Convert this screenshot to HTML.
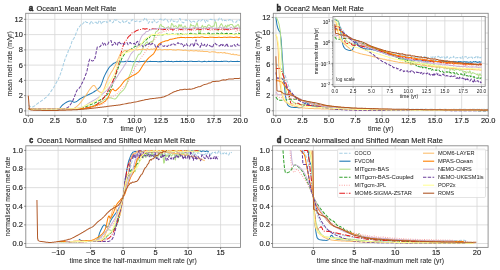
<!DOCTYPE html><html><head><meta charset="utf-8"><style>html,body{margin:0;padding:0;background:#fff;}svg{display:block;will-change:transform;}</style></head><body><svg width="500" height="270" viewBox="0 0 500 270" font-family="Liberation Sans, sans-serif">
<rect width="500" height="270" fill="#fff"/>
<rect x="25.7" y="13.3" width="214.9" height="102.0" fill="#fff"/>
<line x1="28.30" y1="13.3" x2="28.30" y2="115.3" stroke="#d6d6d6" stroke-width="0.8"/>
<line x1="54.84" y1="13.3" x2="54.84" y2="115.3" stroke="#d6d6d6" stroke-width="0.8"/>
<line x1="81.38" y1="13.3" x2="81.38" y2="115.3" stroke="#d6d6d6" stroke-width="0.8"/>
<line x1="107.91" y1="13.3" x2="107.91" y2="115.3" stroke="#d6d6d6" stroke-width="0.8"/>
<line x1="134.45" y1="13.3" x2="134.45" y2="115.3" stroke="#d6d6d6" stroke-width="0.8"/>
<line x1="160.99" y1="13.3" x2="160.99" y2="115.3" stroke="#d6d6d6" stroke-width="0.8"/>
<line x1="187.53" y1="13.3" x2="187.53" y2="115.3" stroke="#d6d6d6" stroke-width="0.8"/>
<line x1="214.06" y1="13.3" x2="214.06" y2="115.3" stroke="#d6d6d6" stroke-width="0.8"/>
<line x1="25.7" y1="110.90" x2="240.6" y2="110.90" stroke="#d6d6d6" stroke-width="0.8"/>
<line x1="25.7" y1="95.64" x2="240.6" y2="95.64" stroke="#d6d6d6" stroke-width="0.8"/>
<line x1="25.7" y1="80.38" x2="240.6" y2="80.38" stroke="#d6d6d6" stroke-width="0.8"/>
<line x1="25.7" y1="65.12" x2="240.6" y2="65.12" stroke="#d6d6d6" stroke-width="0.8"/>
<line x1="25.7" y1="49.86" x2="240.6" y2="49.86" stroke="#d6d6d6" stroke-width="0.8"/>
<line x1="25.7" y1="34.60" x2="240.6" y2="34.60" stroke="#d6d6d6" stroke-width="0.8"/>
<line x1="25.7" y1="19.34" x2="240.6" y2="19.34" stroke="#d6d6d6" stroke-width="0.8"/>
<clipPath id="ca"><rect x="25.7" y="13.3" width="214.9" height="102.0"/></clipPath>
<g clip-path="url(#ca)" fill="none" stroke-linejoin="round">
<path d="M28.30,104.79 L29.36,105.92 L30.42,106.76 L31.48,107.08 L32.55,106.92 L33.61,106.47 L34.67,105.82 L35.73,105.03 L36.79,104.16 L37.85,103.28 L38.91,102.48 L39.98,101.79 L41.04,101.08 L42.10,100.36 L43.16,99.62 L44.22,98.83 L45.28,97.96 L46.35,97.02 L47.41,96.01 L48.47,94.83 L49.53,93.53 L50.59,92.01 L51.65,90.38 L52.71,88.82 L53.78,87.22 L54.84,85.44 L55.90,83.48 L56.96,81.50 L58.02,79.66 L59.08,77.29 L60.14,74.61 L61.21,71.86 L62.27,68.30 L63.33,64.58 L64.39,61.27 L65.45,58.03 L66.51,55.54 L67.58,53.43 L68.64,49.53 L69.70,48.13 L70.76,45.51 L71.82,41.84 L72.88,39.60 L73.94,38.35 L75.01,36.21 L76.07,33.27 L77.13,30.64 L78.19,27.81 L79.25,26.98 L80.31,25.49 L81.38,23.74 L82.44,24.03 L83.50,23.00 L84.56,21.11 L85.62,21.52 L86.68,22.61 L87.74,22.61 L88.81,23.05 L89.87,24.04 L90.93,20.92 L91.99,22.26 L93.05,23.46 L94.11,22.28 L95.17,22.36 L96.24,22.12 L97.30,24.32 L98.36,22.28 L99.42,20.38 L100.48,21.71 L101.54,24.15 L102.61,22.00 L103.67,21.65 L104.73,21.39 L105.79,20.66 L106.85,22.62 L107.91,21.80 L108.97,21.87 L110.04,20.14 L111.10,21.76 L112.16,22.84 L113.22,22.33 L114.28,19.37 L115.34,20.30 L116.40,20.07 L117.47,20.10 L118.53,21.43 L119.59,22.51 L120.65,22.66 L121.71,21.46 L122.77,20.78 L123.83,23.18 L124.90,22.14 L125.96,21.55 L127.02,20.78 L128.08,21.42 L129.14,23.53 L130.20,23.06 L131.27,20.62 L132.33,19.61 L133.39,20.37 L134.45,21.20 L135.51,21.40 L136.57,21.06 L137.63,21.02 L138.70,20.81 L139.76,21.94 L140.82,21.11 L141.88,20.99 L142.94,20.49 L144.00,19.52 L145.06,17.71 L146.13,18.78 L147.19,20.72 L148.25,23.40 L149.31,21.80 L150.37,21.44 L151.43,21.81 L152.50,22.78 L153.56,19.29 L154.62,20.70 L155.68,22.95 L156.74,22.51 L157.80,21.86 L158.86,20.65 L159.93,19.25 L160.99,19.04 L162.05,20.81 L163.11,20.15 L164.17,19.89 L165.23,18.79 L166.30,19.49 L167.36,20.19 L168.42,22.21 L169.48,21.64 L170.54,20.99 L171.60,19.07 L172.66,20.47 L173.73,21.54 L174.79,21.16 L175.85,20.85 L176.91,22.20 L177.97,21.65 L179.03,19.09 L180.09,18.55 L181.16,21.50 L182.22,22.16 L183.28,22.88 L184.34,22.02 L185.40,19.92 L186.46,20.04 L187.53,20.73 L188.59,20.51 L189.65,20.72 L190.71,21.62 L191.77,22.74 L192.83,21.32 L193.89,21.23 L194.96,21.98 L196.02,21.85 L197.08,21.93 L198.14,20.77 L199.20,20.24 L200.26,21.40 L201.32,20.60 L202.39,19.69 L203.45,19.28 L204.51,20.30 L205.57,22.56 L206.63,20.27 L207.69,21.30 L208.76,20.28 L209.82,19.41 L210.88,19.18 L211.94,19.72 L213.00,19.82 L214.06,19.37 L215.12,21.24 L216.19,20.57 L217.25,20.35 L218.31,20.24 L219.37,18.08 L220.43,18.61 L221.49,18.64 L222.55,21.11 L223.62,21.17 L224.68,20.29 L225.74,20.44 L226.80,21.26 L227.86,20.49 L228.92,19.99 L229.99,19.57 L231.05,20.97 L232.11,20.15 L233.17,22.06 L234.23,22.25 L235.29,22.26 L236.35,22.01 L237.42,20.14 L238.48,19.71 L239.54,20.35 L240.60,19.32" stroke="#a6cee3" stroke-width="1.01" stroke-dasharray="3.33 1.44"/>
<path d="M28.30,108.61 L29.36,108.77 L30.42,108.94 L31.48,109.10 L32.55,109.25 L33.61,109.39 L34.67,109.51 L35.73,109.61 L36.79,109.69 L37.85,109.74 L38.91,109.76 L39.98,109.75 L41.04,109.75 L42.10,109.75 L43.16,109.74 L44.22,109.74 L45.28,109.73 L46.35,109.71 L47.41,109.70 L48.47,109.68 L49.53,109.66 L50.59,109.64 L51.65,109.61 L52.71,109.58 L53.78,109.55 L54.84,109.51 L55.90,109.47 L56.96,109.42 L58.02,109.37 L59.08,108.89 L60.14,107.79 L61.21,106.45 L62.27,105.24 L63.33,104.43 L64.39,103.68 L65.45,102.95 L66.51,102.26 L67.58,101.68 L68.64,101.24 L69.70,100.97 L70.76,100.93 L71.82,101.27 L72.88,101.78 L73.94,102.16 L75.01,102.14 L76.07,101.74 L77.13,101.08 L78.19,100.29 L79.25,99.47 L80.31,98.69 L81.38,98.08 L82.44,97.52 L83.50,96.99 L84.56,96.52 L85.62,96.02 L86.68,95.54 L87.74,95.07 L88.81,94.58 L89.87,94.04 L90.93,93.53 L91.99,92.97 L93.05,92.37 L94.11,91.70 L95.17,91.01 L96.24,90.31 L97.30,89.56 L98.36,88.67 L99.42,87.63 L100.48,86.31 L101.54,83.93 L102.61,80.83 L103.67,77.79 L104.73,75.37 L105.79,73.22 L106.85,71.29 L107.91,69.45 L108.97,67.71 L110.04,66.46 L111.10,65.64 L112.16,64.65 L113.22,63.69 L114.28,62.98 L115.34,62.66 L116.40,61.99 L117.47,61.89 L118.53,61.87 L119.59,61.55 L120.65,61.66 L121.71,61.67 L122.77,61.64 L123.83,61.75 L124.90,61.42 L125.96,61.29 L127.02,61.44 L128.08,61.23 L129.14,61.40 L130.20,61.33 L131.27,61.61 L132.33,61.79 L133.39,61.52 L134.45,61.51 L135.51,61.70 L136.57,61.61 L137.63,61.46 L138.70,61.66 L139.76,61.72 L140.82,61.49 L141.88,61.38 L142.94,61.45 L144.00,61.23 L145.06,61.26 L146.13,61.53 L147.19,61.69 L148.25,61.63 L149.31,61.40 L150.37,61.33 L151.43,61.38 L152.50,61.42 L153.56,61.49 L154.62,61.45 L155.68,61.54 L156.74,61.59 L157.80,61.73 L158.86,61.69 L159.93,61.60 L160.99,61.67 L162.05,61.53 L163.11,61.38 L164.17,61.27 L165.23,61.02 L166.30,61.38 L167.36,61.49 L168.42,61.33 L169.48,61.46 L170.54,61.47 L171.60,61.37 L172.66,61.77 L173.73,61.80 L174.79,61.40 L175.85,61.43 L176.91,61.31 L177.97,61.62 L179.03,61.50 L180.09,61.33 L181.16,61.58 L182.22,61.33 L183.28,61.26 L184.34,61.45 L185.40,61.46 L186.46,61.39 L187.53,61.41 L188.59,61.52 L189.65,61.34 L190.71,61.22 L191.77,61.18 L192.83,61.56 L193.89,61.52 L194.96,61.39 L196.02,61.49 L197.08,61.41 L198.14,61.36 L199.20,61.35 L200.26,61.55 L201.32,61.65 L202.39,61.85 L203.45,61.47 L204.51,61.31 L205.57,61.59 L206.63,61.63 L207.69,61.57 L208.76,61.37 L209.82,61.52 L210.88,61.56 L211.94,61.35 L213.00,61.37 L214.06,61.40 L215.12,61.42 L216.19,61.21 L217.25,61.41 L218.31,61.51 L219.37,61.54 L220.43,61.43 L221.49,61.37 L222.55,61.42 L223.62,61.28 L224.68,61.29 L225.74,61.23 L226.80,61.36 L227.86,61.60 L228.92,61.68 L229.99,61.36 L231.05,61.34 L232.11,61.40 L233.17,61.42 L234.23,61.54 L235.29,61.57 L236.35,61.48 L237.42,61.27 L238.48,61.47 L239.54,61.61 L240.60,61.64" stroke="#1f78b4" stroke-width="1.01"/>
<path d="M28.30,109.37 L29.36,109.37 L30.42,109.37 L31.48,109.37 L32.55,109.37 L33.61,109.37 L34.67,109.37 L35.73,109.37 L36.79,109.37 L37.85,109.36 L38.91,109.36 L39.98,109.36 L41.04,109.36 L42.10,109.35 L43.16,109.35 L44.22,109.35 L45.28,109.34 L46.35,109.34 L47.41,109.34 L48.47,109.33 L49.53,109.33 L50.59,109.32 L51.65,109.32 L52.71,109.31 L53.78,109.30 L54.84,109.29 L55.90,109.29 L56.96,109.28 L58.02,109.27 L59.08,109.26 L60.14,109.26 L61.21,109.25 L62.27,109.24 L63.33,109.23 L64.39,109.22 L65.45,109.21 L66.51,109.20 L67.58,109.19 L68.64,109.17 L69.70,109.16 L70.76,109.15 L71.82,109.14 L72.88,109.12 L73.94,109.11 L75.01,109.09 L76.07,109.08 L77.13,109.06 L78.19,109.04 L79.25,109.03 L80.31,109.01 L81.38,108.99 L82.44,108.94 L83.50,108.82 L84.56,108.64 L85.62,108.41 L86.68,108.13 L87.74,107.81 L88.81,107.45 L89.87,107.06 L90.93,106.65 L91.99,106.23 L93.05,105.78 L94.11,105.34 L95.17,104.90 L96.24,104.46 L97.30,104.02 L98.36,103.51 L99.42,102.91 L100.48,102.28 L101.54,101.59 L102.61,100.88 L103.67,100.09 L104.73,99.44 L105.79,98.84 L106.85,98.33 L107.91,98.04 L108.97,97.80 L110.04,97.84 L111.10,98.06 L112.16,98.28 L113.22,98.63 L114.28,98.95 L115.34,98.91 L116.40,98.02 L117.47,96.63 L118.53,95.07 L119.59,93.69 L120.65,92.67 L121.71,91.72 L122.77,90.71 L123.83,89.56 L124.90,87.99 L125.96,85.90 L127.02,82.99 L128.08,79.54 L129.14,76.35 L130.20,73.95 L131.27,71.35 L132.33,67.77 L133.39,65.01 L134.45,62.11 L135.51,60.57 L136.57,58.28 L137.63,56.11 L138.70,54.22 L139.76,54.24 L140.82,52.88 L141.88,50.78 L142.94,48.08 L144.00,45.02 L145.06,44.31 L146.13,42.57 L147.19,41.82 L148.25,43.91 L149.31,43.08 L150.37,42.11 L151.43,41.37 L152.50,42.25 L153.56,39.77 L154.62,35.73 L155.68,32.13 L156.74,31.37 L157.80,30.82 L158.86,28.92 L159.93,25.07 L160.99,24.46 L162.05,26.54 L163.11,26.51 L164.17,27.36 L165.23,29.19 L166.30,28.00 L167.36,27.36 L168.42,26.65 L169.48,28.35 L170.54,28.19 L171.60,23.45 L172.66,24.29 L173.73,27.12 L174.79,26.05 L175.85,25.77 L176.91,27.00 L177.97,28.06 L179.03,24.51 L180.09,26.55 L181.16,24.57 L182.22,27.13 L183.28,27.71 L184.34,26.25 L185.40,26.08 L186.46,28.75 L187.53,27.96 L188.59,29.34 L189.65,28.62 L190.71,23.89 L191.77,25.76 L192.83,25.68 L193.89,25.59 L194.96,28.54 L196.02,25.20 L197.08,22.67 L198.14,27.11 L199.20,33.94 L200.26,33.71 L201.32,27.53 L202.39,25.23 L203.45,27.74 L204.51,26.47 L205.57,26.43 L206.63,28.05 L207.69,25.50 L208.76,24.77 L209.82,25.42 L210.88,26.51 L211.94,27.22 L213.00,26.12 L214.06,26.13 L215.12,21.77 L216.19,22.70 L217.25,30.06 L218.31,30.95 L219.37,27.01 L220.43,24.91 L221.49,23.66 L222.55,25.42 L223.62,28.79 L224.68,26.80 L225.74,25.37 L226.80,27.51 L227.86,24.85 L228.92,26.26 L229.99,24.52 L231.05,24.56 L232.11,24.39 L233.17,26.07 L234.23,28.09 L235.29,26.04 L236.35,26.26 L237.42,24.83 L238.48,24.63 L239.54,27.77 L240.60,28.58" stroke="#b2df8a" stroke-width="1.01"/>
<path d="M28.30,109.37 L29.36,109.37 L30.42,109.37 L31.48,109.37 L32.55,109.37 L33.61,109.37 L34.67,109.37 L35.73,109.37 L36.79,109.36 L37.85,109.36 L38.91,109.36 L39.98,109.36 L41.04,109.35 L42.10,109.35 L43.16,109.34 L44.22,109.34 L45.28,109.33 L46.35,109.33 L47.41,109.32 L48.47,109.32 L49.53,109.31 L50.59,109.30 L51.65,109.30 L52.71,109.29 L53.78,109.28 L54.84,109.27 L55.90,109.26 L56.96,109.25 L58.02,109.24 L59.08,109.23 L60.14,109.22 L61.21,109.21 L62.27,109.20 L63.33,109.18 L64.39,109.17 L65.45,109.16 L66.51,109.14 L67.58,109.13 L68.64,109.11 L69.70,109.10 L70.76,109.08 L71.82,109.07 L72.88,109.05 L73.94,109.03 L75.01,109.01 L76.07,108.99 L77.13,108.94 L78.19,108.83 L79.25,108.66 L80.31,108.45 L81.38,108.18 L82.44,107.88 L83.50,107.54 L84.56,107.17 L85.62,106.77 L86.68,106.35 L87.74,105.91 L88.81,105.47 L89.87,105.02 L90.93,104.56 L91.99,104.11 L93.05,103.67 L94.11,103.22 L95.17,102.73 L96.24,102.19 L97.30,101.63 L98.36,101.05 L99.42,100.43 L100.48,99.78 L101.54,99.11 L102.61,98.41 L103.67,97.70 L104.73,96.90 L105.79,96.01 L106.85,94.96 L107.91,93.61 L108.97,92.00 L110.04,90.09 L111.10,87.95 L112.16,85.48 L113.22,82.62 L114.28,79.54 L115.34,76.62 L116.40,73.39 L117.47,70.11 L118.53,67.02 L119.59,64.10 L120.65,61.36 L121.71,58.78 L122.77,56.69 L123.83,54.92 L124.90,53.61 L125.96,52.43 L127.02,51.10 L128.08,50.66 L129.14,49.88 L130.20,49.37 L131.27,49.15 L132.33,48.19 L133.39,47.63 L134.45,46.89 L135.51,46.24 L136.57,46.14 L137.63,45.91 L138.70,44.91 L139.76,44.19 L140.82,43.80 L141.88,43.61 L142.94,42.78 L144.00,41.49 L145.06,40.66 L146.13,39.96 L147.19,38.85 L148.25,37.56 L149.31,37.67 L150.37,35.87 L151.43,35.13 L152.50,35.49 L153.56,35.37 L154.62,35.19 L155.68,34.68 L156.74,35.11 L157.80,34.55 L158.86,34.73 L159.93,34.74 L160.99,34.49 L162.05,35.06 L163.11,34.68 L164.17,34.51 L165.23,34.45 L166.30,34.06 L167.36,34.10 L168.42,34.49 L169.48,34.54 L170.54,34.48 L171.60,34.20 L172.66,33.98 L173.73,34.17 L174.79,34.03 L175.85,34.29 L176.91,34.21 L177.97,33.97 L179.03,34.37 L180.09,33.76 L181.16,33.71 L182.22,34.33 L183.28,34.24 L184.34,34.52 L185.40,34.33 L186.46,34.43 L187.53,34.08 L188.59,34.00 L189.65,33.52 L190.71,33.26 L191.77,33.60 L192.83,33.58 L193.89,33.83 L194.96,33.97 L196.02,34.31 L197.08,34.29 L198.14,33.40 L199.20,33.09 L200.26,33.62 L201.32,33.55 L202.39,33.20 L203.45,33.89 L204.51,34.04 L205.57,34.17 L206.63,33.96 L207.69,33.33 L208.76,32.98 L209.82,33.82 L210.88,34.01 L211.94,33.79 L213.00,33.92 L214.06,34.07 L215.12,33.37 L216.19,33.25 L217.25,33.32 L218.31,33.55 L219.37,34.22 L220.43,33.83 L221.49,32.90 L222.55,33.41 L223.62,33.95 L224.68,33.41 L225.74,33.38 L226.80,33.27 L227.86,33.49 L228.92,33.60 L229.99,33.38 L231.05,33.42 L232.11,33.80 L233.17,34.58 L234.23,34.56 L235.29,34.00 L236.35,33.94 L237.42,33.25 L238.48,33.18 L239.54,33.43 L240.60,33.56" stroke="#33a02c" stroke-width="1.01" stroke-dasharray="3.33 1.44"/>
<path d="M28.30,109.37 L29.36,109.37 L30.42,109.37 L31.48,109.37 L32.55,109.37 L33.61,109.37 L34.67,109.36 L35.73,109.36 L36.79,109.36 L37.85,109.35 L38.91,109.35 L39.98,109.34 L41.04,109.33 L42.10,109.33 L43.16,109.32 L44.22,109.31 L45.28,109.30 L46.35,109.29 L47.41,109.28 L48.47,109.27 L49.53,109.26 L50.59,109.25 L51.65,109.24 L52.71,109.22 L53.78,109.21 L54.84,109.20 L55.90,109.18 L56.96,109.17 L58.02,109.15 L59.08,109.13 L60.14,109.11 L61.21,109.10 L62.27,109.08 L63.33,109.06 L64.39,109.04 L65.45,109.02 L66.51,108.99 L67.58,108.97 L68.64,108.95 L69.70,108.92 L70.76,108.90 L71.82,108.87 L72.88,108.85 L73.94,108.82 L75.01,108.79 L76.07,108.76 L77.13,108.74 L78.19,108.71 L79.25,108.67 L80.31,108.64 L81.38,108.61 L82.44,108.57 L83.50,108.51 L84.56,108.43 L85.62,108.33 L86.68,108.21 L87.74,108.08 L88.81,107.93 L89.87,107.75 L90.93,107.56 L91.99,107.35 L93.05,107.12 L94.11,106.88 L95.17,106.62 L96.24,106.34 L97.30,106.03 L98.36,105.71 L99.42,105.37 L100.48,105.02 L101.54,104.65 L102.61,104.22 L103.67,103.46 L104.73,102.43 L105.79,101.23 L106.85,100.02 L107.91,98.88 L108.97,97.99 L110.04,97.37 L111.10,96.92 L112.16,96.52 L113.22,96.11 L114.28,95.65 L115.34,95.11 L116.40,94.38 L117.47,93.46 L118.53,92.36 L119.59,91.20 L120.65,90.13 L121.71,88.94 L122.77,87.81 L123.83,86.79 L124.90,85.78 L125.96,84.60 L127.02,83.34 L128.08,81.92 L129.14,80.12 L130.20,77.71 L131.27,75.18 L132.33,72.63 L133.39,70.58 L134.45,68.44 L135.51,66.86 L136.57,64.90 L137.63,62.91 L138.70,61.36 L139.76,59.70 L140.82,58.23 L141.88,56.37 L142.94,55.45 L144.00,54.13 L145.06,52.19 L146.13,50.72 L147.19,49.48 L148.25,47.29 L149.31,45.42 L150.37,44.36 L151.43,43.15 L152.50,41.54 L153.56,40.00 L154.62,39.64 L155.68,38.16 L156.74,35.70 L157.80,33.93 L158.86,32.16 L159.93,32.70 L160.99,32.82 L162.05,32.06 L163.11,31.24 L164.17,31.57 L165.23,31.14 L166.30,30.76 L167.36,30.64 L168.42,30.60 L169.48,30.24 L170.54,29.50 L171.60,30.19 L172.66,30.71 L173.73,29.20 L174.79,30.12 L175.85,30.07 L176.91,30.77 L177.97,30.23 L179.03,30.29 L180.09,30.12 L181.16,29.79 L182.22,30.33 L183.28,30.90 L184.34,30.20 L185.40,29.76 L186.46,30.04 L187.53,30.53 L188.59,30.46 L189.65,30.64 L190.71,31.16 L191.77,30.45 L192.83,29.52 L193.89,30.37 L194.96,30.34 L196.02,30.20 L197.08,29.01 L198.14,29.31 L199.20,30.11 L200.26,30.07 L201.32,30.02 L202.39,28.94 L203.45,29.85 L204.51,30.17 L205.57,29.34 L206.63,29.77 L207.69,29.75 L208.76,30.06 L209.82,30.54 L210.88,30.15 L211.94,29.73 L213.00,30.32 L214.06,29.95 L215.12,29.03 L216.19,30.28 L217.25,30.49 L218.31,30.17 L219.37,29.38 L220.43,29.43 L221.49,29.63 L222.55,29.96 L223.62,30.86 L224.68,30.31 L225.74,30.23 L226.80,29.84 L227.86,30.29 L228.92,30.16 L229.99,28.61 L231.05,30.33 L232.11,29.57 L233.17,29.31 L234.23,29.47 L235.29,30.66 L236.35,31.78 L237.42,30.33 L238.48,29.84 L239.54,30.75 L240.60,31.18" stroke="#fb9a99" stroke-width="1.01" stroke-dasharray="0.90 1.48"/>
<path d="M28.30,109.37 L29.36,109.37 L30.42,109.37 L31.48,109.37 L32.55,109.37 L33.61,109.37 L34.67,109.37 L35.73,109.37 L36.79,109.36 L37.85,109.36 L38.91,109.36 L39.98,109.35 L41.04,109.35 L42.10,109.35 L43.16,109.34 L44.22,109.34 L45.28,109.33 L46.35,109.33 L47.41,109.32 L48.47,109.31 L49.53,109.31 L50.59,109.30 L51.65,109.29 L52.71,109.28 L53.78,109.28 L54.84,109.27 L55.90,109.26 L56.96,109.25 L58.02,109.24 L59.08,109.23 L60.14,109.22 L61.21,109.21 L62.27,109.19 L63.33,109.18 L64.39,109.17 L65.45,109.15 L66.51,109.14 L67.58,109.13 L68.64,109.11 L69.70,109.10 L70.76,109.08 L71.82,109.06 L72.88,109.05 L73.94,109.03 L75.01,109.01 L76.07,108.99 L77.13,108.96 L78.19,108.92 L79.25,108.85 L80.31,108.76 L81.38,108.65 L82.44,108.53 L83.50,108.39 L84.56,108.23 L85.62,108.05 L86.68,107.86 L87.74,107.65 L88.81,107.43 L89.87,107.19 L90.93,106.93 L91.99,106.66 L93.05,106.38 L94.11,106.03 L95.17,105.53 L96.24,104.88 L97.30,104.11 L98.36,103.24 L99.42,102.29 L100.48,101.29 L101.54,100.26 L102.61,99.17 L103.67,97.93 L104.73,96.51 L105.79,94.94 L106.85,93.17 L107.91,91.04 L108.97,88.71 L110.04,86.49 L111.10,84.46 L112.16,82.48 L113.22,80.32 L114.28,77.94 L115.34,75.16 L116.40,71.56 L117.47,67.39 L118.53,63.04 L119.59,59.11 L120.65,54.82 L121.71,50.69 L122.77,46.90 L123.83,43.85 L124.90,41.94 L125.96,40.62 L127.02,39.02 L128.08,37.26 L129.14,36.11 L130.20,35.44 L131.27,33.94 L132.33,32.35 L133.39,32.17 L134.45,32.11 L135.51,31.19 L136.57,30.59 L137.63,30.34 L138.70,29.67 L139.76,29.49 L140.82,29.46 L141.88,29.56 L142.94,28.71 L144.00,28.75 L145.06,29.27 L146.13,28.64 L147.19,28.80 L148.25,29.03 L149.31,29.44 L150.37,29.74 L151.43,29.36 L152.50,28.80 L153.56,28.68 L154.62,28.64 L155.68,28.73 L156.74,28.98 L157.80,29.54 L158.86,29.54 L159.93,29.03 L160.99,29.01 L162.05,29.41 L163.11,29.75 L164.17,29.60 L165.23,29.62 L166.30,29.30 L167.36,29.53 L168.42,29.16 L169.48,29.03 L170.54,28.87 L171.60,28.90 L172.66,29.88 L173.73,29.69 L174.79,28.60 L175.85,28.44 L176.91,28.63 L177.97,28.95 L179.03,28.94 L180.09,29.32 L181.16,29.65 L182.22,29.23 L183.28,29.07 L184.34,28.98 L185.40,28.78 L186.46,29.69 L187.53,29.07 L188.59,28.87 L189.65,29.51 L190.71,29.72 L191.77,29.68 L192.83,29.09 L193.89,28.55 L194.96,28.89 L196.02,29.03 L197.08,29.13 L198.14,28.82 L199.20,29.23 L200.26,29.48 L201.32,29.21 L202.39,28.83 L203.45,28.73 L204.51,29.03 L205.57,28.59 L206.63,28.59 L207.69,29.57 L208.76,29.33 L209.82,28.70 L210.88,28.97 L211.94,29.08 L213.00,29.07 L214.06,29.11 L215.12,28.99 L216.19,29.06 L217.25,29.04 L218.31,29.61 L219.37,29.33 L220.43,29.14 L221.49,29.12 L222.55,28.87 L223.62,29.20 L224.68,29.23 L225.74,29.11 L226.80,29.53 L227.86,29.79 L228.92,29.59 L229.99,29.43 L231.05,29.22 L232.11,28.90 L233.17,28.70 L234.23,28.60 L235.29,28.29 L236.35,28.71 L237.42,28.86 L238.48,28.35 L239.54,28.78 L240.60,29.18" stroke="#e31a1c" stroke-width="1.01" stroke-dasharray="5.76 1.44 0.90 1.44"/>
<path d="M28.30,109.37 L29.36,109.37 L30.42,109.37 L31.48,109.37 L32.55,109.37 L33.61,109.37 L34.67,109.37 L35.73,109.36 L36.79,109.36 L37.85,109.36 L38.91,109.35 L39.98,109.34 L41.04,109.34 L42.10,109.33 L43.16,109.32 L44.22,109.31 L45.28,109.30 L46.35,109.29 L47.41,109.28 L48.47,109.27 L49.53,109.25 L50.59,109.24 L51.65,109.22 L52.71,109.21 L53.78,109.19 L54.84,109.17 L55.90,109.15 L56.96,109.13 L58.02,109.10 L59.08,109.08 L60.14,109.05 L61.21,109.02 L62.27,108.99 L63.33,108.96 L64.39,108.93 L65.45,108.90 L66.51,108.86 L67.58,108.82 L68.64,108.78 L69.70,108.74 L70.76,108.70 L71.82,108.66 L72.88,108.61 L73.94,108.37 L75.01,107.80 L76.07,107.01 L77.13,106.10 L78.19,105.18 L79.25,104.16 L80.31,102.93 L81.38,101.58 L82.44,100.22 L83.50,98.79 L84.56,97.27 L85.62,95.75 L86.68,94.13 L87.74,92.41 L88.81,90.71 L89.87,89.22 L90.93,87.85 L91.99,86.55 L93.05,85.59 L94.11,85.43 L95.17,86.47 L96.24,88.29 L97.30,90.13 L98.36,91.02 L99.42,91.73 L100.48,92.34 L101.54,92.61 L102.61,91.88 L103.67,89.98 L104.73,87.33 L105.79,84.25 L106.85,81.31 L107.91,78.80 L108.97,76.68 L110.04,74.64 L111.10,72.59 L112.16,70.96 L113.22,69.32 L114.28,67.15 L115.34,65.50 L116.40,63.00 L117.47,60.15 L118.53,57.89 L119.59,55.35 L120.65,53.47 L121.71,53.01 L122.77,52.24 L123.83,51.15 L124.90,50.51 L125.96,50.70 L127.02,50.94 L128.08,50.45 L129.14,49.86 L130.20,49.30 L131.27,49.57 L132.33,49.46 L133.39,49.55 L134.45,49.84 L135.51,49.53 L136.57,49.73 L137.63,50.00 L138.70,49.55 L139.76,49.61 L140.82,49.78 L141.88,49.16 L142.94,49.10 L144.00,49.31 L145.06,49.72 L146.13,49.19 L147.19,48.86 L148.25,49.34 L149.31,49.68 L150.37,49.14 L151.43,49.02 L152.50,49.42 L153.56,48.90 L154.62,48.65 L155.68,49.51 L156.74,49.69 L157.80,49.93 L158.86,49.46 L159.93,49.06 L160.99,49.78 L162.05,50.08 L163.11,49.86 L164.17,49.44 L165.23,49.47 L166.30,49.73 L167.36,49.49 L168.42,49.75 L169.48,49.48 L170.54,49.43 L171.60,49.61 L172.66,49.93 L173.73,49.76 L174.79,49.88 L175.85,50.24 L176.91,49.74 L177.97,49.58 L179.03,49.64 L180.09,50.04 L181.16,50.08 L182.22,50.16 L183.28,50.39 L184.34,50.17 L185.40,50.04 L186.46,50.36 L187.53,50.70 L188.59,50.83 L189.65,50.95 L190.71,50.32 L191.77,50.66 L192.83,50.70 L193.89,51.01 L194.96,50.67 L196.02,50.48 L197.08,50.77 L198.14,51.19 L199.20,50.75 L200.26,51.23 L201.32,51.28 L202.39,51.10 L203.45,51.41 L204.51,51.56 L205.57,51.61 L206.63,51.44 L207.69,51.62 L208.76,51.89 L209.82,52.14 L210.88,51.95 L211.94,51.63 L213.00,51.67 L214.06,51.93 L215.12,51.83 L216.19,52.51 L217.25,52.66 L218.31,52.51 L219.37,52.87 L220.43,52.47 L221.49,52.61 L222.55,53.08 L223.62,52.74 L224.68,52.47 L225.74,53.22 L226.80,53.25 L227.86,53.36 L228.92,53.73 L229.99,53.79 L231.05,54.20 L232.11,54.53 L233.17,53.98 L234.23,54.80 L235.29,54.70 L236.35,54.48 L237.42,54.94 L238.48,55.22 L239.54,55.17 L240.60,55.61" stroke="#fdbf6f" stroke-width="1.01"/>
<path d="M28.30,109.37 L29.36,109.37 L30.42,109.37 L31.48,109.37 L32.55,109.37 L33.61,109.37 L34.67,109.37 L35.73,109.36 L36.79,109.36 L37.85,109.35 L38.91,109.35 L39.98,109.34 L41.04,109.34 L42.10,109.33 L43.16,109.32 L44.22,109.32 L45.28,109.31 L46.35,109.30 L47.41,109.29 L48.47,109.28 L49.53,109.27 L50.59,109.26 L51.65,109.24 L52.71,109.23 L53.78,109.22 L54.84,109.20 L55.90,109.19 L56.96,109.17 L58.02,109.16 L59.08,109.14 L60.14,109.12 L61.21,109.11 L62.27,109.09 L63.33,109.07 L64.39,109.05 L65.45,109.03 L66.51,109.00 L67.58,108.98 L68.64,108.96 L69.70,108.93 L70.76,108.91 L71.82,108.88 L72.88,108.85 L73.94,108.83 L75.01,108.80 L76.07,108.77 L77.13,108.74 L78.19,108.71 L79.25,108.68 L80.31,108.64 L81.38,108.61 L82.44,108.56 L83.50,108.47 L84.56,108.35 L85.62,108.20 L86.68,108.02 L87.74,107.81 L88.81,107.58 L89.87,107.32 L90.93,107.05 L91.99,106.76 L93.05,106.45 L94.11,106.13 L95.17,105.80 L96.24,105.47 L97.30,105.12 L98.36,104.77 L99.42,104.38 L100.48,103.94 L101.54,103.43 L102.61,102.85 L103.67,102.19 L104.73,101.45 L105.79,100.52 L106.85,99.25 L107.91,97.71 L108.97,95.77 L110.04,92.94 L111.10,90.67 L112.16,89.31 L113.22,89.07 L114.28,90.54 L115.34,90.82 L116.40,90.22 L117.47,89.24 L118.53,88.10 L119.59,87.01 L120.65,85.83 L121.71,84.45 L122.77,83.02 L123.83,81.64 L124.90,80.47 L125.96,79.57 L127.02,78.84 L128.08,78.24 L129.14,77.64 L130.20,77.04 L131.27,76.50 L132.33,75.86 L133.39,75.23 L134.45,74.74 L135.51,74.23 L136.57,73.50 L137.63,72.70 L138.70,71.78 L139.76,70.41 L140.82,68.70 L141.88,67.00 L142.94,65.27 L144.00,63.79 L145.06,62.37 L146.13,60.94 L147.19,59.65 L148.25,58.43 L149.31,57.27 L150.37,56.41 L151.43,55.53 L152.50,54.69 L153.56,53.76 L154.62,52.09 L155.68,50.06 L156.74,47.75 L157.80,45.64 L158.86,44.12 L159.93,43.38 L160.99,42.71 L162.05,42.11 L163.11,41.69 L164.17,41.42 L165.23,41.01 L166.30,40.79 L167.36,40.73 L168.42,40.26 L169.48,39.57 L170.54,39.35 L171.60,39.17 L172.66,38.91 L173.73,38.82 L174.79,38.50 L175.85,38.19 L176.91,38.06 L177.97,37.72 L179.03,37.76 L180.09,37.48 L181.16,37.25 L182.22,37.39 L183.28,37.56 L184.34,37.52 L185.40,37.74 L186.46,37.60 L187.53,37.40 L188.59,37.39 L189.65,37.55 L190.71,37.43 L191.77,37.57 L192.83,37.65 L193.89,37.38 L194.96,37.27 L196.02,37.43 L197.08,37.32 L198.14,37.37 L199.20,37.43 L200.26,37.15 L201.32,37.10 L202.39,37.10 L203.45,37.25 L204.51,37.48 L205.57,37.50 L206.63,37.53 L207.69,37.53 L208.76,37.38 L209.82,37.12 L210.88,37.19 L211.94,37.36 L213.00,37.31 L214.06,37.51 L215.12,37.43 L216.19,37.55 L217.25,37.51 L218.31,37.29 L219.37,37.32 L220.43,37.39 L221.49,37.43 L222.55,37.43 L223.62,37.35 L224.68,37.35 L225.74,37.34 L226.80,37.42 L227.86,37.21 L228.92,37.13 L229.99,37.04 L231.05,37.13 L232.11,37.30 L233.17,37.49 L234.23,37.51 L235.29,37.17 L236.35,36.97 L237.42,37.23 L238.48,37.65 L239.54,37.39 L240.60,37.39" stroke="#ff7f00" stroke-width="1.01"/>
<path d="M28.30,109.37 L29.36,109.37 L30.42,109.37 L31.48,109.37 L32.55,109.37 L33.61,109.37 L34.67,109.37 L35.73,109.37 L36.79,109.36 L37.85,109.36 L38.91,109.36 L39.98,109.35 L41.04,109.35 L42.10,109.34 L43.16,109.34 L44.22,109.33 L45.28,109.32 L46.35,109.32 L47.41,109.31 L48.47,109.30 L49.53,109.29 L50.59,109.28 L51.65,109.27 L52.71,109.26 L53.78,109.25 L54.84,109.24 L55.90,109.23 L56.96,109.22 L58.02,109.20 L59.08,109.19 L60.14,109.17 L61.21,109.16 L62.27,109.14 L63.33,109.13 L64.39,109.11 L65.45,109.09 L66.51,109.07 L67.58,109.05 L68.64,109.03 L69.70,109.01 L70.76,108.99 L71.82,108.95 L72.88,108.88 L73.94,108.78 L75.01,108.65 L76.07,108.50 L77.13,108.32 L78.19,108.11 L79.25,107.88 L80.31,107.64 L81.38,107.37 L82.44,107.09 L83.50,106.68 L84.56,106.08 L85.62,105.37 L86.68,104.59 L87.74,103.81 L88.81,103.11 L89.87,102.48 L90.93,101.88 L91.99,101.29 L93.05,100.69 L94.11,100.09 L95.17,99.48 L96.24,98.83 L97.30,98.14 L98.36,97.40 L99.42,96.59 L100.48,95.67 L101.54,94.71 L102.61,93.79 L103.67,92.91 L104.73,92.04 L105.79,91.19 L106.85,90.32 L107.91,89.35 L108.97,88.38 L110.04,87.23 L111.10,85.90 L112.16,84.33 L113.22,82.78 L114.28,81.15 L115.34,79.58 L116.40,77.87 L117.47,76.25 L118.53,74.60 L119.59,72.86 L120.65,71.25 L121.71,69.76 L122.77,68.20 L123.83,66.39 L124.90,64.69 L125.96,63.04 L127.02,61.28 L128.08,59.46 L129.14,57.57 L130.20,55.36 L131.27,53.59 L132.33,52.45 L133.39,51.07 L134.45,50.14 L135.51,49.38 L136.57,48.06 L137.63,46.45 L138.70,43.70 L139.76,40.90 L140.82,38.03 L141.88,35.97 L142.94,34.72 L144.00,34.02 L145.06,33.17 L146.13,31.56 L147.19,31.59 L148.25,31.21 L149.31,30.42 L150.37,29.86 L151.43,29.74 L152.50,29.25 L153.56,28.94 L154.62,28.81 L155.68,28.98 L156.74,28.58 L157.80,28.67 L158.86,28.56 L159.93,28.30 L160.99,28.86 L162.05,28.96 L163.11,28.50 L164.17,28.56 L165.23,28.54 L166.30,28.06 L167.36,27.73 L168.42,28.34 L169.48,28.36 L170.54,28.30 L171.60,28.02 L172.66,28.56 L173.73,28.85 L174.79,28.66 L175.85,28.04 L176.91,28.36 L177.97,28.93 L179.03,28.41 L180.09,27.89 L181.16,28.15 L182.22,28.73 L183.28,28.20 L184.34,28.03 L185.40,28.44 L186.46,28.41 L187.53,28.56 L188.59,28.56 L189.65,28.06 L190.71,28.26 L191.77,28.54 L192.83,27.87 L193.89,27.69 L194.96,27.84 L196.02,27.85 L197.08,27.99 L198.14,27.74 L199.20,27.96 L200.26,27.49 L201.32,28.28 L202.39,28.39 L203.45,28.36 L204.51,28.21 L205.57,28.26 L206.63,28.25 L207.69,27.96 L208.76,27.60 L209.82,27.73 L210.88,27.85 L211.94,27.72 L213.00,28.44 L214.06,28.46 L215.12,28.19 L216.19,28.00 L217.25,28.66 L218.31,28.15 L219.37,27.21 L220.43,27.13 L221.49,27.74 L222.55,28.39 L223.62,27.76 L224.68,27.62 L225.74,28.15 L226.80,28.48 L227.86,28.30 L228.92,28.66 L229.99,27.92 L231.05,27.08 L232.11,27.93 L233.17,28.63 L234.23,28.30 L235.29,27.85 L236.35,27.99 L237.42,27.82 L238.48,28.13 L239.54,27.91 L240.60,27.99" stroke="#cab2d6" stroke-width="1.01"/>
<path d="M28.30,109.37 L29.36,109.38 L30.42,109.38 L31.48,109.37 L32.55,109.37 L33.61,109.37 L34.67,109.37 L35.73,109.37 L36.79,109.37 L37.85,109.37 L38.91,109.37 L39.98,109.37 L41.04,109.37 L42.10,109.37 L43.16,109.37 L44.22,109.37 L45.28,109.37 L46.35,109.37 L47.41,109.37 L48.47,109.37 L49.53,109.37 L50.59,109.37 L51.65,109.37 L52.71,109.37 L53.78,109.37 L54.84,109.37 L55.90,109.37 L56.96,109.38 L58.02,109.37 L59.08,109.37 L60.14,109.37 L61.21,109.33 L62.27,109.21 L63.33,109.02 L64.39,108.76 L65.45,108.44 L66.51,108.08 L67.58,107.64 L68.64,106.79 L69.70,105.54 L70.76,104.02 L71.82,102.32 L72.88,100.49 L73.94,98.10 L75.01,95.13 L76.07,92.33 L77.13,90.14 L78.19,88.90 L79.25,88.19 L80.31,86.56 L81.38,84.59 L82.44,82.54 L83.50,80.39 L84.56,77.70 L85.62,74.75 L86.68,72.39 L87.74,67.30 L88.81,61.59 L89.87,59.10 L90.93,59.90 L91.99,60.93 L93.05,60.72 L94.11,60.34 L95.17,57.53 L96.24,51.85 L97.30,46.92 L98.36,47.01 L99.42,46.95 L100.48,46.22 L101.54,44.29 L102.61,42.87 L103.67,45.11 L104.73,43.31 L105.79,45.30 L106.85,45.19 L107.91,44.15 L108.97,41.87 L110.04,41.39 L111.10,40.51 L112.16,45.43 L113.22,44.41 L114.28,42.34 L115.34,42.98 L116.40,45.26 L117.47,45.13 L118.53,41.41 L119.59,42.66 L120.65,43.57 L121.71,44.02 L122.77,43.31 L123.83,44.44 L124.90,43.88 L125.96,43.23 L127.02,42.62 L128.08,44.72 L129.14,43.62 L130.20,42.44 L131.27,43.72 L132.33,44.21 L133.39,43.72 L134.45,43.34 L135.51,44.60 L136.57,42.20 L137.63,41.39 L138.70,44.22 L139.76,45.99 L140.82,45.63 L141.88,44.91 L142.94,46.87 L144.00,46.79 L145.06,46.01 L146.13,45.15 L147.19,44.29 L148.25,45.17 L149.31,43.01 L150.37,45.32 L151.43,43.92 L152.50,43.56 L153.56,43.80 L154.62,44.34 L155.68,47.30 L156.74,47.53 L157.80,45.99 L158.86,47.10 L159.93,44.78 L160.99,43.69 L162.05,45.36 L163.11,46.21 L164.17,46.34 L165.23,45.26 L166.30,46.06 L167.36,46.56 L168.42,45.20 L169.48,46.03 L170.54,44.92 L171.60,44.81 L172.66,43.17 L173.73,43.90 L174.79,45.01 L175.85,44.82 L176.91,43.55 L177.97,42.63 L179.03,43.61 L180.09,44.61 L181.16,43.61 L182.22,44.18 L183.28,46.65 L184.34,44.97 L185.40,45.26 L186.46,43.75 L187.53,45.73 L188.59,45.91 L189.65,46.37 L190.71,44.55 L191.77,43.06 L192.83,43.91 L193.89,46.90 L194.96,43.11 L196.02,39.81 L197.08,43.99 L198.14,44.79 L199.20,46.22 L200.26,47.28 L201.32,43.10 L202.39,45.88 L203.45,46.12 L204.51,44.16 L205.57,46.58 L206.63,46.06 L207.69,44.29 L208.76,45.00 L209.82,45.78 L210.88,46.14 L211.94,47.73 L213.00,46.35 L214.06,43.29 L215.12,43.36 L216.19,44.46 L217.25,45.03 L218.31,45.79 L219.37,45.99 L220.43,45.23 L221.49,43.51 L222.55,45.66 L223.62,44.76 L224.68,46.15 L225.74,45.68 L226.80,43.19 L227.86,46.21 L228.92,46.11 L229.99,45.71 L231.05,46.32 L232.11,45.86 L233.17,46.06 L234.23,44.57 L235.29,46.09 L236.35,46.24 L237.42,43.92 L238.48,45.76 L239.54,46.36 L240.60,44.57" stroke="#6a3d9a" stroke-width="1.01" stroke-dasharray="3.33 1.44"/>
<path d="M28.30,109.37 L29.36,109.37 L30.42,109.37 L31.48,109.37 L32.55,109.37 L33.61,109.37 L34.67,109.36 L35.73,109.36 L36.79,109.36 L37.85,109.35 L38.91,109.35 L39.98,109.34 L41.04,109.33 L42.10,109.33 L43.16,109.32 L44.22,109.31 L45.28,109.30 L46.35,109.29 L47.41,109.28 L48.47,109.26 L49.53,109.25 L50.59,109.24 L51.65,109.22 L52.71,109.21 L53.78,109.19 L54.84,109.17 L55.90,109.15 L56.96,109.14 L58.02,109.11 L59.08,109.09 L60.14,109.07 L61.21,109.05 L62.27,109.02 L63.33,109.00 L64.39,108.97 L65.45,108.95 L66.51,108.92 L67.58,108.89 L68.64,108.86 L69.70,108.83 L70.76,108.79 L71.82,108.76 L72.88,108.72 L73.94,108.69 L75.01,108.65 L76.07,108.61 L77.13,108.52 L78.19,108.34 L79.25,108.08 L80.31,107.75 L81.38,107.36 L82.44,106.93 L83.50,106.46 L84.56,105.97 L85.62,105.47 L86.68,104.98 L87.74,104.49 L88.81,104.03 L89.87,103.61 L90.93,103.20 L91.99,102.80 L93.05,102.37 L94.11,101.90 L95.17,101.37 L96.24,100.74 L97.30,100.02 L98.36,99.07 L99.42,97.44 L100.48,95.42 L101.54,93.44 L102.61,91.86 L103.67,90.59 L104.73,89.44 L105.79,88.06 L106.85,86.55 L107.91,85.04 L108.97,83.41 L110.04,81.75 L111.10,79.93 L112.16,78.02 L113.22,75.95 L114.28,73.76 L115.34,71.32 L116.40,68.08 L117.47,64.41 L118.53,61.34 L119.59,59.18 L120.65,57.18 L121.71,55.35 L122.77,54.24 L123.83,53.83 L124.90,53.05 L125.96,52.69 L127.02,52.18 L128.08,52.00 L129.14,51.69 L130.20,51.32 L131.27,51.05 L132.33,50.20 L133.39,49.95 L134.45,49.64 L135.51,48.78 L136.57,48.37 L137.63,47.85 L138.70,47.20 L139.76,45.78 L140.82,44.54 L141.88,43.34 L142.94,41.90 L144.00,40.10 L145.06,38.92 L146.13,38.18 L147.19,37.57 L148.25,37.21 L149.31,36.39 L150.37,35.80 L151.43,35.00 L152.50,34.25 L153.56,34.71 L154.62,34.62 L155.68,34.51 L156.74,34.80 L157.80,34.37 L158.86,34.44 L159.93,34.74 L160.99,34.78 L162.05,34.79 L163.11,34.63 L164.17,34.50 L165.23,34.03 L166.30,34.43 L167.36,34.82 L168.42,34.64 L169.48,33.85 L170.54,34.16 L171.60,34.41 L172.66,34.48 L173.73,34.58 L174.79,34.42 L175.85,34.04 L176.91,34.71 L177.97,35.02 L179.03,35.09 L180.09,35.13 L181.16,34.28 L182.22,34.12 L183.28,33.81 L184.34,34.13 L185.40,34.70 L186.46,34.30 L187.53,34.19 L188.59,34.43 L189.65,34.58 L190.71,34.28 L191.77,34.24 L192.83,34.21 L193.89,34.60 L194.96,34.69 L196.02,34.75 L197.08,34.77 L198.14,34.81 L199.20,34.58 L200.26,34.37 L201.32,34.26 L202.39,34.07 L203.45,34.20 L204.51,34.56 L205.57,34.78 L206.63,34.26 L207.69,34.45 L208.76,35.06 L209.82,34.99 L210.88,34.96 L211.94,34.88 L213.00,34.78 L214.06,34.76 L215.12,34.64 L216.19,34.91 L217.25,34.68 L218.31,34.84 L219.37,34.68 L220.43,34.31 L221.49,34.49 L222.55,34.48 L223.62,34.57 L224.68,34.31 L225.74,34.44 L226.80,34.86 L227.86,34.92 L228.92,34.27 L229.99,34.37 L231.05,34.50 L232.11,34.50 L233.17,34.52 L234.23,34.67 L235.29,34.84 L236.35,34.55 L237.42,34.58 L238.48,34.87 L239.54,34.57 L240.60,34.01" stroke="#ffff99" stroke-width="1.01"/>
<path d="M28.30,95.65 L29.36,109.05 L30.42,109.87 L31.48,109.99 L32.55,110.07 L33.61,110.13 L34.67,110.18 L35.73,110.21 L36.79,110.24 L37.85,110.26 L38.91,110.29 L39.98,110.32 L41.04,110.36 L42.10,110.39 L43.16,110.42 L44.22,110.45 L45.28,110.47 L46.35,110.49 L47.41,110.51 L48.47,110.52 L49.53,110.52 L50.59,110.52 L51.65,110.51 L52.71,110.50 L53.78,110.48 L54.84,110.46 L55.90,110.43 L56.96,110.41 L58.02,110.38 L59.08,110.34 L60.14,110.31 L61.21,110.28 L62.27,110.24 L63.33,110.21 L64.39,110.17 L65.45,110.14 L66.51,110.10 L67.58,110.07 L68.64,110.03 L69.70,109.98 L70.76,109.94 L71.82,109.90 L72.88,109.85 L73.94,109.80 L75.01,109.75 L76.07,109.69 L77.13,109.63 L78.19,109.57 L79.25,109.51 L80.31,109.44 L81.38,109.37 L82.44,109.30 L83.50,109.22 L84.56,109.12 L85.62,109.02 L86.68,108.91 L87.74,108.80 L88.81,108.68 L89.87,108.56 L90.93,108.44 L91.99,108.32 L93.05,108.19 L94.11,108.07 L95.17,107.95 L96.24,107.83 L97.30,107.70 L98.36,107.58 L99.42,107.44 L100.48,107.31 L101.54,107.18 L102.61,107.04 L103.67,106.91 L104.73,106.77 L105.79,106.63 L106.85,106.49 L107.91,106.36 L108.97,106.22 L110.04,106.08 L111.10,105.96 L112.16,105.81 L113.22,105.68 L114.28,105.55 L115.34,105.43 L116.40,105.33 L117.47,105.22 L118.53,105.10 L119.59,104.96 L120.65,104.77 L121.71,104.57 L122.77,104.35 L123.83,104.12 L124.90,103.87 L125.96,103.64 L127.02,103.43 L128.08,103.23 L129.14,103.04 L130.20,102.89 L131.27,102.71 L132.33,102.50 L133.39,102.33 L134.45,102.12 L135.51,101.88 L136.57,101.71 L137.63,101.50 L138.70,101.25 L139.76,101.00 L140.82,100.75 L141.88,100.48 L142.94,100.27 L144.00,100.06 L145.06,99.81 L146.13,99.58 L147.19,99.40 L148.25,99.18 L149.31,98.97 L150.37,98.84 L151.43,98.73 L152.50,98.58 L153.56,98.44 L154.62,98.33 L155.68,98.19 L156.74,98.05 L157.80,97.99 L158.86,97.83 L159.93,97.67 L160.99,97.55 L162.05,97.27 L163.11,96.98 L164.17,96.72 L165.23,96.27 L166.30,95.78 L167.36,95.35 L168.42,94.87 L169.48,94.29 L170.54,93.66 L171.60,93.09 L172.66,92.53 L173.73,91.93 L174.79,91.60 L175.85,91.19 L176.91,90.75 L177.97,90.43 L179.03,90.22 L180.09,89.84 L181.16,89.63 L182.22,89.74 L183.28,89.54 L184.34,89.33 L185.40,89.36 L186.46,89.42 L187.53,89.26 L188.59,89.27 L189.65,89.08 L190.71,89.13 L191.77,89.00 L192.83,88.69 L193.89,88.47 L194.96,88.09 L196.02,87.56 L197.08,87.31 L198.14,86.84 L199.20,86.70 L200.26,86.45 L201.32,85.96 L202.39,85.42 L203.45,84.87 L204.51,84.45 L205.57,84.29 L206.63,84.01 L207.69,83.67 L208.76,83.12 L209.82,82.91 L210.88,82.68 L211.94,81.88 L213.00,81.55 L214.06,81.40 L215.12,81.60 L216.19,81.25 L217.25,81.17 L218.31,81.16 L219.37,80.92 L220.43,80.64 L221.49,80.24 L222.55,80.01 L223.62,79.86 L224.68,80.11 L225.74,79.97 L226.80,79.51 L227.86,79.35 L228.92,79.11 L229.99,79.05 L231.05,79.11 L232.11,78.91 L233.17,79.00 L234.23,78.62 L235.29,78.48 L236.35,78.49 L237.42,78.49 L238.48,78.62 L239.54,78.30 L240.60,78.19" stroke="#b15928" stroke-width="1.01"/>
</g>
<rect x="25.7" y="13.3" width="214.9" height="102.0" fill="none" stroke="#8a8a8a" stroke-width="0.9"/>
<line x1="28.30" y1="115.3" x2="28.30" y2="116.89999999999999" stroke="#555555" stroke-width="0.7"/>
<line x1="54.84" y1="115.3" x2="54.84" y2="116.89999999999999" stroke="#555555" stroke-width="0.7"/>
<line x1="81.38" y1="115.3" x2="81.38" y2="116.89999999999999" stroke="#555555" stroke-width="0.7"/>
<line x1="107.91" y1="115.3" x2="107.91" y2="116.89999999999999" stroke="#555555" stroke-width="0.7"/>
<line x1="134.45" y1="115.3" x2="134.45" y2="116.89999999999999" stroke="#555555" stroke-width="0.7"/>
<line x1="160.99" y1="115.3" x2="160.99" y2="116.89999999999999" stroke="#555555" stroke-width="0.7"/>
<line x1="187.53" y1="115.3" x2="187.53" y2="116.89999999999999" stroke="#555555" stroke-width="0.7"/>
<line x1="214.06" y1="115.3" x2="214.06" y2="116.89999999999999" stroke="#555555" stroke-width="0.7"/>
<line x1="240.60" y1="115.3" x2="240.60" y2="116.89999999999999" stroke="#555555" stroke-width="0.7"/>
<line x1="24.099999999999998" y1="110.90" x2="25.7" y2="110.90" stroke="#555555" stroke-width="0.7"/>
<line x1="24.099999999999998" y1="95.64" x2="25.7" y2="95.64" stroke="#555555" stroke-width="0.7"/>
<line x1="24.099999999999998" y1="80.38" x2="25.7" y2="80.38" stroke="#555555" stroke-width="0.7"/>
<line x1="24.099999999999998" y1="65.12" x2="25.7" y2="65.12" stroke="#555555" stroke-width="0.7"/>
<line x1="24.099999999999998" y1="49.86" x2="25.7" y2="49.86" stroke="#555555" stroke-width="0.7"/>
<line x1="24.099999999999998" y1="34.60" x2="25.7" y2="34.60" stroke="#555555" stroke-width="0.7"/>
<line x1="24.099999999999998" y1="19.34" x2="25.7" y2="19.34" stroke="#555555" stroke-width="0.7"/>
<text x="28.30" y="123.30" font-size="6.89" text-anchor="middle" fill="#262626" stroke="#262626" stroke-width="0.15" textLength="10.34" lengthAdjust="spacingAndGlyphs">0.0</text>
<text x="54.84" y="123.30" font-size="6.89" text-anchor="middle" fill="#262626" stroke="#262626" stroke-width="0.15" textLength="10.34" lengthAdjust="spacingAndGlyphs">2.5</text>
<text x="81.38" y="123.30" font-size="6.89" text-anchor="middle" fill="#262626" stroke="#262626" stroke-width="0.15" textLength="10.34" lengthAdjust="spacingAndGlyphs">5.0</text>
<text x="107.91" y="123.30" font-size="6.89" text-anchor="middle" fill="#262626" stroke="#262626" stroke-width="0.15" textLength="10.34" lengthAdjust="spacingAndGlyphs">7.5</text>
<text x="134.45" y="123.30" font-size="6.89" text-anchor="middle" fill="#262626" stroke="#262626" stroke-width="0.15" textLength="14.47" lengthAdjust="spacingAndGlyphs">10.0</text>
<text x="160.99" y="123.30" font-size="6.89" text-anchor="middle" fill="#262626" stroke="#262626" stroke-width="0.15" textLength="14.47" lengthAdjust="spacingAndGlyphs">12.5</text>
<text x="187.53" y="123.30" font-size="6.89" text-anchor="middle" fill="#262626" stroke="#262626" stroke-width="0.15" textLength="14.47" lengthAdjust="spacingAndGlyphs">15.0</text>
<text x="214.06" y="123.30" font-size="6.89" text-anchor="middle" fill="#262626" stroke="#262626" stroke-width="0.15" textLength="14.47" lengthAdjust="spacingAndGlyphs">17.5</text>
<text x="240.60" y="123.30" font-size="6.89" text-anchor="middle" fill="#262626" stroke="#262626" stroke-width="0.15" textLength="14.47" lengthAdjust="spacingAndGlyphs">20.0</text>
<text x="22.90" y="113.30" font-size="6.89" text-anchor="end" fill="#262626" stroke="#262626" stroke-width="0.15" textLength="4.14" lengthAdjust="spacingAndGlyphs">0</text>
<text x="22.90" y="98.04" font-size="6.89" text-anchor="end" fill="#262626" stroke="#262626" stroke-width="0.15" textLength="4.14" lengthAdjust="spacingAndGlyphs">2</text>
<text x="22.90" y="82.78" font-size="6.89" text-anchor="end" fill="#262626" stroke="#262626" stroke-width="0.15" textLength="4.14" lengthAdjust="spacingAndGlyphs">4</text>
<text x="22.90" y="67.52" font-size="6.89" text-anchor="end" fill="#262626" stroke="#262626" stroke-width="0.15" textLength="4.14" lengthAdjust="spacingAndGlyphs">6</text>
<text x="22.90" y="52.26" font-size="6.89" text-anchor="end" fill="#262626" stroke="#262626" stroke-width="0.15" textLength="4.14" lengthAdjust="spacingAndGlyphs">8</text>
<text x="22.90" y="37.00" font-size="6.89" text-anchor="end" fill="#262626" stroke="#262626" stroke-width="0.15" textLength="8.27" lengthAdjust="spacingAndGlyphs">10</text>
<text x="22.90" y="21.74" font-size="6.89" text-anchor="end" fill="#262626" stroke="#262626" stroke-width="0.15" textLength="8.27" lengthAdjust="spacingAndGlyphs">12</text>
<text x="133.20" y="130.60" font-size="6.90" text-anchor="middle" fill="#262626" stroke="#262626" stroke-width="0.05" textLength="25.51" lengthAdjust="spacingAndGlyphs">time (yr)</text>
<text x="12.30" y="63.80" font-size="6.90" text-anchor="middle" fill="#262626" stroke="#262626" stroke-width="0.05" textLength="65.37" lengthAdjust="spacingAndGlyphs" transform="rotate(-90 12.30 63.80)">mean melt rate (m/yr)</text>
<text x="28.80" y="10.60" font-size="8.65" text-anchor="start" font-weight="bold" fill="#262626" stroke="#262626" stroke-width="0.55" textLength="4.42" lengthAdjust="spacingAndGlyphs">a</text>
<text x="36.60" y="10.60" font-size="7.73" text-anchor="start" fill="#262626" stroke="#262626" stroke-width="0.14" textLength="79.74" lengthAdjust="spacingAndGlyphs">Ocean1 Mean Melt Rate</text>
<rect x="273.3" y="13.3" width="214.89999999999998" height="102.0" fill="#fff"/>
<line x1="275.90" y1="13.3" x2="275.90" y2="115.3" stroke="#d6d6d6" stroke-width="0.8"/>
<line x1="302.44" y1="13.3" x2="302.44" y2="115.3" stroke="#d6d6d6" stroke-width="0.8"/>
<line x1="328.97" y1="13.3" x2="328.97" y2="115.3" stroke="#d6d6d6" stroke-width="0.8"/>
<line x1="355.51" y1="13.3" x2="355.51" y2="115.3" stroke="#d6d6d6" stroke-width="0.8"/>
<line x1="382.05" y1="13.3" x2="382.05" y2="115.3" stroke="#d6d6d6" stroke-width="0.8"/>
<line x1="408.59" y1="13.3" x2="408.59" y2="115.3" stroke="#d6d6d6" stroke-width="0.8"/>
<line x1="435.12" y1="13.3" x2="435.12" y2="115.3" stroke="#d6d6d6" stroke-width="0.8"/>
<line x1="461.66" y1="13.3" x2="461.66" y2="115.3" stroke="#d6d6d6" stroke-width="0.8"/>
<line x1="273.3" y1="110.80" x2="488.2" y2="110.80" stroke="#d6d6d6" stroke-width="0.8"/>
<line x1="273.3" y1="95.24" x2="488.2" y2="95.24" stroke="#d6d6d6" stroke-width="0.8"/>
<line x1="273.3" y1="79.68" x2="488.2" y2="79.68" stroke="#d6d6d6" stroke-width="0.8"/>
<line x1="273.3" y1="64.12" x2="488.2" y2="64.12" stroke="#d6d6d6" stroke-width="0.8"/>
<line x1="273.3" y1="48.56" x2="488.2" y2="48.56" stroke="#d6d6d6" stroke-width="0.8"/>
<line x1="273.3" y1="33.00" x2="488.2" y2="33.00" stroke="#d6d6d6" stroke-width="0.8"/>
<line x1="273.3" y1="17.44" x2="488.2" y2="17.44" stroke="#d6d6d6" stroke-width="0.8"/>
<clipPath id="cb"><rect x="273.3" y="13.3" width="214.89999999999998" height="102.0"/></clipPath>
<g clip-path="url(#cb)" fill="none" stroke-linejoin="round">
<path d="M275.90,64.12 L276.96,64.69 L278.02,65.50 L279.08,66.45 L280.15,67.56 L281.21,68.86 L282.27,70.37 L283.33,72.08 L284.39,73.99 L285.45,76.24 L286.51,79.44 L287.58,82.94 L288.64,86.12 L289.70,88.69 L290.76,90.97 L291.82,92.91 L292.88,94.53 L293.95,95.97 L295.01,97.22 L296.07,98.27 L297.13,99.13 L298.19,99.85 L299.25,100.50 L300.31,101.08 L301.38,101.60 L302.44,102.06 L303.50,102.48 L304.56,102.86 L305.62,103.20 L306.68,103.52 L307.75,103.80 L308.81,104.06 L309.87,104.30 L310.93,104.53 L311.99,104.75 L313.05,104.95 L314.11,105.14 L315.18,105.32 L316.24,105.48 L317.30,105.64 L318.36,105.79 L319.42,105.93 L320.48,106.07 L321.54,106.19 L322.61,106.31 L323.67,106.42 L324.73,106.53 L325.79,106.63 L326.85,106.73 L327.91,106.82 L328.97,106.91 L330.04,106.99 L331.10,107.06 L332.16,107.14 L333.22,107.25 L334.28,107.28 L335.34,107.28 L336.41,107.46 L337.47,107.46 L338.53,107.57 L339.59,107.64 L340.65,107.63 L341.71,107.63 L342.77,107.69 L343.84,107.76 L344.90,107.77 L345.96,108.01 L347.02,107.86 L348.08,107.94 L349.14,108.04 L350.20,108.07 L351.27,108.20 L352.33,108.04 L353.39,108.28 L354.45,108.40 L355.51,108.29 L356.57,108.40 L357.64,108.39 L358.70,108.25 L359.76,108.49 L360.82,108.50 L361.88,108.27 L362.94,108.77 L364.00,108.60 L365.07,108.53 L366.13,108.52 L367.19,108.45 L368.25,108.87 L369.31,108.74 L370.37,108.86 L371.43,108.93 L372.50,108.99 L373.56,109.10 L374.62,108.90 L375.68,108.87 L376.74,109.12 L377.80,108.92 L378.87,109.10 L379.93,109.18 L380.99,109.37 L382.05,108.97 L383.11,109.04 L384.17,109.18 L385.23,109.20 L386.30,109.32 L387.36,109.14 L388.42,109.22 L389.48,109.17 L390.54,109.22 L391.60,109.40 L392.66,109.43 L393.73,109.24 L394.79,109.46 L395.85,109.27 L396.91,109.21 L397.97,109.44 L399.03,109.25 L400.10,109.32 L401.16,109.27 L402.22,109.39 L403.28,109.33 L404.34,109.29 L405.40,109.13 L406.46,109.25 L407.53,109.28 L408.59,109.46 L409.65,109.29 L410.71,109.40 L411.77,109.34 L412.83,109.30 L413.89,109.23 L414.96,109.27 L416.02,109.31 L417.08,109.33 L418.14,109.18 L419.20,109.41 L420.26,109.32 L421.33,109.18 L422.39,109.35 L423.45,109.24 L424.51,109.23 L425.57,109.11 L426.63,109.21 L427.69,109.49 L428.76,109.33 L429.82,109.30 L430.88,109.24 L431.94,109.29 L433.00,109.12 L434.06,109.21 L435.12,109.44 L436.19,109.39 L437.25,109.53 L438.31,109.14 L439.37,109.34 L440.43,109.34 L441.49,109.48 L442.56,109.38 L443.62,109.29 L444.68,109.37 L445.74,109.37 L446.80,109.40 L447.86,109.12 L448.92,109.39 L449.99,109.48 L451.05,109.39 L452.11,109.37 L453.17,109.35 L454.23,109.36 L455.29,109.45 L456.36,109.36 L457.42,109.30 L458.48,109.48 L459.54,109.12 L460.60,109.16 L461.66,109.52 L462.72,109.38 L463.79,109.23 L464.85,109.20 L465.91,109.15 L466.97,109.52 L468.03,109.45 L469.09,109.39 L470.15,109.28 L471.22,109.45 L472.28,109.30 L473.34,109.29 L474.40,109.26 L475.46,109.47 L476.52,109.32 L477.58,109.33 L478.65,109.38 L479.71,109.20 L480.77,109.37 L481.83,109.18 L482.89,109.40 L483.95,109.15 L485.02,109.16 L486.08,109.42 L487.14,109.30 L488.20,109.30" stroke="#a6cee3" stroke-width="1.01" stroke-dasharray="3.33 1.44"/>
<path d="M275.90,17.44 L276.96,24.86 L278.02,28.83 L279.08,30.95 L280.15,32.03 L281.21,40.55 L282.27,56.67 L283.33,71.65 L284.39,86.08 L285.45,95.57 L286.51,101.46 L287.58,104.89 L288.64,106.03 L289.70,106.57 L290.76,106.93 L291.82,107.16 L292.88,107.30 L293.95,107.40 L295.01,107.49 L296.07,107.57 L297.13,107.62 L298.19,107.66 L299.25,107.69 L300.31,107.65 L301.38,107.36 L302.44,106.83 L303.50,106.13 L304.56,104.72 L305.62,102.80 L306.68,102.55 L307.75,103.46 L308.81,104.58 L309.87,105.43 L310.93,105.81 L311.99,106.07 L313.05,106.29 L314.11,106.47 L315.18,106.62 L316.24,106.74 L317.30,106.83 L318.36,106.91 L319.42,106.97 L320.48,107.02 L321.54,107.06 L322.61,107.09 L323.67,107.12 L324.73,107.15 L325.79,107.18 L326.85,107.22 L327.91,107.25 L328.97,107.30 L330.04,107.35 L331.10,107.41 L332.16,107.47 L333.22,107.52 L334.28,107.60 L335.34,107.68 L336.41,107.74 L337.47,107.81 L338.53,107.88 L339.59,107.94 L340.65,108.00 L341.71,108.13 L342.77,108.18 L343.84,108.28 L344.90,108.31 L345.96,108.37 L347.02,108.46 L348.08,108.53 L349.14,108.59 L350.20,108.66 L351.27,108.66 L352.33,108.67 L353.39,108.80 L354.45,108.77 L355.51,108.86 L356.57,108.94 L357.64,108.92 L358.70,108.95 L359.76,109.00 L360.82,109.06 L361.88,109.04 L362.94,109.14 L364.00,109.14 L365.07,109.18 L366.13,109.26 L367.19,109.33 L368.25,109.36 L369.31,109.35 L370.37,109.36 L371.43,109.45 L372.50,109.45 L373.56,109.41 L374.62,109.54 L375.68,109.49 L376.74,109.52 L377.80,109.53 L378.87,109.62 L379.93,109.59 L380.99,109.65 L382.05,109.60 L383.11,109.68 L384.17,109.66 L385.23,109.70 L386.30,109.69 L387.36,109.75 L388.42,109.71 L389.48,109.71 L390.54,109.73 L391.60,109.70 L392.66,109.74 L393.73,109.73 L394.79,109.74 L395.85,109.71 L396.91,109.78 L397.97,109.77 L399.03,109.77 L400.10,109.75 L401.16,109.77 L402.22,109.76 L403.28,109.77 L404.34,109.80 L405.40,109.79 L406.46,109.78 L407.53,109.84 L408.59,109.76 L409.65,109.81 L410.71,109.81 L411.77,109.80 L412.83,109.81 L413.89,109.84 L414.96,109.82 L416.02,109.78 L417.08,109.79 L418.14,109.79 L419.20,109.83 L420.26,109.83 L421.33,109.80 L422.39,109.80 L423.45,109.83 L424.51,109.86 L425.57,109.88 L426.63,109.81 L427.69,109.87 L428.76,109.83 L429.82,109.82 L430.88,109.77 L431.94,109.84 L433.00,109.85 L434.06,109.84 L435.12,109.84 L436.19,109.83 L437.25,109.84 L438.31,109.88 L439.37,109.91 L440.43,109.86 L441.49,109.88 L442.56,109.83 L443.62,109.90 L444.68,109.86 L445.74,109.89 L446.80,109.89 L447.86,109.84 L448.92,109.87 L449.99,109.88 L451.05,109.86 L452.11,109.89 L453.17,109.89 L454.23,109.89 L455.29,109.84 L456.36,109.87 L457.42,109.87 L458.48,109.86 L459.54,109.89 L460.60,109.89 L461.66,109.92 L462.72,109.88 L463.79,109.88 L464.85,109.90 L465.91,109.86 L466.97,109.93 L468.03,109.88 L469.09,109.92 L470.15,109.92 L471.22,109.90 L472.28,109.86 L473.34,109.92 L474.40,109.92 L475.46,109.92 L476.52,109.85 L477.58,109.88 L478.65,109.89 L479.71,109.85 L480.77,109.89 L481.83,109.94 L482.89,109.91 L483.95,109.92 L485.02,109.85 L486.08,109.93 L487.14,109.89 L488.20,109.91" stroke="#1f78b4" stroke-width="1.01"/>
<path d="M275.90,17.44 L276.96,18.49 L278.02,21.07 L279.08,24.39 L280.15,30.22 L281.21,47.18 L282.27,63.60 L283.33,75.68 L284.39,83.57 L285.45,88.53 L286.51,92.17 L287.58,94.84 L288.64,96.80 L289.70,98.34 L290.76,99.67 L291.82,100.79 L292.88,101.72 L293.95,102.48 L295.01,103.07 L296.07,103.51 L297.13,103.80 L298.19,104.00 L299.25,104.16 L300.31,104.30 L301.38,104.43 L302.44,104.53 L303.50,104.62 L304.56,104.71 L305.62,104.79 L306.68,104.88 L307.75,104.97 L308.81,105.05 L309.87,105.13 L310.93,105.21 L311.99,105.28 L313.05,105.34 L314.11,105.41 L315.18,105.47 L316.24,105.53 L317.30,105.58 L318.36,105.64 L319.42,105.70 L320.48,105.75 L321.54,105.81 L322.61,105.87 L323.67,105.94 L324.73,106.00 L325.79,106.07 L326.85,106.14 L327.91,106.21 L328.97,106.29 L330.04,106.37 L331.10,106.46 L332.16,106.58 L333.22,106.62 L334.28,106.76 L335.34,106.90 L336.41,106.99 L337.47,107.13 L338.53,107.05 L339.59,107.28 L340.65,107.36 L341.71,107.57 L342.77,107.66 L343.84,107.58 L344.90,107.80 L345.96,107.85 L347.02,107.77 L348.08,107.83 L349.14,108.07 L350.20,108.18 L351.27,108.29 L352.33,108.43 L353.39,108.23 L354.45,108.68 L355.51,108.63 L356.57,108.90 L357.64,108.91 L358.70,108.79 L359.76,108.86 L360.82,108.95 L361.88,109.09 L362.94,109.20 L364.00,109.24 L365.07,109.29 L366.13,109.18 L367.19,109.19 L368.25,109.35 L369.31,109.50 L370.37,109.58 L371.43,109.49 L372.50,109.58 L373.56,109.76 L374.62,109.47 L375.68,109.64 L376.74,109.69 L377.80,109.76 L378.87,109.79 L379.93,109.65 L380.99,109.83 L382.05,109.76 L383.11,109.74 L384.17,109.65 L385.23,109.78 L386.30,109.85 L387.36,109.90 L388.42,109.81 L389.48,109.81 L390.54,109.94 L391.60,109.88 L392.66,109.95 L393.73,110.06 L394.79,110.03 L395.85,109.92 L396.91,109.88 L397.97,109.95 L399.03,110.02 L400.10,110.07 L401.16,110.00 L402.22,110.02 L403.28,110.15 L404.34,110.02 L405.40,110.12 L406.46,110.04 L407.53,110.06 L408.59,110.06 L409.65,110.05 L410.71,110.08 L411.77,110.19 L412.83,110.20 L413.89,110.09 L414.96,110.13 L416.02,110.25 L417.08,110.27 L418.14,110.14 L419.20,110.07 L420.26,110.16 L421.33,110.22 L422.39,110.21 L423.45,110.35 L424.51,110.28 L425.57,110.20 L426.63,110.21 L427.69,110.35 L428.76,110.22 L429.82,110.26 L430.88,110.25 L431.94,110.30 L433.00,110.30 L434.06,110.35 L435.12,110.31 L436.19,110.29 L437.25,110.37 L438.31,110.33 L439.37,110.37 L440.43,110.31 L441.49,110.32 L442.56,110.45 L443.62,110.36 L444.68,110.34 L445.74,110.41 L446.80,110.40 L447.86,110.41 L448.92,110.44 L449.99,110.42 L451.05,110.37 L452.11,110.41 L453.17,110.38 L454.23,110.40 L455.29,110.40 L456.36,110.44 L457.42,110.43 L458.48,110.39 L459.54,110.42 L460.60,110.46 L461.66,110.49 L462.72,110.50 L463.79,110.48 L464.85,110.48 L465.91,110.54 L466.97,110.49 L468.03,110.49 L469.09,110.50 L470.15,110.52 L471.22,110.45 L472.28,110.50 L473.34,110.55 L474.40,110.54 L475.46,110.51 L476.52,110.52 L477.58,110.54 L478.65,110.54 L479.71,110.55 L480.77,110.56 L481.83,110.57 L482.89,110.55 L483.95,110.61 L485.02,110.58 L486.08,110.54 L487.14,110.59 L488.20,110.60" stroke="#b2df8a" stroke-width="1.01"/>
<path d="M275.90,96.95 L276.96,98.55 L278.02,99.73 L279.08,100.28 L280.15,100.29 L281.21,100.27 L282.27,100.23 L283.33,100.18 L284.39,100.13 L285.45,100.02 L286.51,99.85 L287.58,99.65 L288.64,99.45 L289.70,99.27 L290.76,99.16 L291.82,99.13 L292.88,99.16 L293.95,99.22 L295.01,99.31 L296.07,99.42 L297.13,99.54 L298.19,99.66 L299.25,99.79 L300.31,99.95 L301.38,100.14 L302.44,100.36 L303.50,100.60 L304.56,100.85 L305.62,101.12 L306.68,101.39 L307.75,101.66 L308.81,101.93 L309.87,102.22 L310.93,102.55 L311.99,102.88 L313.05,103.22 L314.11,103.54 L315.18,103.82 L316.24,104.08 L317.30,104.32 L318.36,104.54 L319.42,104.75 L320.48,104.95 L321.54,105.13 L322.61,105.31 L323.67,105.48 L324.73,105.64 L325.79,105.80 L326.85,105.95 L327.91,106.10 L328.97,106.25 L330.04,106.38 L331.10,106.52 L332.16,106.63 L333.22,106.76 L334.28,106.88 L335.34,107.02 L336.41,107.16 L337.47,107.19 L338.53,107.40 L339.59,107.38 L340.65,107.40 L341.71,107.54 L342.77,107.57 L343.84,107.91 L344.90,107.91 L345.96,108.08 L347.02,108.16 L348.08,108.33 L349.14,108.37 L350.20,108.27 L351.27,108.36 L352.33,108.39 L353.39,108.47 L354.45,108.57 L355.51,108.78 L356.57,108.78 L357.64,108.77 L358.70,108.77 L359.76,108.99 L360.82,109.06 L361.88,109.11 L362.94,108.96 L364.00,109.12 L365.07,109.25 L366.13,109.35 L367.19,109.28 L368.25,109.52 L369.31,109.44 L370.37,109.51 L371.43,109.56 L372.50,109.53 L373.56,109.55 L374.62,109.35 L375.68,109.67 L376.74,109.66 L377.80,109.81 L378.87,109.90 L379.93,109.74 L380.99,109.72 L382.05,109.96 L383.11,109.93 L384.17,109.89 L385.23,109.98 L386.30,110.14 L387.36,109.98 L388.42,110.07 L389.48,110.05 L390.54,110.15 L391.60,110.08 L392.66,110.10 L393.73,110.20 L394.79,110.16 L395.85,110.22 L396.91,110.23 L397.97,110.26 L399.03,110.26 L400.10,110.28 L401.16,110.22 L402.22,110.28 L403.28,110.32 L404.34,110.24 L405.40,110.29 L406.46,110.28 L407.53,110.33 L408.59,110.31 L409.65,110.34 L410.71,110.38 L411.77,110.35 L412.83,110.36 L413.89,110.37 L414.96,110.35 L416.02,110.43 L417.08,110.39 L418.14,110.42 L419.20,110.41 L420.26,110.40 L421.33,110.42 L422.39,110.44 L423.45,110.41 L424.51,110.44 L425.57,110.42 L426.63,110.42 L427.69,110.46 L428.76,110.49 L429.82,110.46 L430.88,110.45 L431.94,110.47 L433.00,110.51 L434.06,110.52 L435.12,110.51 L436.19,110.51 L437.25,110.48 L438.31,110.50 L439.37,110.49 L440.43,110.51 L441.49,110.48 L442.56,110.52 L443.62,110.51 L444.68,110.53 L445.74,110.52 L446.80,110.51 L447.86,110.52 L448.92,110.52 L449.99,110.56 L451.05,110.54 L452.11,110.52 L453.17,110.55 L454.23,110.56 L455.29,110.56 L456.36,110.57 L457.42,110.56 L458.48,110.55 L459.54,110.57 L460.60,110.58 L461.66,110.59 L462.72,110.60 L463.79,110.55 L464.85,110.59 L465.91,110.59 L466.97,110.60 L468.03,110.59 L469.09,110.61 L470.15,110.60 L471.22,110.58 L472.28,110.62 L473.34,110.60 L474.40,110.61 L475.46,110.61 L476.52,110.63 L477.58,110.62 L478.65,110.63 L479.71,110.65 L480.77,110.64 L481.83,110.64 L482.89,110.65 L483.95,110.64 L485.02,110.62 L486.08,110.65 L487.14,110.64 L488.20,110.64" stroke="#33a02c" stroke-width="1.01" stroke-dasharray="3.33 1.44"/>
<path d="M275.90,93.68 L276.96,95.56 L278.02,96.80 L279.08,97.33 L280.15,97.62 L281.21,97.73 L282.27,97.55 L283.33,97.26 L284.39,97.19 L285.45,97.25 L286.51,97.38 L287.58,97.54 L288.64,97.73 L289.70,97.94 L290.76,98.15 L291.82,98.35 L292.88,98.55 L293.95,98.76 L295.01,98.99 L296.07,99.23 L297.13,99.48 L298.19,99.74 L299.25,100.01 L300.31,100.30 L301.38,100.60 L302.44,100.94 L303.50,101.29 L304.56,101.66 L305.62,102.02 L306.68,102.39 L307.75,102.78 L308.81,103.19 L309.87,103.59 L310.93,103.97 L311.99,104.30 L313.05,104.58 L314.11,104.81 L315.18,105.03 L316.24,105.24 L317.30,105.42 L318.36,105.60 L319.42,105.77 L320.48,105.92 L321.54,106.07 L322.61,106.20 L323.67,106.33 L324.73,106.46 L325.79,106.58 L326.85,106.69 L327.91,106.80 L328.97,106.91 L330.04,107.01 L331.10,107.11 L332.16,107.23 L333.22,107.31 L334.28,107.38 L335.34,107.46 L336.41,107.56 L337.47,107.68 L338.53,107.75 L339.59,107.85 L340.65,107.88 L341.71,108.01 L342.77,108.09 L343.84,108.18 L344.90,108.19 L345.96,108.25 L347.02,108.35 L348.08,108.42 L349.14,108.45 L350.20,108.45 L351.27,108.61 L352.33,108.61 L353.39,108.65 L354.45,108.69 L355.51,108.70 L356.57,108.76 L357.64,108.83 L358.70,108.81 L359.76,108.87 L360.82,108.95 L361.88,108.98 L362.94,109.09 L364.00,109.05 L365.07,109.13 L366.13,109.18 L367.19,109.16 L368.25,109.26 L369.31,109.24 L370.37,109.25 L371.43,109.22 L372.50,109.28 L373.56,109.26 L374.62,109.22 L375.68,109.28 L376.74,109.40 L377.80,109.45 L378.87,109.42 L379.93,109.44 L380.99,109.51 L382.05,109.51 L383.11,109.53 L384.17,109.50 L385.23,109.42 L386.30,109.42 L387.36,109.56 L388.42,109.56 L389.48,109.61 L390.54,109.63 L391.60,109.59 L392.66,109.60 L393.73,109.64 L394.79,109.60 L395.85,109.66 L396.91,109.61 L397.97,109.69 L399.03,109.65 L400.10,109.70 L401.16,109.71 L402.22,109.70 L403.28,109.78 L404.34,109.77 L405.40,109.76 L406.46,109.78 L407.53,109.77 L408.59,109.82 L409.65,109.85 L410.71,109.82 L411.77,109.82 L412.83,109.86 L413.89,109.81 L414.96,109.84 L416.02,109.84 L417.08,109.85 L418.14,109.91 L419.20,109.83 L420.26,109.93 L421.33,109.90 L422.39,109.90 L423.45,109.92 L424.51,109.93 L425.57,109.97 L426.63,109.97 L427.69,109.96 L428.76,109.93 L429.82,110.00 L430.88,109.97 L431.94,109.98 L433.00,110.00 L434.06,110.02 L435.12,110.02 L436.19,110.07 L437.25,110.02 L438.31,110.02 L439.37,110.05 L440.43,110.03 L441.49,110.04 L442.56,110.07 L443.62,110.04 L444.68,110.08 L445.74,110.01 L446.80,110.10 L447.86,110.10 L448.92,110.10 L449.99,110.09 L451.05,110.07 L452.11,110.10 L453.17,110.11 L454.23,110.06 L455.29,110.09 L456.36,110.12 L457.42,110.12 L458.48,110.16 L459.54,110.13 L460.60,110.09 L461.66,110.16 L462.72,110.17 L463.79,110.14 L464.85,110.20 L465.91,110.12 L466.97,110.18 L468.03,110.17 L469.09,110.16 L470.15,110.13 L471.22,110.15 L472.28,110.20 L473.34,110.20 L474.40,110.16 L475.46,110.21 L476.52,110.18 L477.58,110.19 L478.65,110.15 L479.71,110.15 L480.77,110.23 L481.83,110.17 L482.89,110.16 L483.95,110.19 L485.02,110.19 L486.08,110.20 L487.14,110.19 L488.20,110.17" stroke="#fb9a99" stroke-width="1.01" stroke-dasharray="0.90 1.48"/>
<path d="M275.90,68.55 L276.96,68.55 L278.02,68.55 L279.08,68.55 L280.15,68.55 L281.21,69.86 L282.27,72.75 L283.33,75.79 L284.39,78.76 L285.45,81.98 L286.51,85.13 L287.58,88.04 L288.64,92.07 L289.70,97.57 L290.76,103.64 L291.82,103.97 L292.88,104.14 L293.95,104.19 L295.01,104.04 L296.07,103.70 L297.13,103.34 L298.19,103.18 L299.25,103.78 L300.31,104.74 L301.38,105.14 L302.44,105.20 L303.50,105.24 L304.56,105.26 L305.62,105.29 L306.68,105.31 L307.75,105.35 L308.81,105.41 L309.87,105.46 L310.93,105.53 L311.99,105.60 L313.05,105.67 L314.11,105.75 L315.18,105.83 L316.24,105.91 L317.30,105.99 L318.36,106.08 L319.42,106.17 L320.48,106.25 L321.54,106.34 L322.61,106.43 L323.67,106.51 L324.73,106.59 L325.79,106.68 L326.85,106.76 L327.91,106.83 L328.97,106.91 L330.04,106.99 L331.10,107.06 L332.16,107.14 L333.22,107.20 L334.28,107.30 L335.34,107.42 L336.41,107.44 L337.47,107.58 L338.53,107.61 L339.59,107.64 L340.65,107.75 L341.71,107.89 L342.77,107.96 L343.84,108.01 L344.90,108.03 L345.96,108.18 L347.02,108.18 L348.08,108.28 L349.14,108.36 L350.20,108.43 L351.27,108.41 L352.33,108.61 L353.39,108.65 L354.45,108.62 L355.51,108.67 L356.57,108.82 L357.64,108.85 L358.70,108.91 L359.76,108.88 L360.82,108.98 L361.88,108.91 L362.94,108.98 L364.00,109.04 L365.07,109.08 L366.13,109.09 L367.19,109.11 L368.25,109.18 L369.31,109.19 L370.37,109.18 L371.43,109.25 L372.50,109.21 L373.56,109.29 L374.62,109.34 L375.68,109.31 L376.74,109.25 L377.80,109.27 L378.87,109.44 L379.93,109.37 L380.99,109.42 L382.05,109.43 L383.11,109.45 L384.17,109.46 L385.23,109.49 L386.30,109.49 L387.36,109.48 L388.42,109.56 L389.48,109.58 L390.54,109.58 L391.60,109.60 L392.66,109.54 L393.73,109.62 L394.79,109.59 L395.85,109.60 L396.91,109.59 L397.97,109.63 L399.03,109.60 L400.10,109.66 L401.16,109.66 L402.22,109.65 L403.28,109.74 L404.34,109.68 L405.40,109.65 L406.46,109.72 L407.53,109.74 L408.59,109.67 L409.65,109.75 L410.71,109.72 L411.77,109.85 L412.83,109.78 L413.89,109.81 L414.96,109.79 L416.02,109.77 L417.08,109.82 L418.14,109.84 L419.20,109.93 L420.26,109.82 L421.33,109.81 L422.39,109.86 L423.45,109.89 L424.51,109.87 L425.57,109.85 L426.63,109.87 L427.69,109.83 L428.76,109.92 L429.82,109.96 L430.88,109.91 L431.94,109.89 L433.00,109.95 L434.06,109.94 L435.12,109.97 L436.19,109.99 L437.25,109.98 L438.31,110.02 L439.37,109.96 L440.43,109.96 L441.49,109.96 L442.56,110.01 L443.62,110.01 L444.68,110.04 L445.74,110.04 L446.80,109.98 L447.86,109.93 L448.92,110.05 L449.99,110.03 L451.05,110.00 L452.11,110.05 L453.17,110.02 L454.23,110.05 L455.29,110.05 L456.36,110.02 L457.42,110.06 L458.48,110.08 L459.54,110.03 L460.60,110.06 L461.66,110.08 L462.72,110.09 L463.79,110.05 L464.85,110.09 L465.91,110.07 L466.97,110.05 L468.03,110.08 L469.09,110.05 L470.15,110.12 L471.22,110.07 L472.28,110.07 L473.34,110.04 L474.40,110.09 L475.46,110.07 L476.52,110.10 L477.58,110.12 L478.65,110.12 L479.71,110.11 L480.77,110.08 L481.83,110.12 L482.89,110.10 L483.95,110.08 L485.02,110.07 L486.08,110.08 L487.14,110.06 L488.20,110.13" stroke="#e31a1c" stroke-width="1.01" stroke-dasharray="5.76 1.44 0.90 1.44"/>
<path d="M275.90,34.56 L276.96,38.12 L278.02,47.00 L279.08,72.68 L280.15,84.56 L281.21,91.35 L282.27,95.80 L283.33,98.83 L284.39,100.69 L285.45,101.80 L286.51,102.59 L287.58,103.22 L288.64,103.80 L289.70,104.34 L290.76,104.82 L291.82,105.25 L292.88,105.63 L293.95,105.97 L295.01,106.29 L296.07,106.58 L297.13,106.86 L298.19,107.12 L299.25,107.36 L300.31,107.57 L301.38,107.74 L302.44,107.89 L303.50,108.00 L304.56,108.09 L305.62,108.17 L306.68,108.25 L307.75,108.31 L308.81,108.38 L309.87,108.44 L310.93,108.49 L311.99,108.54 L313.05,108.58 L314.11,108.63 L315.18,108.67 L316.24,108.71 L317.30,108.74 L318.36,108.78 L319.42,108.81 L320.48,108.84 L321.54,108.88 L322.61,108.91 L323.67,108.94 L324.73,108.97 L325.79,109.01 L326.85,109.04 L327.91,109.07 L328.97,109.11 L330.04,109.14 L331.10,109.17 L332.16,109.21 L333.22,109.23 L334.28,109.26 L335.34,109.30 L336.41,109.33 L337.47,109.34 L338.53,109.39 L339.59,109.41 L340.65,109.43 L341.71,109.48 L342.77,109.50 L343.84,109.51 L344.90,109.54 L345.96,109.58 L347.02,109.59 L348.08,109.59 L349.14,109.64 L350.20,109.64 L351.27,109.67 L352.33,109.70 L353.39,109.69 L354.45,109.71 L355.51,109.73 L356.57,109.76 L357.64,109.77 L358.70,109.79 L359.76,109.80 L360.82,109.83 L361.88,109.84 L362.94,109.83 L364.00,109.88 L365.07,109.88 L366.13,109.89 L367.19,109.91 L368.25,109.93 L369.31,109.94 L370.37,109.92 L371.43,109.95 L372.50,109.97 L373.56,109.93 L374.62,109.99 L375.68,109.96 L376.74,109.98 L377.80,110.02 L378.87,110.01 L379.93,110.02 L380.99,109.99 L382.05,110.01 L383.11,110.04 L384.17,110.06 L385.23,110.08 L386.30,110.06 L387.36,110.09 L388.42,110.07 L389.48,110.08 L390.54,110.08 L391.60,110.08 L392.66,110.10 L393.73,110.10 L394.79,110.12 L395.85,110.10 L396.91,110.11 L397.97,110.11 L399.03,110.12 L400.10,110.16 L401.16,110.17 L402.22,110.15 L403.28,110.15 L404.34,110.18 L405.40,110.15 L406.46,110.18 L407.53,110.19 L408.59,110.19 L409.65,110.22 L410.71,110.23 L411.77,110.21 L412.83,110.23 L413.89,110.22 L414.96,110.22 L416.02,110.26 L417.08,110.25 L418.14,110.23 L419.20,110.27 L420.26,110.25 L421.33,110.27 L422.39,110.28 L423.45,110.25 L424.51,110.25 L425.57,110.28 L426.63,110.28 L427.69,110.26 L428.76,110.27 L429.82,110.29 L430.88,110.28 L431.94,110.30 L433.00,110.30 L434.06,110.30 L435.12,110.31 L436.19,110.31 L437.25,110.32 L438.31,110.32 L439.37,110.33 L440.43,110.32 L441.49,110.32 L442.56,110.33 L443.62,110.35 L444.68,110.33 L445.74,110.35 L446.80,110.36 L447.86,110.35 L448.92,110.34 L449.99,110.35 L451.05,110.35 L452.11,110.35 L453.17,110.35 L454.23,110.37 L455.29,110.36 L456.36,110.37 L457.42,110.37 L458.48,110.37 L459.54,110.38 L460.60,110.39 L461.66,110.38 L462.72,110.39 L463.79,110.39 L464.85,110.39 L465.91,110.40 L466.97,110.41 L468.03,110.39 L469.09,110.39 L470.15,110.39 L471.22,110.40 L472.28,110.38 L473.34,110.40 L474.40,110.40 L475.46,110.40 L476.52,110.41 L477.58,110.40 L478.65,110.41 L479.71,110.41 L480.77,110.41 L481.83,110.42 L482.89,110.41 L483.95,110.41 L485.02,110.42 L486.08,110.42 L487.14,110.43 L488.20,110.41" stroke="#fdbf6f" stroke-width="1.01"/>
<path d="M275.90,80.46 L276.96,80.63 L278.02,80.85 L279.08,81.09 L280.15,81.37 L281.21,81.76 L282.27,82.45 L283.33,83.90 L284.39,85.40 L285.45,86.83 L286.51,88.24 L287.58,89.60 L288.64,90.90 L289.70,92.13 L290.76,93.29 L291.82,94.38 L292.88,95.36 L293.95,96.23 L295.01,97.03 L296.07,97.74 L297.13,98.35 L298.19,98.88 L299.25,99.36 L300.31,99.80 L301.38,100.19 L302.44,100.57 L303.50,100.92 L304.56,101.26 L305.62,101.59 L306.68,101.91 L307.75,102.24 L308.81,102.58 L309.87,102.91 L310.93,103.24 L311.99,103.56 L313.05,103.86 L314.11,104.14 L315.18,104.39 L316.24,104.62 L317.30,104.81 L318.36,104.97 L319.42,105.12 L320.48,105.26 L321.54,105.38 L322.61,105.50 L323.67,105.61 L324.73,105.71 L325.79,105.82 L326.85,105.92 L327.91,106.02 L328.97,106.13 L330.04,106.25 L331.10,106.36 L332.16,106.47 L333.22,106.57 L334.28,106.68 L335.34,106.78 L336.41,106.91 L337.47,106.99 L338.53,107.13 L339.59,107.22 L340.65,107.29 L341.71,107.39 L342.77,107.49 L343.84,107.55 L344.90,107.67 L345.96,107.79 L347.02,107.88 L348.08,107.98 L349.14,108.03 L350.20,108.14 L351.27,108.21 L352.33,108.29 L353.39,108.38 L354.45,108.31 L355.51,108.43 L356.57,108.59 L357.64,108.56 L358.70,108.65 L359.76,108.76 L360.82,108.74 L361.88,108.77 L362.94,108.81 L364.00,108.83 L365.07,108.94 L366.13,108.95 L367.19,108.95 L368.25,108.99 L369.31,109.02 L370.37,109.06 L371.43,109.04 L372.50,109.16 L373.56,109.19 L374.62,109.09 L375.68,109.16 L376.74,109.16 L377.80,109.21 L378.87,109.25 L379.93,109.27 L380.99,109.27 L382.05,109.31 L383.11,109.32 L384.17,109.34 L385.23,109.33 L386.30,109.35 L387.36,109.34 L388.42,109.43 L389.48,109.43 L390.54,109.41 L391.60,109.45 L392.66,109.55 L393.73,109.48 L394.79,109.51 L395.85,109.54 L396.91,109.55 L397.97,109.57 L399.03,109.53 L400.10,109.56 L401.16,109.59 L402.22,109.58 L403.28,109.60 L404.34,109.66 L405.40,109.68 L406.46,109.69 L407.53,109.65 L408.59,109.69 L409.65,109.67 L410.71,109.70 L411.77,109.73 L412.83,109.76 L413.89,109.75 L414.96,109.70 L416.02,109.78 L417.08,109.79 L418.14,109.79 L419.20,109.76 L420.26,109.81 L421.33,109.84 L422.39,109.84 L423.45,109.84 L424.51,109.84 L425.57,109.83 L426.63,109.81 L427.69,109.84 L428.76,109.86 L429.82,109.89 L430.88,109.91 L431.94,109.89 L433.00,109.88 L434.06,109.90 L435.12,109.93 L436.19,109.92 L437.25,109.94 L438.31,109.95 L439.37,109.96 L440.43,109.96 L441.49,109.97 L442.56,109.95 L443.62,109.98 L444.68,109.98 L445.74,109.97 L446.80,109.98 L447.86,109.98 L448.92,110.02 L449.99,109.99 L451.05,110.01 L452.11,110.04 L453.17,110.03 L454.23,110.05 L455.29,110.05 L456.36,110.04 L457.42,110.02 L458.48,110.07 L459.54,110.04 L460.60,110.06 L461.66,110.03 L462.72,110.06 L463.79,110.05 L464.85,110.04 L465.91,110.09 L466.97,110.08 L468.03,110.10 L469.09,110.09 L470.15,110.07 L471.22,110.08 L472.28,110.08 L473.34,110.09 L474.40,110.10 L475.46,110.09 L476.52,110.10 L477.58,110.11 L478.65,110.12 L479.71,110.10 L480.77,110.09 L481.83,110.12 L482.89,110.11 L483.95,110.13 L485.02,110.12 L486.08,110.10 L487.14,110.12 L488.20,110.09" stroke="#ff7f00" stroke-width="1.01"/>
<path d="M275.90,91.74 L276.96,93.48 L278.02,94.61 L279.08,94.77 L280.15,94.77 L281.21,94.77 L282.27,94.77 L283.33,94.79 L284.39,94.85 L285.45,94.95 L286.51,95.08 L287.58,95.24 L288.64,95.41 L289.70,95.58 L290.76,95.76 L291.82,95.98 L292.88,96.24 L293.95,96.54 L295.01,96.86 L296.07,97.21 L297.13,97.57 L298.19,97.99 L299.25,98.48 L300.31,99.01 L301.38,99.56 L302.44,100.09 L303.50,100.60 L304.56,101.06 L305.62,101.47 L306.68,101.85 L307.75,102.22 L308.81,102.56 L309.87,102.89 L310.93,103.21 L311.99,103.51 L313.05,103.80 L314.11,104.08 L315.18,104.35 L316.24,104.61 L317.30,104.86 L318.36,105.10 L319.42,105.33 L320.48,105.56 L321.54,105.76 L322.61,105.96 L323.67,106.15 L324.73,106.32 L325.79,106.49 L326.85,106.64 L327.91,106.78 L328.97,106.91 L330.04,107.03 L331.10,107.15 L332.16,107.27 L333.22,107.38 L334.28,107.51 L335.34,107.58 L336.41,107.66 L337.47,107.76 L338.53,107.86 L339.59,107.95 L340.65,108.05 L341.71,108.11 L342.77,108.20 L343.84,108.27 L344.90,108.34 L345.96,108.42 L347.02,108.48 L348.08,108.53 L349.14,108.58 L350.20,108.66 L351.27,108.70 L352.33,108.77 L353.39,108.88 L354.45,108.92 L355.51,108.92 L356.57,108.99 L357.64,108.99 L358.70,109.08 L359.76,109.10 L360.82,109.14 L361.88,109.18 L362.94,109.21 L364.00,109.22 L365.07,109.25 L366.13,109.30 L367.19,109.30 L368.25,109.32 L369.31,109.36 L370.37,109.40 L371.43,109.42 L372.50,109.43 L373.56,109.46 L374.62,109.46 L375.68,109.40 L376.74,109.46 L377.80,109.51 L378.87,109.52 L379.93,109.53 L380.99,109.53 L382.05,109.55 L383.11,109.63 L384.17,109.56 L385.23,109.66 L386.30,109.65 L387.36,109.69 L388.42,109.73 L389.48,109.74 L390.54,109.66 L391.60,109.69 L392.66,109.77 L393.73,109.78 L394.79,109.74 L395.85,109.81 L396.91,109.79 L397.97,109.76 L399.03,109.81 L400.10,109.80 L401.16,109.84 L402.22,109.90 L403.28,109.89 L404.34,109.92 L405.40,109.89 L406.46,109.93 L407.53,109.92 L408.59,109.94 L409.65,109.95 L410.71,109.94 L411.77,109.97 L412.83,109.99 L413.89,109.96 L414.96,109.99 L416.02,110.03 L417.08,109.99 L418.14,110.04 L419.20,110.02 L420.26,110.03 L421.33,110.05 L422.39,110.07 L423.45,110.07 L424.51,110.07 L425.57,110.09 L426.63,110.07 L427.69,110.10 L428.76,110.11 L429.82,110.08 L430.88,110.12 L431.94,110.14 L433.00,110.13 L434.06,110.13 L435.12,110.14 L436.19,110.11 L437.25,110.16 L438.31,110.14 L439.37,110.15 L440.43,110.15 L441.49,110.17 L442.56,110.18 L443.62,110.19 L444.68,110.18 L445.74,110.18 L446.80,110.17 L447.86,110.23 L448.92,110.19 L449.99,110.21 L451.05,110.21 L452.11,110.23 L453.17,110.22 L454.23,110.25 L455.29,110.21 L456.36,110.25 L457.42,110.24 L458.48,110.24 L459.54,110.24 L460.60,110.26 L461.66,110.24 L462.72,110.25 L463.79,110.24 L464.85,110.25 L465.91,110.26 L466.97,110.29 L468.03,110.27 L469.09,110.25 L470.15,110.27 L471.22,110.28 L472.28,110.27 L473.34,110.26 L474.40,110.30 L475.46,110.26 L476.52,110.27 L477.58,110.27 L478.65,110.28 L479.71,110.26 L480.77,110.29 L481.83,110.27 L482.89,110.28 L483.95,110.30 L485.02,110.29 L486.08,110.28 L487.14,110.29 L488.20,110.29" stroke="#cab2d6" stroke-width="1.01"/>
<path d="M275.90,72.29 L276.96,78.12 L278.02,78.12 L279.08,78.12 L280.15,78.12 L281.21,78.12 L282.27,78.62 L283.33,80.85 L284.39,82.94 L285.45,85.14 L286.51,87.14 L287.58,88.75 L288.64,89.88 L289.70,90.76 L290.76,91.77 L291.82,92.95 L292.88,94.21 L293.95,95.48 L295.01,96.71 L296.07,97.85 L297.13,98.87 L298.19,99.76 L299.25,100.51 L300.31,101.18 L301.38,101.79 L302.44,102.35 L303.50,102.87 L304.56,103.34 L305.62,103.78 L306.68,104.19 L307.75,104.57 L308.81,104.92 L309.87,105.24 L310.93,105.54 L311.99,105.82 L313.05,106.08 L314.11,106.33 L315.18,106.55 L316.24,106.76 L317.30,106.95 L318.36,107.12 L319.42,107.29 L320.48,107.44 L321.54,107.58 L322.61,107.72 L323.67,107.86 L324.73,107.99 L325.79,108.11 L326.85,108.24 L327.91,108.37 L328.97,108.49 L330.04,108.63 L331.10,108.75 L332.16,108.86 L333.22,108.98 L334.28,109.13 L335.34,109.20 L336.41,109.34 L337.47,109.39 L338.53,109.50 L339.59,109.55 L340.65,109.62 L341.71,109.70 L342.77,109.73 L343.84,109.81 L344.90,109.85 L345.96,109.89 L347.02,109.95 L348.08,109.94 L349.14,109.97 L350.20,110.03 L351.27,110.08 L352.33,110.07 L353.39,110.11 L354.45,110.12 L355.51,110.16 L356.57,110.19 L357.64,110.17 L358.70,110.25 L359.76,110.26 L360.82,110.32 L361.88,110.30 L362.94,110.32 L364.00,110.33 L365.07,110.32 L366.13,110.37 L367.19,110.36 L368.25,110.39 L369.31,110.40 L370.37,110.45 L371.43,110.40 L372.50,110.41 L373.56,110.45 L374.62,110.45 L375.68,110.48 L376.74,110.46 L377.80,110.48 L378.87,110.45 L379.93,110.47 L380.99,110.45 L382.05,110.49 L383.11,110.51 L384.17,110.48 L385.23,110.50 L386.30,110.45 L387.36,110.49 L388.42,110.46 L389.48,110.49 L390.54,110.51 L391.60,110.53 L392.66,110.51 L393.73,110.49 L394.79,110.51 L395.85,110.51 L396.91,110.51 L397.97,110.54 L399.03,110.51 L400.10,110.54 L401.16,110.52 L402.22,110.50 L403.28,110.56 L404.34,110.53 L405.40,110.53 L406.46,110.51 L407.53,110.54 L408.59,110.55 L409.65,110.53 L410.71,110.53 L411.77,110.57 L412.83,110.55 L413.89,110.58 L414.96,110.59 L416.02,110.57 L417.08,110.57 L418.14,110.59 L419.20,110.53 L420.26,110.58 L421.33,110.56 L422.39,110.55 L423.45,110.53 L424.51,110.58 L425.57,110.55 L426.63,110.59 L427.69,110.58 L428.76,110.59 L429.82,110.60 L430.88,110.58 L431.94,110.56 L433.00,110.56 L434.06,110.58 L435.12,110.61 L436.19,110.61 L437.25,110.59 L438.31,110.59 L439.37,110.60 L440.43,110.61 L441.49,110.62 L442.56,110.61 L443.62,110.62 L444.68,110.60 L445.74,110.63 L446.80,110.61 L447.86,110.61 L448.92,110.60 L449.99,110.60 L451.05,110.64 L452.11,110.65 L453.17,110.63 L454.23,110.65 L455.29,110.66 L456.36,110.63 L457.42,110.64 L458.48,110.64 L459.54,110.65 L460.60,110.64 L461.66,110.65 L462.72,110.65 L463.79,110.64 L464.85,110.67 L465.91,110.66 L466.97,110.68 L468.03,110.65 L469.09,110.67 L470.15,110.68 L471.22,110.69 L472.28,110.68 L473.34,110.66 L474.40,110.67 L475.46,110.69 L476.52,110.70 L477.58,110.66 L478.65,110.69 L479.71,110.70 L480.77,110.69 L481.83,110.69 L482.89,110.68 L483.95,110.70 L485.02,110.70 L486.08,110.69 L487.14,110.70 L488.20,110.70" stroke="#6a3d9a" stroke-width="1.01" stroke-dasharray="3.33 1.44"/>
<path d="M275.90,34.56 L276.96,36.49 L278.02,41.58 L279.08,48.56 L280.15,63.80 L281.21,82.75 L282.27,92.98 L283.33,96.92 L284.39,99.13 L285.45,100.59 L286.51,101.65 L287.58,102.44 L288.64,103.02 L289.70,103.48 L290.76,103.88 L291.82,104.21 L292.88,104.50 L293.95,104.75 L295.01,104.98 L296.07,105.17 L297.13,105.35 L298.19,105.52 L299.25,105.66 L300.31,105.79 L301.38,105.91 L302.44,106.02 L303.50,106.13 L304.56,106.23 L305.62,106.32 L306.68,106.42 L307.75,106.52 L308.81,106.62 L309.87,106.72 L310.93,106.81 L311.99,106.90 L313.05,106.99 L314.11,107.07 L315.18,107.16 L316.24,107.24 L317.30,107.32 L318.36,107.39 L319.42,107.47 L320.48,107.54 L321.54,107.61 L322.61,107.68 L323.67,107.75 L324.73,107.82 L325.79,107.89 L326.85,107.95 L327.91,108.01 L328.97,108.08 L330.04,108.14 L331.10,108.20 L332.16,108.27 L333.22,108.31 L334.28,108.39 L335.34,108.44 L336.41,108.51 L337.47,108.57 L338.53,108.63 L339.59,108.67 L340.65,108.72 L341.71,108.76 L342.77,108.86 L343.84,108.88 L344.90,108.94 L345.96,108.99 L347.02,109.03 L348.08,109.07 L349.14,109.12 L350.20,109.16 L351.27,109.15 L352.33,109.24 L353.39,109.27 L354.45,109.34 L355.51,109.32 L356.57,109.39 L357.64,109.42 L358.70,109.46 L359.76,109.48 L360.82,109.52 L361.88,109.56 L362.94,109.59 L364.00,109.59 L365.07,109.60 L366.13,109.61 L367.19,109.60 L368.25,109.62 L369.31,109.69 L370.37,109.71 L371.43,109.69 L372.50,109.75 L373.56,109.71 L374.62,109.73 L375.68,109.79 L376.74,109.76 L377.80,109.76 L378.87,109.80 L379.93,109.83 L380.99,109.84 L382.05,109.83 L383.11,109.87 L384.17,109.86 L385.23,109.89 L386.30,109.91 L387.36,109.92 L388.42,109.90 L389.48,109.94 L390.54,109.93 L391.60,109.98 L392.66,109.96 L393.73,109.97 L394.79,109.97 L395.85,109.97 L396.91,109.99 L397.97,110.00 L399.03,110.02 L400.10,110.05 L401.16,110.06 L402.22,110.06 L403.28,110.05 L404.34,110.05 L405.40,110.07 L406.46,110.08 L407.53,110.08 L408.59,110.10 L409.65,110.10 L410.71,110.12 L411.77,110.12 L412.83,110.13 L413.89,110.16 L414.96,110.15 L416.02,110.16 L417.08,110.13 L418.14,110.14 L419.20,110.18 L420.26,110.19 L421.33,110.18 L422.39,110.21 L423.45,110.18 L424.51,110.20 L425.57,110.22 L426.63,110.20 L427.69,110.20 L428.76,110.22 L429.82,110.22 L430.88,110.26 L431.94,110.25 L433.00,110.26 L434.06,110.27 L435.12,110.25 L436.19,110.23 L437.25,110.28 L438.31,110.28 L439.37,110.26 L440.43,110.28 L441.49,110.28 L442.56,110.30 L443.62,110.29 L444.68,110.31 L445.74,110.29 L446.80,110.30 L447.86,110.30 L448.92,110.32 L449.99,110.32 L451.05,110.31 L452.11,110.33 L453.17,110.33 L454.23,110.35 L455.29,110.33 L456.36,110.33 L457.42,110.32 L458.48,110.35 L459.54,110.35 L460.60,110.33 L461.66,110.33 L462.72,110.36 L463.79,110.35 L464.85,110.37 L465.91,110.35 L466.97,110.34 L468.03,110.35 L469.09,110.37 L470.15,110.36 L471.22,110.37 L472.28,110.36 L473.34,110.37 L474.40,110.36 L475.46,110.35 L476.52,110.36 L477.58,110.36 L478.65,110.36 L479.71,110.36 L480.77,110.37 L481.83,110.37 L482.89,110.37 L483.95,110.36 L485.02,110.37 L486.08,110.37 L487.14,110.38 L488.20,110.39" stroke="#ffff99" stroke-width="1.01"/>
<path d="M275.90,56.34 L276.96,90.74 L278.02,91.06 L279.08,91.19 L280.15,91.34 L281.21,91.76 L282.27,92.65 L283.33,93.37 L284.39,93.72 L285.45,93.99 L286.51,94.20 L287.58,94.37 L288.64,94.53 L289.70,94.70 L290.76,94.90 L291.82,95.14 L292.88,95.46 L293.95,95.91 L295.01,96.46 L296.07,97.08 L297.13,97.72 L298.19,98.35 L299.25,98.95 L300.31,99.48 L301.38,99.94 L302.44,100.30 L303.50,100.58 L304.56,100.84 L305.62,101.06 L306.68,101.27 L307.75,101.46 L308.81,101.64 L309.87,101.82 L310.93,101.99 L311.99,102.18 L313.05,102.38 L314.11,102.59 L315.18,102.81 L316.24,103.06 L317.30,103.31 L318.36,103.57 L319.42,103.83 L320.48,104.09 L321.54,104.34 L322.61,104.59 L323.67,104.82 L324.73,105.05 L325.79,105.26 L326.85,105.45 L327.91,105.63 L328.97,105.79 L330.04,105.94 L331.10,106.08 L332.16,106.22 L333.22,106.32 L334.28,106.44 L335.34,106.55 L336.41,106.69 L337.47,106.80 L338.53,106.91 L339.59,106.96 L340.65,107.09 L341.71,107.16 L342.77,107.31 L343.84,107.31 L344.90,107.44 L345.96,107.58 L347.02,107.61 L348.08,107.62 L349.14,107.65 L350.20,107.86 L351.27,107.88 L352.33,107.88 L353.39,108.00 L354.45,108.02 L355.51,108.09 L356.57,108.10 L357.64,108.21 L358.70,108.21 L359.76,108.27 L360.82,108.27 L361.88,108.32 L362.94,108.31 L364.00,108.38 L365.07,108.35 L366.13,108.54 L367.19,108.51 L368.25,108.49 L369.31,108.56 L370.37,108.72 L371.43,108.61 L372.50,108.68 L373.56,108.56 L374.62,108.71 L375.68,108.70 L376.74,108.81 L377.80,108.76 L378.87,108.94 L379.93,108.89 L380.99,108.89 L382.05,108.96 L383.11,108.88 L384.17,108.94 L385.23,108.90 L386.30,109.05 L387.36,109.05 L388.42,109.01 L389.48,109.08 L390.54,109.05 L391.60,109.08 L392.66,109.16 L393.73,109.14 L394.79,109.15 L395.85,109.18 L396.91,109.22 L397.97,109.25 L399.03,109.26 L400.10,109.24 L401.16,109.22 L402.22,109.36 L403.28,109.36 L404.34,109.35 L405.40,109.31 L406.46,109.41 L407.53,109.32 L408.59,109.34 L409.65,109.51 L410.71,109.43 L411.77,109.45 L412.83,109.49 L413.89,109.55 L414.96,109.51 L416.02,109.54 L417.08,109.51 L418.14,109.54 L419.20,109.60 L420.26,109.53 L421.33,109.55 L422.39,109.57 L423.45,109.63 L424.51,109.62 L425.57,109.65 L426.63,109.68 L427.69,109.73 L428.76,109.69 L429.82,109.76 L430.88,109.70 L431.94,109.76 L433.00,109.74 L434.06,109.76 L435.12,109.79 L436.19,109.80 L437.25,109.80 L438.31,109.76 L439.37,109.80 L440.43,109.83 L441.49,109.81 L442.56,109.87 L443.62,109.88 L444.68,109.88 L445.74,109.85 L446.80,109.89 L447.86,109.89 L448.92,109.90 L449.99,109.92 L451.05,109.89 L452.11,109.91 L453.17,109.95 L454.23,109.96 L455.29,109.95 L456.36,109.98 L457.42,109.97 L458.48,109.96 L459.54,109.98 L460.60,109.98 L461.66,110.00 L462.72,110.02 L463.79,110.03 L464.85,109.99 L465.91,110.04 L466.97,110.03 L468.03,110.03 L469.09,110.04 L470.15,110.06 L471.22,110.08 L472.28,110.02 L473.34,110.09 L474.40,110.06 L475.46,110.10 L476.52,110.07 L477.58,110.11 L478.65,110.07 L479.71,110.09 L480.77,110.13 L481.83,110.08 L482.89,110.15 L483.95,110.13 L485.02,110.11 L486.08,110.14 L487.14,110.11 L488.20,110.14" stroke="#b15928" stroke-width="1.01"/>
</g>
<rect x="273.3" y="13.3" width="214.89999999999998" height="102.0" fill="none" stroke="#8a8a8a" stroke-width="0.9"/>
<line x1="275.90" y1="115.3" x2="275.90" y2="116.89999999999999" stroke="#555555" stroke-width="0.7"/>
<line x1="302.44" y1="115.3" x2="302.44" y2="116.89999999999999" stroke="#555555" stroke-width="0.7"/>
<line x1="328.97" y1="115.3" x2="328.97" y2="116.89999999999999" stroke="#555555" stroke-width="0.7"/>
<line x1="355.51" y1="115.3" x2="355.51" y2="116.89999999999999" stroke="#555555" stroke-width="0.7"/>
<line x1="382.05" y1="115.3" x2="382.05" y2="116.89999999999999" stroke="#555555" stroke-width="0.7"/>
<line x1="408.59" y1="115.3" x2="408.59" y2="116.89999999999999" stroke="#555555" stroke-width="0.7"/>
<line x1="435.12" y1="115.3" x2="435.12" y2="116.89999999999999" stroke="#555555" stroke-width="0.7"/>
<line x1="461.66" y1="115.3" x2="461.66" y2="116.89999999999999" stroke="#555555" stroke-width="0.7"/>
<line x1="488.20" y1="115.3" x2="488.20" y2="116.89999999999999" stroke="#555555" stroke-width="0.7"/>
<line x1="271.7" y1="110.80" x2="273.3" y2="110.80" stroke="#555555" stroke-width="0.7"/>
<line x1="271.7" y1="95.24" x2="273.3" y2="95.24" stroke="#555555" stroke-width="0.7"/>
<line x1="271.7" y1="79.68" x2="273.3" y2="79.68" stroke="#555555" stroke-width="0.7"/>
<line x1="271.7" y1="64.12" x2="273.3" y2="64.12" stroke="#555555" stroke-width="0.7"/>
<line x1="271.7" y1="48.56" x2="273.3" y2="48.56" stroke="#555555" stroke-width="0.7"/>
<line x1="271.7" y1="33.00" x2="273.3" y2="33.00" stroke="#555555" stroke-width="0.7"/>
<line x1="271.7" y1="17.44" x2="273.3" y2="17.44" stroke="#555555" stroke-width="0.7"/>
<text x="275.90" y="123.30" font-size="6.89" text-anchor="middle" fill="#262626" stroke="#262626" stroke-width="0.15" textLength="10.34" lengthAdjust="spacingAndGlyphs">0.0</text>
<text x="302.44" y="123.30" font-size="6.89" text-anchor="middle" fill="#262626" stroke="#262626" stroke-width="0.15" textLength="10.34" lengthAdjust="spacingAndGlyphs">2.5</text>
<text x="328.97" y="123.30" font-size="6.89" text-anchor="middle" fill="#262626" stroke="#262626" stroke-width="0.15" textLength="10.34" lengthAdjust="spacingAndGlyphs">5.0</text>
<text x="355.51" y="123.30" font-size="6.89" text-anchor="middle" fill="#262626" stroke="#262626" stroke-width="0.15" textLength="10.34" lengthAdjust="spacingAndGlyphs">7.5</text>
<text x="382.05" y="123.30" font-size="6.89" text-anchor="middle" fill="#262626" stroke="#262626" stroke-width="0.15" textLength="14.47" lengthAdjust="spacingAndGlyphs">10.0</text>
<text x="408.59" y="123.30" font-size="6.89" text-anchor="middle" fill="#262626" stroke="#262626" stroke-width="0.15" textLength="14.47" lengthAdjust="spacingAndGlyphs">12.5</text>
<text x="435.12" y="123.30" font-size="6.89" text-anchor="middle" fill="#262626" stroke="#262626" stroke-width="0.15" textLength="14.47" lengthAdjust="spacingAndGlyphs">15.0</text>
<text x="461.66" y="123.30" font-size="6.89" text-anchor="middle" fill="#262626" stroke="#262626" stroke-width="0.15" textLength="14.47" lengthAdjust="spacingAndGlyphs">17.5</text>
<text x="488.20" y="123.30" font-size="6.89" text-anchor="middle" fill="#262626" stroke="#262626" stroke-width="0.15" textLength="14.47" lengthAdjust="spacingAndGlyphs">20.0</text>
<text x="270.50" y="113.20" font-size="6.89" text-anchor="end" fill="#262626" stroke="#262626" stroke-width="0.15" textLength="4.14" lengthAdjust="spacingAndGlyphs">0</text>
<text x="270.50" y="97.64" font-size="6.89" text-anchor="end" fill="#262626" stroke="#262626" stroke-width="0.15" textLength="4.14" lengthAdjust="spacingAndGlyphs">2</text>
<text x="270.50" y="82.08" font-size="6.89" text-anchor="end" fill="#262626" stroke="#262626" stroke-width="0.15" textLength="4.14" lengthAdjust="spacingAndGlyphs">4</text>
<text x="270.50" y="66.52" font-size="6.89" text-anchor="end" fill="#262626" stroke="#262626" stroke-width="0.15" textLength="4.14" lengthAdjust="spacingAndGlyphs">6</text>
<text x="270.50" y="50.96" font-size="6.89" text-anchor="end" fill="#262626" stroke="#262626" stroke-width="0.15" textLength="4.14" lengthAdjust="spacingAndGlyphs">8</text>
<text x="270.50" y="35.40" font-size="6.89" text-anchor="end" fill="#262626" stroke="#262626" stroke-width="0.15" textLength="8.27" lengthAdjust="spacingAndGlyphs">10</text>
<text x="270.50" y="19.84" font-size="6.89" text-anchor="end" fill="#262626" stroke="#262626" stroke-width="0.15" textLength="8.27" lengthAdjust="spacingAndGlyphs">12</text>
<text x="380.80" y="130.60" font-size="6.90" text-anchor="middle" fill="#262626" stroke="#262626" stroke-width="0.05" textLength="25.51" lengthAdjust="spacingAndGlyphs">time (yr)</text>
<text x="259.90" y="63.80" font-size="6.90" text-anchor="middle" fill="#262626" stroke="#262626" stroke-width="0.05" textLength="65.37" lengthAdjust="spacingAndGlyphs" transform="rotate(-90 259.90 63.80)">mean melt rate (m/yr)</text>
<text x="276.40" y="10.60" font-size="8.65" text-anchor="start" font-weight="bold" fill="#262626" stroke="#262626" stroke-width="0.55" textLength="4.69" lengthAdjust="spacingAndGlyphs">b</text>
<text x="284.20" y="10.60" font-size="7.73" text-anchor="start" fill="#262626" stroke="#262626" stroke-width="0.14" textLength="79.74" lengthAdjust="spacingAndGlyphs">Ocean2 Mean Melt Rate</text>
<rect x="333.0" y="16.5" width="152.2" height="69.9" fill="#fff"/>
<line x1="334.80" y1="16.5" x2="334.80" y2="86.4" stroke="#d6d6d6" stroke-width="0.8"/>
<line x1="353.14" y1="16.5" x2="353.14" y2="86.4" stroke="#d6d6d6" stroke-width="0.8"/>
<line x1="371.48" y1="16.5" x2="371.48" y2="86.4" stroke="#d6d6d6" stroke-width="0.8"/>
<line x1="389.81" y1="16.5" x2="389.81" y2="86.4" stroke="#d6d6d6" stroke-width="0.8"/>
<line x1="408.15" y1="16.5" x2="408.15" y2="86.4" stroke="#d6d6d6" stroke-width="0.8"/>
<line x1="426.49" y1="16.5" x2="426.49" y2="86.4" stroke="#d6d6d6" stroke-width="0.8"/>
<line x1="444.83" y1="16.5" x2="444.83" y2="86.4" stroke="#d6d6d6" stroke-width="0.8"/>
<line x1="463.16" y1="16.5" x2="463.16" y2="86.4" stroke="#d6d6d6" stroke-width="0.8"/>
<line x1="481.50" y1="16.5" x2="481.50" y2="86.4" stroke="#d6d6d6" stroke-width="0.8"/>
<line x1="333.0" y1="20.83" x2="485.2" y2="20.83" stroke="#d6d6d6" stroke-width="0.8"/>
<line x1="333.0" y1="42.10" x2="485.2" y2="42.10" stroke="#d6d6d6" stroke-width="0.8"/>
<line x1="333.0" y1="63.37" x2="485.2" y2="63.37" stroke="#d6d6d6" stroke-width="0.8"/>
<line x1="333.0" y1="84.64" x2="485.2" y2="84.64" stroke="#d6d6d6" stroke-width="0.8"/>
<clipPath id="ci"><rect x="333.0" y="16.5" width="152.2" height="69.9"/></clipPath>
<g clip-path="url(#ci)" fill="none" stroke-linejoin="round">
<path d="M334.80,25.55 L335.53,25.66 L336.27,25.82 L337.00,26.02 L337.73,26.26 L338.47,26.54 L339.20,26.88 L339.93,27.28 L340.67,27.74 L341.40,28.33 L342.13,29.22 L342.87,30.32 L343.60,31.43 L344.34,32.45 L345.07,33.46 L345.80,34.41 L346.54,35.29 L347.27,36.14 L348.00,36.95 L348.74,37.70 L349.47,38.35 L350.20,38.95 L350.94,39.51 L351.67,40.04 L352.40,40.55 L353.14,41.03 L353.87,41.48 L354.60,41.91 L355.34,42.32 L356.07,42.71 L356.81,43.07 L357.54,43.42 L358.27,43.76 L359.01,44.10 L359.74,44.42 L360.47,44.73 L361.21,45.04 L361.94,45.33 L362.67,45.62 L363.41,45.90 L364.14,46.17 L364.87,46.43 L365.61,46.69 L366.34,46.94 L367.07,47.18 L367.81,47.42 L368.54,47.65 L369.27,47.87 L370.01,48.09 L370.74,48.30 L371.48,48.50 L372.21,48.70 L372.94,48.87 L373.68,49.05 L374.41,49.35 L375.14,49.44 L375.88,49.42 L376.61,49.91 L377.34,49.92 L378.08,50.23 L378.81,50.41 L379.54,50.39 L380.28,50.40 L381.01,50.57 L381.74,50.77 L382.48,50.80 L383.21,51.59 L383.94,51.10 L384.68,51.35 L385.41,51.68 L386.14,51.77 L386.88,52.21 L387.61,51.67 L388.35,52.51 L389.08,52.96 L389.81,52.56 L390.55,52.97 L391.28,52.93 L392.01,52.40 L392.75,53.32 L393.48,53.38 L394.21,52.49 L394.95,54.50 L395.68,53.77 L396.41,53.49 L397.15,53.44 L397.88,53.16 L398.61,54.99 L399.35,54.37 L400.08,54.93 L400.81,55.28 L401.55,55.57 L402.28,56.16 L403.02,55.13 L403.75,54.98 L404.48,56.25 L405.22,55.21 L405.95,56.16 L406.68,56.57 L407.42,57.72 L408.15,55.45 L408.88,55.81 L409.62,56.57 L410.35,56.73 L411.08,57.42 L411.82,56.35 L412.55,56.82 L413.28,56.52 L414.02,56.84 L414.75,57.94 L415.49,58.11 L416.22,56.92 L416.95,58.34 L417.69,57.13 L418.42,56.78 L419.15,58.23 L419.89,57.01 L420.62,57.44 L421.35,57.14 L422.09,57.90 L422.82,57.51 L423.55,57.22 L424.29,56.32 L425.02,57.02 L425.75,57.17 L426.49,58.32 L427.22,57.27 L427.95,57.92 L428.69,57.53 L429.42,57.31 L430.16,56.86 L430.89,57.10 L431.62,57.36 L432.36,57.51 L433.09,56.60 L433.82,58.04 L434.56,57.45 L435.29,56.59 L436.02,57.59 L436.76,56.94 L437.49,56.90 L438.22,56.20 L438.96,56.74 L439.69,58.53 L440.42,57.47 L441.16,57.28 L441.89,56.94 L442.62,57.22 L443.36,56.26 L444.09,56.77 L444.83,58.24 L445.56,57.89 L446.29,58.81 L447.03,56.37 L447.76,57.57 L448.49,57.59 L449.23,58.51 L449.96,57.79 L450.69,57.23 L451.43,57.77 L452.16,57.77 L452.89,57.92 L453.63,56.25 L454.36,57.88 L455.09,58.47 L455.83,57.87 L456.56,57.77 L457.29,57.61 L458.03,57.71 L458.76,58.27 L459.50,57.69 L460.23,57.31 L460.96,58.46 L461.70,56.28 L462.43,56.46 L463.16,58.74 L463.90,57.80 L464.63,56.91 L465.36,56.70 L466.10,56.41 L466.83,58.76 L467.56,58.28 L468.30,57.90 L469.03,57.21 L469.76,58.26 L470.50,57.28 L471.23,57.27 L471.96,57.09 L472.70,58.39 L473.43,57.43 L474.17,57.50 L474.90,57.82 L475.63,56.70 L476.37,57.73 L477.10,56.60 L477.83,57.92 L478.57,56.43 L479.30,56.46 L480.03,58.06 L480.77,57.31 L481.50,57.32" stroke="#a6cee3" stroke-width="1.01" stroke-dasharray="3.33 1.44"/>
<path d="M334.80,19.15 L335.53,19.91 L336.27,20.35 L337.00,20.59 L337.73,20.72 L338.47,21.77 L339.20,24.18 L339.93,27.17 L340.67,31.42 L341.40,35.89 L342.13,40.42 L342.87,44.63 L343.60,46.62 L344.34,47.73 L345.07,48.54 L345.80,49.11 L346.54,49.48 L347.27,49.75 L348.00,50.00 L348.74,50.21 L349.47,50.38 L350.20,50.49 L350.94,50.56 L351.67,50.45 L352.40,49.63 L353.14,48.31 L353.87,46.82 L354.60,44.38 L355.34,41.84 L356.07,41.55 L356.81,42.63 L357.54,44.17 L358.27,45.53 L359.01,46.21 L359.74,46.70 L360.47,47.13 L361.21,47.51 L361.94,47.83 L362.67,48.10 L363.41,48.33 L364.14,48.50 L364.87,48.64 L365.61,48.76 L366.34,48.86 L367.07,48.95 L367.81,49.02 L368.54,49.10 L369.27,49.18 L370.01,49.26 L370.74,49.36 L371.48,49.48 L372.21,49.61 L372.94,49.77 L373.68,49.94 L374.41,50.09 L375.14,50.31 L375.88,50.54 L376.61,50.73 L377.34,50.94 L378.08,51.15 L378.81,51.35 L379.54,51.54 L380.28,51.96 L381.01,52.15 L381.74,52.52 L382.48,52.61 L383.21,52.84 L383.94,53.19 L384.68,53.46 L385.41,53.72 L386.14,54.01 L386.88,54.01 L387.61,54.08 L388.35,54.66 L389.08,54.51 L389.81,54.93 L390.55,55.30 L391.28,55.21 L392.01,55.38 L392.75,55.63 L393.48,55.93 L394.21,55.82 L394.95,56.35 L395.68,56.39 L396.41,56.59 L397.15,57.08 L397.88,57.48 L398.61,57.67 L399.35,57.61 L400.08,57.65 L400.81,58.31 L401.55,58.27 L402.28,57.98 L403.02,58.88 L403.75,58.58 L404.48,58.78 L405.22,58.86 L405.95,59.51 L406.68,59.28 L407.42,59.80 L408.15,59.36 L408.88,59.96 L409.62,59.82 L410.35,60.20 L411.08,60.10 L411.82,60.56 L412.55,60.26 L413.28,60.26 L414.02,60.46 L414.75,60.16 L415.49,60.47 L416.22,60.41 L416.95,60.51 L417.69,60.25 L418.42,60.82 L419.15,60.77 L419.89,60.79 L420.62,60.64 L421.35,60.75 L422.09,60.66 L422.82,60.80 L423.55,61.01 L424.29,60.94 L425.02,60.86 L425.75,61.47 L426.49,60.71 L427.22,61.16 L427.95,61.14 L428.69,61.03 L429.42,61.17 L430.16,61.45 L430.89,61.21 L431.62,60.89 L432.36,60.99 L433.09,60.97 L433.82,61.38 L434.56,61.33 L435.29,61.08 L436.02,61.01 L436.76,61.34 L437.49,61.58 L438.22,61.81 L438.96,61.10 L439.69,61.76 L440.42,61.36 L441.16,61.28 L441.89,60.78 L442.62,61.47 L443.36,61.55 L444.09,61.44 L444.83,61.45 L445.56,61.29 L446.29,61.45 L447.03,61.78 L447.76,62.09 L448.49,61.58 L449.23,61.81 L449.96,61.37 L450.69,61.98 L451.43,61.66 L452.16,61.88 L452.89,61.93 L453.63,61.38 L454.36,61.72 L455.09,61.81 L455.83,61.62 L456.56,61.97 L457.29,61.89 L458.03,61.96 L458.76,61.40 L459.50,61.77 L460.23,61.72 L460.96,61.62 L461.70,61.91 L462.43,61.92 L463.16,62.25 L463.90,61.79 L464.63,61.85 L465.36,62.01 L466.10,61.66 L466.83,62.32 L467.56,61.85 L468.30,62.25 L469.03,62.20 L469.76,62.00 L470.50,61.67 L471.23,62.23 L471.96,62.19 L472.70,62.24 L473.43,61.54 L474.17,61.87 L474.90,61.90 L475.63,61.53 L476.37,61.94 L477.10,62.46 L477.83,62.11 L478.57,62.26 L479.30,61.55 L480.03,62.31 L480.77,61.93 L481.50,62.11" stroke="#1f78b4" stroke-width="1.01"/>
<path d="M334.80,19.15 L335.53,19.25 L336.27,19.51 L337.00,19.86 L337.73,20.51 L338.47,22.69 L339.20,25.45 L339.93,28.18 L340.67,30.53 L341.40,32.38 L342.13,34.03 L342.87,35.46 L343.60,36.67 L344.34,37.75 L345.07,38.79 L345.80,39.77 L346.54,40.68 L347.27,41.48 L348.00,42.16 L348.74,42.70 L349.47,43.07 L350.20,43.34 L350.94,43.57 L351.67,43.77 L352.40,43.94 L353.14,44.09 L353.87,44.23 L354.60,44.36 L355.34,44.49 L356.07,44.62 L356.81,44.76 L357.54,44.90 L358.27,45.02 L359.01,45.15 L359.74,45.26 L360.47,45.38 L361.21,45.48 L361.94,45.59 L362.67,45.69 L363.41,45.79 L364.14,45.89 L364.87,46.00 L365.61,46.10 L366.34,46.21 L367.07,46.32 L367.81,46.44 L368.54,46.56 L369.27,46.69 L370.01,46.83 L370.74,46.97 L371.48,47.13 L372.21,47.30 L372.94,47.50 L373.68,47.75 L374.41,47.85 L375.14,48.15 L375.88,48.49 L376.61,48.70 L377.34,49.03 L378.08,48.83 L378.81,49.43 L379.54,49.63 L380.28,50.22 L381.01,50.49 L381.74,50.24 L382.48,50.89 L383.21,51.05 L383.94,50.82 L384.68,51.00 L385.41,51.78 L386.14,52.15 L386.88,52.54 L387.61,53.06 L388.35,52.34 L389.08,54.10 L389.81,53.88 L390.55,55.12 L391.28,55.15 L392.01,54.62 L392.75,54.93 L393.48,55.35 L394.21,56.10 L394.95,56.70 L395.68,56.96 L396.41,57.22 L397.15,56.57 L397.88,56.63 L398.61,57.64 L399.35,58.66 L400.08,59.25 L400.81,58.56 L401.55,59.21 L402.28,60.65 L403.02,58.40 L403.75,59.67 L404.48,60.11 L405.22,60.73 L405.95,60.92 L406.68,59.74 L407.42,61.35 L408.15,60.72 L408.88,60.48 L409.62,59.72 L410.35,60.85 L411.08,61.51 L411.82,61.98 L412.55,61.14 L413.28,61.18 L414.02,62.44 L414.75,61.80 L415.49,62.51 L416.22,63.80 L416.95,63.47 L417.69,62.21 L418.42,61.86 L419.15,62.58 L419.89,63.40 L420.62,63.93 L421.35,63.10 L422.09,63.39 L422.82,65.02 L423.55,63.40 L424.29,64.58 L425.02,63.64 L425.75,63.87 L426.49,63.85 L427.22,63.71 L427.95,64.12 L428.69,65.60 L429.42,65.71 L430.16,64.24 L430.89,64.81 L431.62,66.52 L432.36,66.99 L433.09,64.87 L433.82,63.98 L434.56,65.19 L435.29,66.15 L436.02,65.89 L436.76,68.34 L437.49,67.15 L438.22,65.74 L438.96,66.00 L439.69,68.45 L440.42,66.04 L441.16,66.68 L441.89,66.52 L442.62,67.54 L443.36,67.53 L444.09,68.51 L444.83,67.57 L445.56,67.27 L446.29,68.83 L447.03,67.96 L447.76,68.80 L448.49,67.73 L449.23,67.92 L449.96,70.64 L450.69,68.61 L451.43,68.32 L452.16,69.68 L452.89,69.56 L453.63,69.65 L454.36,70.56 L455.09,69.91 L455.83,68.75 L456.56,69.73 L457.29,69.06 L458.03,69.61 L458.76,69.59 L459.50,70.57 L460.23,70.20 L460.96,69.38 L461.70,69.94 L462.43,70.97 L463.16,71.90 L463.90,72.21 L464.63,71.46 L465.36,71.44 L466.10,73.34 L466.83,71.89 L467.56,71.93 L468.30,72.10 L469.03,72.90 L469.76,70.83 L470.50,72.08 L471.23,73.95 L471.96,73.58 L472.70,72.55 L473.43,72.91 L474.17,73.34 L474.90,73.60 L475.63,73.88 L476.37,74.20 L477.10,74.79 L477.83,73.69 L478.57,76.42 L479.30,74.97 L480.03,73.59 L480.77,75.29 L481.50,75.74" stroke="#b2df8a" stroke-width="1.01"/>
<path d="M334.80,36.77 L335.53,37.90 L336.27,38.84 L337.00,39.31 L337.73,39.32 L338.47,39.30 L339.20,39.27 L339.93,39.23 L340.67,39.18 L341.40,39.09 L342.13,38.94 L342.87,38.78 L343.60,38.61 L344.34,38.47 L345.07,38.38 L345.80,38.36 L346.54,38.38 L347.27,38.43 L348.00,38.50 L348.74,38.58 L349.47,38.68 L350.20,38.79 L350.94,38.89 L351.67,39.03 L352.40,39.19 L353.14,39.38 L353.87,39.59 L354.60,39.83 L355.34,40.08 L356.07,40.34 L356.81,40.61 L357.54,40.89 L358.27,41.20 L359.01,41.55 L359.74,41.94 L360.47,42.34 L361.21,42.73 L361.94,43.11 L362.67,43.45 L363.41,43.79 L364.14,44.11 L364.87,44.42 L365.61,44.73 L366.34,45.03 L367.07,45.32 L367.81,45.61 L368.54,45.90 L369.27,46.19 L370.01,46.47 L370.74,46.76 L371.48,47.05 L372.21,47.33 L372.94,47.61 L373.68,47.87 L374.41,48.16 L375.14,48.43 L375.88,48.76 L376.61,49.11 L377.34,49.19 L378.08,49.73 L378.81,49.68 L379.54,49.75 L380.28,50.13 L381.01,50.22 L381.74,51.25 L382.48,51.24 L383.21,51.81 L383.94,52.09 L384.68,52.69 L385.41,52.86 L386.14,52.49 L386.88,52.82 L387.61,52.92 L388.35,53.22 L389.08,53.63 L389.81,54.57 L390.55,54.57 L391.28,54.49 L392.01,54.53 L392.75,55.57 L393.48,55.93 L394.21,56.20 L394.95,55.43 L395.68,56.25 L396.41,57.03 L397.15,57.59 L397.88,57.18 L398.61,58.76 L399.35,58.18 L400.08,58.71 L400.81,59.04 L401.55,58.84 L402.28,59.02 L403.02,57.62 L403.75,59.88 L404.48,59.83 L405.22,61.15 L405.95,62.04 L406.68,60.54 L407.42,60.33 L408.15,62.61 L408.88,62.33 L409.62,61.88 L410.35,62.87 L411.08,64.82 L411.82,62.90 L412.55,63.96 L413.28,63.69 L414.02,65.08 L414.75,64.15 L415.49,64.31 L416.22,65.73 L416.95,65.17 L417.69,66.15 L418.42,66.28 L419.15,66.76 L419.89,66.66 L420.62,67.03 L421.35,66.01 L422.09,67.13 L422.82,67.91 L423.55,66.46 L424.29,67.19 L425.02,67.08 L425.75,67.94 L426.49,67.62 L427.22,68.31 L427.95,69.04 L428.69,68.51 L429.42,68.65 L430.16,68.81 L430.89,68.51 L431.62,70.35 L432.36,69.18 L433.09,70.05 L433.82,69.86 L434.56,69.54 L435.29,69.94 L436.02,70.57 L436.76,69.78 L437.49,70.46 L438.22,69.96 L438.96,69.91 L439.69,71.10 L440.42,71.73 L441.16,71.10 L441.89,70.77 L442.62,71.23 L443.36,72.34 L444.09,72.82 L444.83,72.47 L445.56,72.61 L446.29,71.72 L447.03,72.22 L447.76,71.82 L448.49,72.57 L449.23,71.56 L449.96,72.77 L450.69,72.54 L451.43,73.30 L452.16,72.87 L452.89,72.58 L453.63,72.90 L454.36,72.70 L455.09,74.05 L455.83,73.48 L456.56,72.79 L457.29,73.86 L458.03,74.25 L458.76,74.42 L459.50,74.73 L460.23,74.42 L460.96,73.73 L461.70,74.46 L462.43,74.90 L463.16,75.52 L463.90,75.87 L464.63,73.70 L465.36,75.68 L466.10,75.43 L466.83,75.94 L467.56,75.64 L468.30,76.15 L469.03,75.93 L469.76,75.19 L470.50,76.74 L471.23,76.04 L471.96,76.56 L472.70,76.18 L473.43,77.22 L474.17,76.65 L474.90,77.67 L475.63,78.35 L476.37,78.15 L477.10,78.05 L477.83,78.30 L478.57,77.91 L479.30,77.12 L480.03,78.70 L480.77,77.81 L481.50,78.13" stroke="#33a02c" stroke-width="1.01" stroke-dasharray="3.33 1.44"/>
<path d="M334.80,34.82 L335.53,35.89 L336.27,36.68 L337.00,37.03 L337.73,37.23 L338.47,37.31 L339.20,37.18 L339.93,36.98 L340.67,36.93 L341.40,36.98 L342.13,37.06 L342.87,37.17 L343.60,37.31 L344.34,37.46 L345.07,37.61 L345.80,37.76 L346.54,37.91 L347.27,38.07 L348.00,38.24 L348.74,38.43 L349.47,38.64 L350.20,38.85 L350.94,39.08 L351.67,39.33 L352.40,39.60 L353.14,39.91 L353.87,40.25 L354.60,40.61 L355.34,40.99 L356.07,41.38 L356.81,41.82 L357.54,42.31 L358.27,42.81 L359.01,43.30 L359.74,43.76 L360.47,44.16 L361.21,44.52 L361.94,44.86 L362.67,45.20 L363.41,45.52 L364.14,45.82 L364.87,46.12 L365.61,46.41 L366.34,46.69 L367.07,46.96 L367.81,47.23 L368.54,47.49 L369.27,47.75 L370.01,48.00 L370.74,48.25 L371.48,48.50 L372.21,48.75 L372.94,48.99 L373.68,49.29 L374.41,49.50 L375.14,49.70 L375.88,49.92 L376.61,50.18 L377.34,50.55 L378.08,50.76 L378.81,51.04 L379.54,51.14 L380.28,51.57 L381.01,51.84 L381.74,52.16 L382.48,52.19 L383.21,52.40 L383.94,52.77 L384.68,53.03 L385.41,53.17 L386.14,53.16 L386.88,53.82 L387.61,53.82 L388.35,53.99 L389.08,54.17 L389.81,54.20 L390.55,54.48 L391.28,54.79 L392.01,54.72 L392.75,54.97 L393.48,55.35 L394.21,55.54 L394.95,56.07 L395.68,55.91 L396.41,56.32 L397.15,56.58 L397.88,56.49 L398.61,57.07 L399.35,56.97 L400.08,56.99 L400.81,56.85 L401.55,57.18 L402.28,57.07 L403.02,56.81 L403.75,57.18 L404.48,57.93 L405.22,58.25 L405.95,58.10 L406.68,58.21 L407.42,58.68 L408.15,58.71 L408.88,58.83 L409.62,58.60 L410.35,58.07 L411.08,58.10 L411.82,59.09 L412.55,59.03 L413.28,59.44 L414.02,59.64 L414.75,59.26 L415.49,59.34 L416.22,59.67 L416.95,59.38 L417.69,59.80 L418.42,59.46 L419.15,60.08 L419.89,59.76 L420.62,60.21 L421.35,60.21 L422.09,60.16 L422.82,60.90 L423.55,60.82 L424.29,60.71 L425.02,60.88 L425.75,60.81 L426.49,61.26 L427.22,61.53 L427.95,61.24 L428.69,61.22 L429.42,61.67 L430.16,61.12 L430.89,61.39 L431.62,61.44 L432.36,61.55 L433.09,62.17 L433.82,61.32 L434.56,62.31 L435.29,62.06 L436.02,62.04 L436.76,62.25 L437.49,62.38 L438.22,62.79 L438.96,62.74 L439.69,62.69 L440.42,62.37 L441.16,63.08 L441.89,62.73 L442.62,62.90 L443.36,63.09 L444.09,63.37 L444.83,63.32 L445.56,63.90 L446.29,63.39 L447.03,63.39 L447.76,63.74 L448.49,63.48 L449.23,63.61 L449.96,64.02 L450.69,63.59 L451.43,64.09 L452.16,63.22 L452.89,64.38 L453.63,64.37 L454.36,64.38 L455.09,64.17 L455.83,63.93 L456.56,64.33 L457.29,64.55 L458.03,63.87 L458.76,64.20 L459.50,64.67 L460.23,64.67 L460.96,65.17 L461.70,64.72 L462.43,64.23 L463.16,65.20 L463.90,65.32 L464.63,64.87 L465.36,65.72 L466.10,64.55 L466.83,65.52 L467.56,65.30 L468.30,65.16 L469.03,64.76 L469.76,65.05 L470.50,65.81 L471.23,65.77 L471.96,65.19 L472.70,65.95 L473.43,65.40 L474.17,65.59 L474.90,65.10 L475.63,64.98 L476.37,66.18 L477.10,65.26 L477.83,65.21 L478.57,65.66 L479.30,65.62 L480.03,65.82 L480.77,65.55 L481.50,65.31" stroke="#fb9a99" stroke-width="1.01" stroke-dasharray="0.90 1.48"/>
<path d="M334.80,26.47 L335.53,26.47 L336.27,26.47 L337.00,26.47 L337.73,26.47 L338.47,26.76 L339.20,27.44 L339.93,28.21 L340.67,29.03 L341.40,30.00 L342.13,31.07 L342.87,32.18 L343.60,33.98 L344.34,37.20 L345.07,42.87 L345.80,43.30 L346.54,43.53 L347.27,43.60 L348.00,43.40 L348.74,42.94 L349.47,42.49 L350.20,42.29 L350.94,43.05 L351.67,44.41 L352.40,45.03 L353.14,45.13 L353.87,45.20 L354.60,45.24 L355.34,45.28 L356.07,45.33 L356.81,45.39 L357.54,45.48 L358.27,45.58 L359.01,45.70 L359.74,45.82 L360.47,45.95 L361.21,46.09 L361.94,46.24 L362.67,46.39 L363.41,46.55 L364.14,46.72 L364.87,46.89 L365.61,47.06 L366.34,47.24 L367.07,47.42 L367.81,47.60 L368.54,47.78 L369.27,47.96 L370.01,48.15 L370.74,48.33 L371.48,48.50 L372.21,48.68 L372.94,48.86 L373.68,49.07 L374.41,49.21 L375.14,49.47 L375.88,49.81 L376.61,49.87 L377.34,50.25 L378.08,50.35 L378.81,50.43 L379.54,50.75 L380.28,51.19 L381.01,51.41 L381.74,51.57 L382.48,51.65 L383.21,52.16 L383.94,52.17 L384.68,52.52 L385.41,52.83 L386.14,53.08 L386.88,53.02 L387.61,53.81 L388.35,53.99 L389.08,53.85 L389.81,54.06 L390.55,54.75 L391.28,54.90 L392.01,55.18 L392.75,55.01 L393.48,55.50 L394.21,55.19 L394.95,55.54 L395.68,55.85 L396.41,56.05 L397.15,56.12 L397.88,56.18 L398.61,56.57 L399.35,56.64 L400.08,56.60 L400.81,56.98 L401.55,56.75 L402.28,57.22 L403.02,57.54 L403.75,57.34 L404.48,56.98 L405.22,57.14 L405.95,58.24 L406.68,57.74 L407.42,58.10 L408.15,58.15 L408.88,58.27 L409.62,58.34 L410.35,58.54 L411.08,58.56 L411.82,58.51 L412.55,59.07 L413.28,59.18 L414.02,59.25 L414.75,59.35 L415.49,58.90 L416.22,59.55 L416.95,59.32 L417.69,59.37 L418.42,59.26 L419.15,59.58 L419.89,59.35 L420.62,59.80 L421.35,59.80 L422.09,59.73 L422.82,60.54 L423.55,60.04 L424.29,59.78 L425.02,60.32 L425.75,60.52 L426.49,59.93 L427.22,60.59 L427.95,60.32 L428.69,61.56 L429.42,60.86 L430.16,61.14 L430.89,60.94 L431.62,60.77 L432.36,61.28 L433.09,61.39 L433.82,62.30 L434.56,61.23 L435.29,61.14 L436.02,61.60 L436.76,61.87 L437.49,61.68 L438.22,61.55 L438.96,61.75 L439.69,61.37 L440.42,62.28 L441.16,62.61 L441.89,62.09 L442.62,61.92 L443.36,62.54 L444.09,62.46 L444.83,62.73 L445.56,63.00 L446.29,62.90 L447.03,63.39 L447.76,62.71 L448.49,62.71 L449.23,62.63 L449.96,63.24 L450.69,63.24 L451.43,63.63 L452.16,63.62 L452.89,62.93 L453.63,62.36 L454.36,63.65 L455.09,63.50 L455.83,63.12 L456.56,63.69 L457.29,63.33 L458.03,63.66 L458.76,63.71 L459.50,63.37 L460.23,63.78 L460.96,64.15 L461.70,63.52 L462.43,63.82 L463.16,64.04 L463.90,64.15 L464.63,63.75 L465.36,64.20 L466.10,63.96 L466.83,63.71 L467.56,64.10 L468.30,63.74 L469.03,64.56 L469.76,63.95 L470.50,64.00 L471.23,63.59 L471.96,64.20 L472.70,63.94 L473.43,64.30 L474.17,64.60 L474.90,64.56 L475.63,64.52 L476.37,64.06 L477.10,64.56 L477.83,64.31 L478.57,64.04 L479.30,63.94 L480.03,64.04 L480.77,63.87 L481.50,64.70" stroke="#e31a1c" stroke-width="1.01" stroke-dasharray="5.76 1.44 0.90 1.44"/>
<path d="M334.80,21.02 L335.53,21.46 L336.27,22.66 L337.00,27.42 L337.73,30.87 L338.47,33.64 L339.20,36.03 L339.93,38.12 L340.67,39.68 L341.40,40.75 L342.13,41.60 L342.87,42.34 L343.60,43.07 L344.34,43.82 L345.07,44.53 L345.80,45.21 L346.54,45.87 L347.27,46.51 L348.00,47.13 L348.74,47.75 L349.47,48.39 L350.20,49.02 L350.94,49.63 L351.67,50.21 L352.40,50.73 L353.14,51.18 L353.87,51.54 L354.60,51.84 L355.34,52.12 L356.07,52.39 L356.81,52.64 L357.54,52.88 L358.27,53.10 L359.01,53.31 L359.74,53.51 L360.47,53.70 L361.21,53.88 L361.94,54.06 L362.67,54.23 L363.41,54.39 L364.14,54.55 L364.87,54.70 L365.61,54.86 L366.34,55.01 L367.07,55.17 L367.81,55.32 L368.54,55.48 L369.27,55.65 L370.01,55.82 L370.74,56.00 L371.48,56.18 L372.21,56.38 L372.94,56.56 L373.68,56.75 L374.41,56.91 L375.14,57.09 L375.88,57.29 L376.61,57.50 L377.34,57.58 L378.08,57.90 L378.81,58.03 L379.54,58.13 L380.28,58.49 L381.01,58.65 L381.74,58.69 L382.48,58.91 L383.21,59.24 L383.94,59.29 L384.68,59.28 L385.41,59.66 L386.14,59.71 L386.88,59.94 L387.61,60.19 L388.35,60.06 L389.08,60.28 L389.81,60.39 L390.55,60.71 L391.28,60.82 L392.01,60.94 L392.75,61.04 L393.48,61.30 L394.21,61.46 L394.95,61.29 L395.68,61.83 L396.41,61.85 L397.15,61.96 L397.88,62.11 L398.61,62.37 L399.35,62.40 L400.08,62.19 L400.81,62.54 L401.55,62.73 L402.28,62.31 L403.02,63.05 L403.75,62.64 L404.48,62.88 L405.22,63.33 L405.95,63.22 L406.68,63.31 L407.42,63.05 L408.15,63.22 L408.88,63.57 L409.62,63.85 L410.35,64.06 L411.08,63.82 L411.82,64.18 L412.55,64.01 L413.28,64.11 L414.02,64.07 L414.75,64.03 L415.49,64.31 L416.22,64.33 L416.95,64.55 L417.69,64.38 L418.42,64.52 L419.15,64.44 L419.89,64.58 L420.62,65.12 L421.35,65.36 L422.09,65.00 L422.82,64.98 L423.55,65.46 L424.29,65.08 L425.02,65.46 L425.75,65.59 L426.49,65.58 L427.22,66.04 L427.95,66.18 L428.69,65.98 L429.42,66.24 L430.16,66.08 L430.89,66.16 L431.62,66.79 L432.36,66.50 L433.09,66.29 L433.82,66.98 L434.56,66.64 L435.29,66.94 L436.02,67.15 L436.76,66.57 L437.49,66.65 L438.22,67.05 L438.96,67.14 L439.69,66.82 L440.42,66.93 L441.16,67.26 L441.89,67.15 L442.62,67.39 L443.36,67.55 L444.09,67.42 L444.83,67.71 L445.56,67.57 L446.29,67.81 L447.03,67.93 L447.76,68.02 L448.49,67.87 L449.23,67.83 L449.96,68.01 L450.69,68.35 L451.43,68.09 L452.16,68.48 L452.89,68.59 L453.63,68.45 L454.36,68.30 L455.09,68.38 L455.83,68.47 L456.56,68.35 L457.29,68.52 L458.03,68.83 L458.76,68.64 L459.50,68.92 L460.23,68.83 L460.96,68.84 L461.70,69.03 L462.43,69.38 L463.16,69.15 L463.90,69.23 L464.63,69.23 L465.36,69.34 L466.10,69.54 L466.83,69.68 L467.56,69.24 L468.30,69.26 L469.03,69.39 L469.76,69.51 L470.50,69.13 L471.23,69.44 L471.96,69.61 L472.70,69.47 L473.43,69.70 L474.17,69.57 L474.90,69.69 L475.63,69.66 L476.37,69.79 L477.10,69.93 L477.83,69.75 L478.57,69.65 L479.30,70.10 L480.03,70.04 L480.77,70.18 L481.50,69.79" stroke="#fdbf6f" stroke-width="1.01"/>
<path d="M334.80,29.53 L335.53,29.58 L336.27,29.65 L337.00,29.72 L337.73,29.81 L338.47,29.93 L339.20,30.15 L339.93,30.64 L340.67,31.17 L341.40,31.71 L342.13,32.26 L342.87,32.84 L343.60,33.43 L344.34,34.01 L345.07,34.60 L345.80,35.20 L346.54,35.77 L347.27,36.30 L348.00,36.82 L348.74,37.31 L349.47,37.76 L350.20,38.16 L350.94,38.54 L351.67,38.90 L352.40,39.24 L353.14,39.57 L353.87,39.89 L354.60,40.21 L355.34,40.54 L356.07,40.87 L356.81,41.22 L357.54,41.59 L358.27,41.97 L359.01,42.37 L359.74,42.77 L360.47,43.16 L361.21,43.54 L361.94,43.90 L362.67,44.22 L363.41,44.51 L364.14,44.77 L364.87,45.01 L365.61,45.23 L366.34,45.44 L367.07,45.64 L367.81,45.83 L368.54,46.02 L369.27,46.21 L370.01,46.41 L370.74,46.61 L371.48,46.82 L372.21,47.05 L372.94,47.27 L373.68,47.52 L374.41,47.73 L375.14,47.97 L375.88,48.21 L376.61,48.51 L377.34,48.70 L378.08,49.05 L378.81,49.27 L379.54,49.45 L380.28,49.72 L381.01,49.99 L381.74,50.17 L382.48,50.51 L383.21,50.89 L383.94,51.15 L384.68,51.47 L385.41,51.64 L386.14,52.01 L386.88,52.26 L387.61,52.56 L388.35,52.91 L389.08,52.64 L389.81,53.08 L390.55,53.73 L391.28,53.62 L392.01,53.99 L392.75,54.46 L393.48,54.39 L394.21,54.53 L394.95,54.67 L395.68,54.78 L396.41,55.31 L397.15,55.35 L397.88,55.38 L398.61,55.56 L399.35,55.74 L400.08,55.94 L400.81,55.83 L401.55,56.47 L402.28,56.65 L403.02,56.09 L403.75,56.49 L404.48,56.46 L405.22,56.77 L405.95,57.01 L406.68,57.15 L407.42,57.15 L408.15,57.39 L408.88,57.43 L409.62,57.55 L410.35,57.47 L411.08,57.60 L411.82,57.54 L412.55,58.14 L413.28,58.12 L414.02,58.02 L414.75,58.26 L415.49,58.96 L416.22,58.48 L416.95,58.67 L417.69,58.88 L418.42,58.98 L419.15,59.15 L419.89,58.86 L420.62,59.07 L421.35,59.28 L422.09,59.19 L422.82,59.34 L423.55,59.81 L424.29,59.96 L425.02,60.06 L425.75,59.79 L426.49,60.05 L427.22,59.90 L427.95,60.14 L428.69,60.39 L429.42,60.71 L430.16,60.60 L430.89,60.17 L431.62,60.88 L432.36,61.00 L433.09,60.97 L433.82,60.73 L434.56,61.12 L435.29,61.43 L436.02,61.42 L436.76,61.40 L437.49,61.45 L438.22,61.34 L438.96,61.12 L439.69,61.44 L440.42,61.67 L441.16,61.89 L441.89,62.14 L442.62,61.93 L443.36,61.86 L444.09,62.03 L444.83,62.31 L445.56,62.22 L446.29,62.48 L447.03,62.54 L447.76,62.62 L448.49,62.63 L449.23,62.73 L449.96,62.57 L450.69,62.85 L451.43,62.94 L452.16,62.77 L452.89,62.90 L453.63,62.87 L454.36,63.33 L455.09,62.95 L455.83,63.29 L456.56,63.56 L457.29,63.43 L458.03,63.71 L458.76,63.71 L459.50,63.64 L460.23,63.41 L460.96,63.93 L461.70,63.64 L462.43,63.80 L463.16,63.46 L463.90,63.79 L464.63,63.74 L465.36,63.61 L466.10,64.17 L466.83,64.05 L467.56,64.32 L468.30,64.22 L469.03,64.01 L469.76,64.14 L470.50,64.05 L471.23,64.24 L471.96,64.33 L472.70,64.24 L473.43,64.41 L474.17,64.48 L474.90,64.59 L475.63,64.31 L476.37,64.21 L477.10,64.56 L477.83,64.42 L478.57,64.81 L479.30,64.59 L480.03,64.33 L480.77,64.62 L481.50,64.26" stroke="#ff7f00" stroke-width="1.01"/>
<path d="M334.80,33.82 L335.53,34.71 L336.27,35.33 L337.00,35.42 L337.73,35.42 L338.47,35.42 L339.20,35.42 L339.93,35.43 L340.67,35.47 L341.40,35.53 L342.13,35.60 L342.87,35.69 L343.60,35.80 L344.34,35.90 L345.07,36.01 L345.80,36.15 L346.54,36.31 L347.27,36.50 L348.00,36.71 L348.74,36.95 L349.47,37.20 L350.20,37.49 L350.94,37.85 L351.67,38.26 L352.40,38.70 L353.14,39.15 L353.87,39.60 L354.60,40.02 L355.34,40.42 L356.07,40.81 L356.81,41.19 L357.54,41.57 L358.27,41.95 L359.01,42.33 L359.74,42.70 L360.47,43.07 L361.21,43.45 L361.94,43.83 L362.67,44.21 L363.41,44.59 L364.14,44.98 L364.87,45.36 L365.61,45.74 L366.34,46.12 L367.07,46.49 L367.81,46.85 L368.54,47.21 L369.27,47.55 L370.01,47.88 L370.74,48.20 L371.48,48.50 L372.21,48.80 L372.94,49.09 L373.68,49.40 L374.41,49.69 L375.14,50.05 L375.88,50.25 L376.61,50.47 L377.34,50.79 L378.08,51.07 L378.81,51.38 L379.54,51.71 L380.28,51.91 L381.01,52.21 L381.74,52.49 L382.48,52.73 L383.21,53.06 L383.94,53.26 L384.68,53.47 L385.41,53.68 L386.14,54.01 L386.88,54.18 L387.61,54.49 L388.35,55.02 L389.08,55.22 L389.81,55.23 L390.55,55.58 L391.28,55.57 L392.01,56.05 L392.75,56.13 L393.48,56.35 L394.21,56.58 L394.95,56.75 L395.68,56.84 L396.41,57.00 L397.15,57.28 L397.88,57.32 L398.61,57.41 L399.35,57.70 L400.08,57.94 L400.81,58.08 L401.55,58.17 L402.28,58.32 L403.02,58.33 L403.75,57.92 L404.48,58.37 L405.22,58.73 L405.95,58.75 L406.68,58.88 L407.42,58.87 L408.15,58.97 L408.88,59.59 L409.62,59.06 L410.35,59.83 L411.08,59.76 L411.82,60.08 L412.55,60.39 L413.28,60.53 L414.02,59.88 L414.75,60.10 L415.49,60.74 L416.22,60.89 L416.95,60.48 L417.69,61.11 L418.42,60.94 L419.15,60.73 L419.89,61.12 L420.62,61.09 L421.35,61.47 L422.09,61.99 L422.82,61.92 L423.55,62.24 L424.29,61.92 L425.02,62.38 L425.75,62.19 L426.49,62.44 L427.22,62.59 L427.95,62.45 L428.69,62.77 L429.42,62.96 L430.16,62.69 L430.89,63.01 L431.62,63.42 L432.36,62.97 L433.09,63.62 L433.82,63.38 L434.56,63.42 L435.29,63.69 L436.02,63.91 L436.76,63.91 L437.49,64.01 L438.22,64.27 L438.96,63.95 L439.69,64.35 L440.42,64.47 L441.16,64.13 L441.89,64.66 L442.62,64.92 L443.36,64.71 L444.09,64.78 L444.83,64.86 L445.56,64.52 L446.29,65.15 L447.03,64.84 L447.76,65.02 L448.49,64.98 L449.23,65.38 L449.96,65.50 L450.69,65.56 L451.43,65.52 L452.16,65.46 L452.89,65.39 L453.63,66.17 L454.36,65.65 L455.09,65.86 L455.83,65.99 L456.56,66.28 L457.29,66.06 L458.03,66.57 L458.76,65.99 L459.50,66.50 L460.23,66.39 L460.96,66.45 L461.70,66.35 L462.43,66.80 L463.16,66.40 L463.90,66.53 L464.63,66.34 L465.36,66.65 L466.10,66.78 L466.83,67.19 L467.56,66.91 L468.30,66.52 L469.03,67.00 L469.76,67.04 L470.50,67.00 L471.23,66.82 L471.96,67.40 L472.70,66.67 L473.43,66.95 L474.17,66.95 L474.90,67.12 L475.63,66.72 L476.37,67.24 L477.10,66.99 L477.83,67.15 L478.57,67.45 L479.30,67.22 L480.03,67.05 L480.77,67.26 L481.50,67.29" stroke="#cab2d6" stroke-width="1.01"/>
<path d="M334.80,27.33 L335.53,28.84 L336.27,28.84 L337.00,28.84 L337.73,28.84 L338.47,28.84 L339.20,28.99 L339.93,29.65 L340.67,30.32 L341.40,31.08 L342.13,31.83 L342.87,32.48 L343.60,32.96 L344.34,33.36 L345.07,33.84 L345.80,34.43 L346.54,35.11 L347.27,35.84 L348.00,36.61 L348.74,37.39 L349.47,38.15 L350.20,38.87 L350.94,39.52 L351.67,40.14 L352.40,40.74 L353.14,41.34 L353.87,41.92 L354.60,42.49 L355.34,43.06 L356.07,43.61 L356.81,44.15 L357.54,44.68 L358.27,45.20 L359.01,45.72 L359.74,46.22 L360.47,46.72 L361.21,47.21 L361.94,47.69 L362.67,48.16 L363.41,48.60 L364.14,49.03 L364.87,49.44 L365.61,49.85 L366.34,50.26 L367.07,50.66 L367.81,51.08 L368.54,51.49 L369.27,51.92 L370.01,52.37 L370.74,52.83 L371.48,53.32 L372.21,53.88 L372.94,54.41 L373.68,54.94 L374.41,55.54 L375.14,56.30 L375.88,56.69 L376.61,57.53 L377.34,57.90 L378.08,58.65 L378.81,58.97 L379.54,59.54 L380.28,60.14 L381.01,60.41 L381.74,61.14 L382.48,61.52 L383.21,61.94 L383.94,62.50 L384.68,62.41 L385.41,62.78 L386.14,63.45 L386.88,64.14 L387.61,64.02 L388.35,64.43 L389.08,64.64 L389.81,65.23 L390.55,65.66 L391.28,65.32 L392.01,66.52 L392.75,66.69 L393.48,67.78 L394.21,67.46 L394.95,67.84 L395.68,68.10 L396.41,67.92 L397.15,68.87 L397.88,68.58 L398.61,69.32 L399.35,69.62 L400.08,70.74 L400.81,69.57 L401.55,69.64 L402.28,70.84 L403.02,70.76 L403.75,71.67 L404.48,70.91 L405.22,71.51 L405.95,70.72 L406.68,71.16 L407.42,70.83 L408.15,71.86 L408.88,72.52 L409.62,71.61 L410.35,72.04 L411.08,70.62 L411.82,71.72 L412.55,71.07 L413.28,71.73 L414.02,72.35 L414.75,73.20 L415.49,72.47 L416.22,72.02 L416.95,72.44 L417.69,72.36 L418.42,72.45 L419.15,73.56 L419.89,72.60 L420.62,73.37 L421.35,72.97 L422.09,72.16 L422.82,74.32 L423.55,73.32 L424.29,73.01 L425.02,72.62 L425.75,73.32 L426.49,73.95 L427.22,73.01 L427.95,73.21 L428.69,74.76 L429.42,73.68 L430.16,74.87 L430.89,75.52 L431.62,74.57 L432.36,74.62 L433.09,75.45 L433.82,73.01 L434.56,75.10 L435.29,74.13 L436.02,74.00 L436.76,73.17 L437.49,74.85 L438.22,73.72 L438.96,75.55 L439.69,74.96 L440.42,75.30 L441.16,75.78 L441.89,75.04 L442.62,74.16 L443.36,74.14 L444.09,75.16 L444.83,76.42 L445.56,76.32 L446.29,75.55 L447.03,75.68 L447.76,75.80 L448.49,76.45 L449.23,76.97 L449.96,76.23 L450.69,76.65 L451.43,75.86 L452.16,77.31 L452.89,76.46 L453.63,76.26 L454.36,75.99 L455.09,76.12 L455.83,78.14 L456.56,78.37 L457.29,77.65 L458.03,78.42 L458.76,79.51 L459.50,77.19 L460.23,77.94 L460.96,77.74 L461.70,78.40 L462.43,77.91 L463.16,78.62 L463.90,78.83 L464.63,77.83 L465.36,79.92 L466.10,78.98 L466.83,80.47 L467.56,78.65 L468.30,79.88 L469.03,80.65 L469.76,81.18 L470.50,80.30 L471.23,79.05 L471.96,80.13 L472.70,81.59 L473.43,82.04 L474.17,79.07 L474.90,81.39 L475.63,82.11 L476.37,81.23 L477.10,81.10 L477.83,80.61 L478.57,81.89 L479.30,82.37 L480.03,81.63 L480.77,82.73 L481.50,82.14" stroke="#6a3d9a" stroke-width="1.01" stroke-dasharray="3.33 1.44"/>
<path d="M334.80,21.02 L335.53,21.25 L336.27,21.91 L337.00,22.89 L337.73,25.49 L338.47,30.25 L339.20,34.44 L339.93,36.75 L340.67,38.35 L341.40,39.59 L342.13,40.60 L342.87,41.43 L343.60,42.10 L344.34,42.67 L345.07,43.18 L345.80,43.64 L346.54,44.05 L347.27,44.43 L348.00,44.78 L348.74,45.09 L349.47,45.39 L350.20,45.67 L350.94,45.93 L351.67,46.17 L352.40,46.39 L353.14,46.60 L353.87,46.81 L354.60,47.01 L355.34,47.21 L356.07,47.41 L356.81,47.62 L357.54,47.84 L358.27,48.05 L359.01,48.26 L359.74,48.48 L360.47,48.69 L361.21,48.90 L361.94,49.10 L362.67,49.31 L363.41,49.52 L364.14,49.73 L364.87,49.93 L365.61,50.14 L366.34,50.34 L367.07,50.55 L367.81,50.76 L368.54,50.96 L369.27,51.17 L370.01,51.38 L370.74,51.59 L371.48,51.80 L372.21,52.01 L372.94,52.23 L373.68,52.46 L374.41,52.64 L375.14,52.94 L375.88,53.13 L376.61,53.40 L377.34,53.63 L378.08,53.89 L378.81,54.08 L379.54,54.28 L380.28,54.47 L381.01,54.92 L381.74,55.02 L382.48,55.31 L383.21,55.57 L383.94,55.76 L384.68,55.97 L385.41,56.24 L386.14,56.46 L386.88,56.45 L387.61,56.91 L388.35,57.11 L389.08,57.53 L389.81,57.45 L390.55,57.89 L391.28,58.04 L392.01,58.35 L392.75,58.46 L393.48,58.79 L394.21,59.05 L394.95,59.26 L395.68,59.27 L396.41,59.37 L397.15,59.41 L397.88,59.38 L398.61,59.49 L399.35,60.13 L400.08,60.28 L400.81,60.10 L401.55,60.57 L402.28,60.27 L403.02,60.41 L403.75,60.95 L404.48,60.71 L405.22,60.69 L405.95,61.02 L406.68,61.29 L407.42,61.39 L408.15,61.37 L408.88,61.75 L409.62,61.64 L410.35,61.88 L411.08,62.11 L411.82,62.28 L412.55,62.07 L413.28,62.50 L414.02,62.38 L414.75,62.93 L415.49,62.70 L416.22,62.75 L416.95,62.81 L417.69,62.80 L418.42,63.00 L419.15,63.11 L419.89,63.40 L420.62,63.67 L421.35,63.81 L422.09,63.84 L422.82,63.73 L423.55,63.68 L424.29,63.93 L425.02,64.07 L425.75,64.06 L426.49,64.39 L427.22,64.39 L427.95,64.56 L428.69,64.59 L429.42,64.79 L430.16,65.12 L430.89,65.02 L431.62,65.22 L432.36,64.78 L433.09,64.94 L433.82,65.47 L434.56,65.62 L435.29,65.53 L436.02,65.95 L436.76,65.46 L437.49,65.83 L438.22,66.01 L438.96,65.78 L439.69,65.82 L440.42,66.15 L441.16,66.05 L441.89,66.70 L442.62,66.60 L443.36,66.70 L444.09,66.95 L444.83,66.51 L445.56,66.26 L446.29,67.13 L447.03,67.05 L447.76,66.78 L448.49,67.14 L449.23,67.16 L449.96,67.40 L450.69,67.23 L451.43,67.57 L452.16,67.28 L452.89,67.40 L453.63,67.49 L454.36,67.80 L455.09,67.75 L455.83,67.66 L456.56,68.01 L457.29,68.09 L458.03,68.42 L458.76,68.11 L459.50,68.08 L460.23,67.90 L460.96,68.41 L461.70,68.51 L462.43,68.00 L463.16,68.07 L463.90,68.58 L464.63,68.49 L465.36,68.81 L466.10,68.48 L466.83,68.24 L467.56,68.38 L468.30,68.80 L469.03,68.55 L469.76,68.80 L470.50,68.61 L471.23,68.82 L471.96,68.60 L472.70,68.49 L473.43,68.71 L474.17,68.72 L474.90,68.73 L475.63,68.64 L476.37,68.93 L477.10,68.89 L477.83,68.90 L478.57,68.60 L479.30,68.85 L480.03,68.77 L480.77,68.97 L481.50,69.18" stroke="#ffff99" stroke-width="1.01"/>
<path d="M334.80,24.12 L335.53,33.35 L336.27,33.50 L337.00,33.56 L337.73,33.63 L338.47,33.83 L339.20,34.27 L339.93,34.65 L340.67,34.84 L341.40,34.98 L342.13,35.10 L342.87,35.20 L343.60,35.29 L344.34,35.38 L345.07,35.49 L345.80,35.64 L346.54,35.83 L347.27,36.10 L348.00,36.45 L348.74,36.86 L349.47,37.30 L350.20,37.76 L350.94,38.21 L351.67,38.64 L352.40,39.02 L353.14,39.33 L353.87,39.58 L354.60,39.82 L355.34,40.03 L356.07,40.22 L356.81,40.41 L357.54,40.59 L358.27,40.77 L359.01,40.96 L359.74,41.15 L360.47,41.37 L361.21,41.60 L361.94,41.86 L362.67,42.14 L363.41,42.45 L364.14,42.77 L364.87,43.11 L365.61,43.46 L366.34,43.82 L367.07,44.18 L367.81,44.53 L368.54,44.89 L369.27,45.23 L370.01,45.56 L370.74,45.88 L371.48,46.17 L372.21,46.44 L372.94,46.71 L373.68,46.99 L374.41,47.19 L375.14,47.45 L375.88,47.69 L376.61,47.99 L377.34,48.25 L378.08,48.50 L378.81,48.63 L379.54,48.93 L380.28,49.11 L381.01,49.52 L381.74,49.51 L382.48,49.86 L383.21,50.24 L383.94,50.33 L384.68,50.38 L385.41,50.46 L386.14,51.10 L386.88,51.15 L387.61,51.17 L388.35,51.55 L389.08,51.59 L389.81,51.85 L390.55,51.86 L391.28,52.25 L392.01,52.25 L392.75,52.49 L393.48,52.49 L394.21,52.67 L394.95,52.63 L395.68,52.90 L396.41,52.76 L397.15,53.51 L397.88,53.40 L398.61,53.33 L399.35,53.59 L400.08,54.28 L400.81,53.79 L401.55,54.09 L402.28,53.59 L403.02,54.26 L403.75,54.21 L404.48,54.68 L405.22,54.46 L405.95,55.32 L406.68,55.07 L407.42,55.05 L408.15,55.43 L408.88,55.01 L409.62,55.33 L410.35,55.11 L411.08,55.88 L411.82,55.88 L412.55,55.68 L413.28,56.05 L414.02,55.88 L414.75,56.04 L415.49,56.46 L416.22,56.39 L416.95,56.42 L417.69,56.60 L418.42,56.82 L419.15,57.00 L419.89,57.06 L420.62,56.92 L421.35,56.80 L422.09,57.66 L422.82,57.69 L423.55,57.63 L424.29,57.40 L425.02,58.00 L425.75,57.44 L426.49,57.56 L427.22,58.67 L427.95,58.13 L428.69,58.26 L429.42,58.59 L430.16,59.01 L430.89,58.66 L431.62,58.92 L432.36,58.69 L433.09,58.93 L433.82,59.36 L434.56,58.85 L435.29,58.98 L436.02,59.16 L436.76,59.58 L437.49,59.50 L438.22,59.78 L438.96,60.03 L439.69,60.41 L440.42,60.06 L441.16,60.65 L441.89,60.17 L442.62,60.72 L443.36,60.48 L444.09,60.69 L444.83,60.98 L445.56,61.06 L446.29,61.06 L447.03,60.71 L447.76,61.05 L448.49,61.29 L449.23,61.15 L449.96,61.68 L450.69,61.85 L451.43,61.81 L452.16,61.49 L452.89,61.87 L453.63,61.88 L454.36,61.97 L455.09,62.18 L455.83,61.92 L456.56,62.12 L457.29,62.55 L458.03,62.68 L458.76,62.55 L459.50,62.83 L460.23,62.72 L460.96,62.65 L461.70,62.88 L462.43,62.94 L463.16,63.17 L463.90,63.32 L464.63,63.45 L465.36,63.03 L466.10,63.55 L466.83,63.45 L467.56,63.52 L468.30,63.53 L469.03,63.77 L469.76,64.12 L470.50,63.40 L471.23,64.16 L471.96,63.87 L472.70,64.31 L473.43,64.00 L474.17,64.45 L474.90,63.92 L475.63,64.25 L476.37,64.77 L477.10,64.12 L477.83,64.97 L478.57,64.69 L479.30,64.44 L480.03,64.83 L480.77,64.53 L481.50,64.86" stroke="#b15928" stroke-width="1.01"/>
</g>
<rect x="333.0" y="16.5" width="152.2" height="69.9" fill="none" stroke="#8a8a8a" stroke-width="0.9"/>
<line x1="334.80" y1="86.4" x2="334.80" y2="87.9" stroke="#555555" stroke-width="0.7"/>
<line x1="353.14" y1="86.4" x2="353.14" y2="87.9" stroke="#555555" stroke-width="0.7"/>
<line x1="371.48" y1="86.4" x2="371.48" y2="87.9" stroke="#555555" stroke-width="0.7"/>
<line x1="389.81" y1="86.4" x2="389.81" y2="87.9" stroke="#555555" stroke-width="0.7"/>
<line x1="408.15" y1="86.4" x2="408.15" y2="87.9" stroke="#555555" stroke-width="0.7"/>
<line x1="426.49" y1="86.4" x2="426.49" y2="87.9" stroke="#555555" stroke-width="0.7"/>
<line x1="444.83" y1="86.4" x2="444.83" y2="87.9" stroke="#555555" stroke-width="0.7"/>
<line x1="463.16" y1="86.4" x2="463.16" y2="87.9" stroke="#555555" stroke-width="0.7"/>
<line x1="481.50" y1="86.4" x2="481.50" y2="87.9" stroke="#555555" stroke-width="0.7"/>
<line x1="331.5" y1="20.83" x2="333.0" y2="20.83" stroke="#555555" stroke-width="0.7"/>
<line x1="331.5" y1="42.10" x2="333.0" y2="42.10" stroke="#555555" stroke-width="0.7"/>
<line x1="331.5" y1="63.37" x2="333.0" y2="63.37" stroke="#555555" stroke-width="0.7"/>
<line x1="331.5" y1="84.64" x2="333.0" y2="84.64" stroke="#555555" stroke-width="0.7"/>
<line x1="332.10" y1="78.24" x2="333.00" y2="78.24" stroke="#555555" stroke-width="0.5"/>
<line x1="332.10" y1="74.49" x2="333.00" y2="74.49" stroke="#555555" stroke-width="0.5"/>
<line x1="332.10" y1="71.83" x2="333.00" y2="71.83" stroke="#555555" stroke-width="0.5"/>
<line x1="332.10" y1="69.77" x2="333.00" y2="69.77" stroke="#555555" stroke-width="0.5"/>
<line x1="332.10" y1="68.09" x2="333.00" y2="68.09" stroke="#555555" stroke-width="0.5"/>
<line x1="332.10" y1="66.66" x2="333.00" y2="66.66" stroke="#555555" stroke-width="0.5"/>
<line x1="332.10" y1="65.43" x2="333.00" y2="65.43" stroke="#555555" stroke-width="0.5"/>
<line x1="332.10" y1="64.34" x2="333.00" y2="64.34" stroke="#555555" stroke-width="0.5"/>
<line x1="332.10" y1="56.97" x2="333.00" y2="56.97" stroke="#555555" stroke-width="0.5"/>
<line x1="332.10" y1="53.22" x2="333.00" y2="53.22" stroke="#555555" stroke-width="0.5"/>
<line x1="332.10" y1="50.56" x2="333.00" y2="50.56" stroke="#555555" stroke-width="0.5"/>
<line x1="332.10" y1="48.50" x2="333.00" y2="48.50" stroke="#555555" stroke-width="0.5"/>
<line x1="332.10" y1="46.82" x2="333.00" y2="46.82" stroke="#555555" stroke-width="0.5"/>
<line x1="332.10" y1="45.39" x2="333.00" y2="45.39" stroke="#555555" stroke-width="0.5"/>
<line x1="332.10" y1="44.16" x2="333.00" y2="44.16" stroke="#555555" stroke-width="0.5"/>
<line x1="332.10" y1="43.07" x2="333.00" y2="43.07" stroke="#555555" stroke-width="0.5"/>
<line x1="332.10" y1="35.70" x2="333.00" y2="35.70" stroke="#555555" stroke-width="0.5"/>
<line x1="332.10" y1="31.95" x2="333.00" y2="31.95" stroke="#555555" stroke-width="0.5"/>
<line x1="332.10" y1="29.29" x2="333.00" y2="29.29" stroke="#555555" stroke-width="0.5"/>
<line x1="332.10" y1="27.23" x2="333.00" y2="27.23" stroke="#555555" stroke-width="0.5"/>
<line x1="332.10" y1="25.55" x2="333.00" y2="25.55" stroke="#555555" stroke-width="0.5"/>
<line x1="332.10" y1="24.12" x2="333.00" y2="24.12" stroke="#555555" stroke-width="0.5"/>
<line x1="332.10" y1="22.89" x2="333.00" y2="22.89" stroke="#555555" stroke-width="0.5"/>
<line x1="332.10" y1="21.80" x2="333.00" y2="21.80" stroke="#555555" stroke-width="0.5"/>
<text x="334.80" y="93.20" font-size="4.45" text-anchor="middle" fill="#262626" stroke="#262626" stroke-width="0.0" textLength="6.68" lengthAdjust="spacingAndGlyphs">0.0</text>
<text x="353.14" y="93.20" font-size="4.45" text-anchor="middle" fill="#262626" stroke="#262626" stroke-width="0.0" textLength="6.68" lengthAdjust="spacingAndGlyphs">2.5</text>
<text x="371.48" y="93.20" font-size="4.45" text-anchor="middle" fill="#262626" stroke="#262626" stroke-width="0.0" textLength="6.68" lengthAdjust="spacingAndGlyphs">5.0</text>
<text x="389.81" y="93.20" font-size="4.45" text-anchor="middle" fill="#262626" stroke="#262626" stroke-width="0.0" textLength="6.68" lengthAdjust="spacingAndGlyphs">7.5</text>
<text x="408.15" y="93.20" font-size="4.45" text-anchor="middle" fill="#262626" stroke="#262626" stroke-width="0.0" textLength="9.35" lengthAdjust="spacingAndGlyphs">10.0</text>
<text x="426.49" y="93.20" font-size="4.45" text-anchor="middle" fill="#262626" stroke="#262626" stroke-width="0.0" textLength="9.35" lengthAdjust="spacingAndGlyphs">12.5</text>
<text x="444.83" y="93.20" font-size="4.45" text-anchor="middle" fill="#262626" stroke="#262626" stroke-width="0.0" textLength="9.35" lengthAdjust="spacingAndGlyphs">15.0</text>
<text x="463.16" y="93.20" font-size="4.45" text-anchor="middle" fill="#262626" stroke="#262626" stroke-width="0.0" textLength="9.35" lengthAdjust="spacingAndGlyphs">17.5</text>
<text x="481.50" y="93.20" font-size="4.45" text-anchor="middle" fill="#262626" stroke="#262626" stroke-width="0.0" textLength="9.35" lengthAdjust="spacingAndGlyphs">20.0</text>
<text x="409.00" y="98.30" font-size="4.45" text-anchor="middle" fill="#262626" stroke="#262626" stroke-width="0.02" textLength="18.31" lengthAdjust="spacingAndGlyphs">time (yr)</text>
<text x="318.40" y="50.95" font-size="4.62" text-anchor="middle" fill="#262626" stroke="#262626" stroke-width="0.03" textLength="46.70" lengthAdjust="spacingAndGlyphs" transform="rotate(-90 318.40 50.95)">mean melt rate (m/yr)</text>
<text x="336.20" y="81.10" font-size="4.45" text-anchor="start" fill="#262626" stroke="#262626" stroke-width="0.0" textLength="18.56" lengthAdjust="spacingAndGlyphs">log scale</text>
<text x="330.3" y="23.53" font-size="5.0" text-anchor="end" fill="#262626" stroke="#262626" stroke-width="0.05">10<tspan font-size="3.5" dy="-2.0">1</tspan></text>
<text x="330.3" y="44.80" font-size="5.0" text-anchor="end" fill="#262626" stroke="#262626" stroke-width="0.05">10<tspan font-size="3.5" dy="-2.0">0</tspan></text>
<text x="330.3" y="66.07" font-size="5.0" text-anchor="end" fill="#262626" stroke="#262626" stroke-width="0.05">10<tspan font-size="3.5" dy="-2.0">−1</tspan></text>
<text x="330.3" y="87.34" font-size="5.0" text-anchor="end" fill="#262626" stroke="#262626" stroke-width="0.05">10<tspan font-size="3.5" dy="-2.0">−2</tspan></text>
<rect x="25.8" y="145.8" width="214.7" height="101.6" fill="#fff"/>
<line x1="58.10" y1="145.8" x2="58.10" y2="247.4" stroke="#d6d6d6" stroke-width="0.8"/>
<line x1="90.60" y1="145.8" x2="90.60" y2="247.4" stroke="#d6d6d6" stroke-width="0.8"/>
<line x1="123.10" y1="145.8" x2="123.10" y2="247.4" stroke="#d6d6d6" stroke-width="0.8"/>
<line x1="155.60" y1="145.8" x2="155.60" y2="247.4" stroke="#d6d6d6" stroke-width="0.8"/>
<line x1="188.10" y1="145.8" x2="188.10" y2="247.4" stroke="#d6d6d6" stroke-width="0.8"/>
<line x1="220.60" y1="145.8" x2="220.60" y2="247.4" stroke="#d6d6d6" stroke-width="0.8"/>
<line x1="25.8" y1="243.50" x2="240.5" y2="243.50" stroke="#d6d6d6" stroke-width="0.8"/>
<line x1="25.8" y1="224.88" x2="240.5" y2="224.88" stroke="#d6d6d6" stroke-width="0.8"/>
<line x1="25.8" y1="206.26" x2="240.5" y2="206.26" stroke="#d6d6d6" stroke-width="0.8"/>
<line x1="25.8" y1="187.64" x2="240.5" y2="187.64" stroke="#d6d6d6" stroke-width="0.8"/>
<line x1="25.8" y1="169.02" x2="240.5" y2="169.02" stroke="#d6d6d6" stroke-width="0.8"/>
<line x1="25.8" y1="150.40" x2="240.5" y2="150.40" stroke="#d6d6d6" stroke-width="0.8"/>
<clipPath id="cc"><rect x="25.8" y="145.8" width="214.7" height="101.6"/></clipPath>
<g clip-path="url(#cc)" fill="none" stroke-linejoin="round">
<path d="M101.60,237.40 L102.25,238.52 L102.90,239.36 L103.55,239.69 L104.20,239.53 L104.85,239.08 L105.50,238.42 L106.15,237.63 L106.80,236.76 L107.45,235.89 L108.10,235.08 L108.75,234.40 L109.40,233.69 L110.05,232.97 L110.70,232.23 L111.35,231.44 L112.00,230.57 L112.65,229.64 L113.30,228.63 L113.95,227.45 L114.60,226.15 L115.25,224.63 L115.90,223.00 L116.55,221.45 L117.20,219.84 L117.85,218.06 L118.50,216.11 L119.15,214.13 L119.80,212.29 L120.45,209.92 L121.10,207.24 L121.75,204.49 L122.40,200.94 L123.05,197.22 L123.70,193.92 L124.35,190.68 L125.00,188.19 L125.65,186.09 L126.30,182.19 L126.95,180.79 L127.60,178.17 L128.25,174.51 L128.90,172.27 L129.55,171.02 L130.20,168.89 L130.85,165.95 L131.50,163.32 L132.15,160.49 L132.80,159.66 L133.45,158.17 L134.10,156.42 L134.75,156.72 L135.40,155.68 L136.05,153.79 L136.70,154.21 L137.35,155.29 L138.00,155.29 L138.65,155.73 L139.30,156.73 L139.95,153.61 L140.60,154.94 L141.25,156.15 L141.90,154.97 L142.55,155.05 L143.20,154.81 L143.85,157.00 L144.50,154.97 L145.15,153.07 L145.80,154.40 L146.45,156.83 L147.10,154.68 L147.75,154.34 L148.40,154.07 L149.05,153.34 L149.70,155.30 L150.35,154.49 L151.00,154.55 L151.65,152.83 L152.30,154.45 L152.95,155.53 L153.60,155.02 L154.25,152.06 L154.90,152.99 L155.55,152.76 L156.20,152.79 L156.85,154.12 L157.50,155.20 L158.15,155.35 L158.80,154.14 L159.45,153.47 L160.10,155.87 L160.75,154.83 L161.40,154.23 L162.05,153.47 L162.70,154.10 L163.35,156.22 L164.00,155.75 L164.65,153.31 L165.30,152.30 L165.95,153.05 L166.60,153.89 L167.25,154.09 L167.90,153.75 L168.55,153.70 L169.20,153.50 L169.85,154.62 L170.50,153.80 L171.15,153.68 L171.80,153.18 L172.45,152.21 L173.10,150.40 L173.75,151.47 L174.40,153.41 L175.05,156.09 L175.70,154.49 L176.35,154.13 L177.00,154.50 L177.65,155.47 L178.30,151.98 L178.95,153.39 L179.60,155.63 L180.25,155.20 L180.90,154.54 L181.55,153.34 L182.20,151.94 L182.85,151.73 L183.50,153.50 L184.15,152.84 L184.80,152.57 L185.45,151.48 L186.10,152.18 L186.75,152.88 L187.40,154.90 L188.05,154.33 L188.70,153.68 L189.35,151.76 L190.00,153.16 L190.65,154.22 L191.30,153.85 L191.95,153.54 L192.60,154.88 L193.25,154.33 L193.90,151.78 L194.55,151.24 L195.20,154.19 L195.85,154.85 L196.50,155.57 L197.15,154.70 L197.80,152.60 L198.45,152.73 L199.10,153.42 L199.75,153.20 L200.40,153.41 L201.05,154.30 L201.70,155.42 L202.35,154.01 L203.00,153.91 L203.65,154.66 L204.30,154.53 L204.95,154.62 L205.60,153.45 L206.25,152.93 L206.90,154.08 L207.55,153.29 L208.20,152.38 L208.85,151.97 L209.50,152.99 L210.15,155.25 L210.80,152.96 L211.45,153.99 L212.10,152.96 L212.75,152.10 L213.40,151.87 L214.05,152.41 L214.70,152.51 L215.35,152.06 L216.00,153.93 L216.65,153.26 L217.30,153.04 L217.95,152.93 L218.60,150.77 L219.25,151.30 L219.90,151.33 L220.55,153.80 L221.20,153.86 L221.85,152.98 L222.50,153.12 L223.15,153.95 L223.80,153.17 L224.45,152.68 L225.10,152.26 L225.75,153.66 L226.40,152.83 L227.05,154.75 L227.70,154.94 L228.35,154.95 L229.00,154.70 L229.65,152.83 L230.30,152.40 L230.95,153.04 L231.60,152.00" stroke="#a6cee3" stroke-width="1.01" stroke-dasharray="3.33 1.44"/>
<path d="M78.80,239.23 L79.45,239.53 L80.10,239.84 L80.75,240.14 L81.40,240.42 L82.05,240.68 L82.70,240.90 L83.35,241.09 L84.00,241.24 L84.65,241.33 L85.30,241.36 L85.95,241.36 L86.60,241.36 L87.25,241.35 L87.90,241.34 L88.55,241.33 L89.20,241.31 L89.85,241.28 L90.50,241.26 L91.15,241.22 L91.80,241.19 L92.45,241.14 L93.10,241.09 L93.75,241.04 L94.40,240.97 L95.05,240.90 L95.70,240.83 L96.35,240.74 L97.00,240.65 L97.65,239.75 L98.30,237.70 L98.95,235.19 L99.60,232.93 L100.25,231.42 L100.90,230.03 L101.55,228.66 L102.20,227.37 L102.85,226.29 L103.50,225.47 L104.15,224.96 L104.80,224.89 L105.45,225.53 L106.10,226.47 L106.75,227.19 L107.40,227.14 L108.05,226.40 L108.70,225.18 L109.35,223.69 L110.00,222.16 L110.65,220.72 L111.30,219.57 L111.95,218.53 L112.60,217.54 L113.25,216.65 L113.90,215.73 L114.55,214.84 L115.20,213.95 L115.85,213.04 L116.50,212.03 L117.15,211.08 L117.80,210.03 L118.45,208.92 L119.10,207.66 L119.75,206.37 L120.40,205.08 L121.05,203.66 L121.70,202.00 L122.35,200.06 L123.00,197.61 L123.65,193.16 L124.30,187.39 L124.95,181.71 L125.60,177.20 L126.25,173.17 L126.90,169.57 L127.55,166.15 L128.20,162.90 L128.85,160.56 L129.50,159.03 L130.15,157.19 L130.80,155.39 L131.45,154.07 L132.10,153.46 L132.75,152.22 L133.40,152.02 L134.05,152.00 L134.70,151.39 L135.35,151.59 L136.00,151.62 L136.65,151.55 L137.30,151.76 L137.95,151.16 L138.60,150.90 L139.25,151.20 L139.90,150.79 L140.55,151.11 L141.20,150.98 L141.85,151.50 L142.50,151.84 L143.15,151.33 L143.80,151.32 L144.45,151.67 L145.10,151.50 L145.75,151.22 L146.40,151.60 L147.05,151.72 L147.70,151.27 L148.35,151.08 L149.00,151.21 L149.65,150.80 L150.30,150.85 L150.95,151.36 L151.60,151.66 L152.25,151.54 L152.90,151.11 L153.55,150.97 L154.20,151.09 L154.85,151.15 L155.50,151.29 L156.15,151.21 L156.80,151.38 L157.45,151.47 L158.10,151.74 L158.75,151.66 L159.40,151.48 L160.05,151.61 L160.70,151.37 L161.35,151.07 L162.00,150.87 L162.65,150.40 L163.30,151.08 L163.95,151.27 L164.60,150.99 L165.25,151.22 L165.90,151.24 L166.55,151.06 L167.20,151.80 L167.85,151.85 L168.50,151.11 L169.15,151.18 L169.80,150.95 L170.45,151.53 L171.10,151.31 L171.75,150.99 L172.40,151.45 L173.05,150.98 L173.70,150.86 L174.35,151.20 L175.00,151.23 L175.65,151.09 L176.30,151.12 L176.95,151.34 L177.60,151.00 L178.25,150.78 L178.90,150.70 L179.55,151.42 L180.20,151.35 L180.85,151.10 L181.50,151.28 L182.15,151.13 L182.80,151.04 L183.45,151.03 L184.10,151.39 L184.75,151.57 L185.40,151.95 L186.05,151.24 L186.70,150.94 L187.35,151.48 L188.00,151.55 L188.65,151.44 L189.30,151.06 L189.95,151.33 L190.60,151.42 L191.25,151.03 L191.90,151.06 L192.55,151.12 L193.20,151.15 L193.85,150.75 L194.50,151.14 L195.15,151.32 L195.80,151.38 L196.45,151.17 L197.10,151.05 L197.75,151.15 L198.40,150.89 L199.05,150.91 L199.70,150.79 L200.35,151.03 L201.00,151.48 L201.65,151.64 L202.30,151.05 L202.95,151.01 L203.60,151.11 L204.25,151.15 L204.90,151.38 L205.55,151.44 L206.20,151.27 L206.85,150.87 L207.50,151.25 L208.15,151.51 L208.80,151.56" stroke="#1f78b4" stroke-width="1.01"/>
<path d="M59.06,241.91 L59.71,241.90 L60.36,241.91 L61.01,241.91 L61.66,241.90 L62.31,241.90 L62.96,241.90 L63.61,241.90 L64.26,241.90 L64.91,241.90 L65.56,241.89 L66.21,241.89 L66.86,241.89 L67.51,241.89 L68.16,241.88 L68.81,241.88 L69.46,241.87 L70.11,241.87 L70.76,241.87 L71.41,241.86 L72.06,241.86 L72.71,241.85 L73.36,241.84 L74.01,241.84 L74.66,241.83 L75.31,241.82 L75.96,241.82 L76.61,241.81 L77.26,241.80 L77.91,241.79 L78.56,241.78 L79.21,241.77 L79.86,241.76 L80.51,241.75 L81.16,241.74 L81.81,241.73 L82.46,241.72 L83.11,241.71 L83.76,241.70 L84.41,241.68 L85.06,241.67 L85.71,241.66 L86.36,241.64 L87.01,241.63 L87.66,241.61 L88.31,241.60 L88.96,241.58 L89.61,241.56 L90.26,241.54 L90.91,241.53 L91.56,241.51 L92.21,241.45 L92.86,241.33 L93.51,241.14 L94.16,240.90 L94.81,240.60 L95.46,240.27 L96.11,239.90 L96.76,239.49 L97.41,239.06 L98.06,238.62 L98.71,238.15 L99.36,237.69 L100.01,237.24 L100.66,236.77 L101.31,236.32 L101.96,235.78 L102.61,235.16 L103.26,234.50 L103.91,233.77 L104.56,233.03 L105.21,232.21 L105.86,231.53 L106.51,230.90 L107.16,230.37 L107.81,230.07 L108.46,229.82 L109.11,229.86 L109.76,230.09 L110.41,230.31 L111.06,230.68 L111.71,231.01 L112.36,230.97 L113.01,230.05 L113.66,228.59 L114.31,226.96 L114.96,225.52 L115.61,224.46 L116.26,223.47 L116.91,222.41 L117.56,221.21 L118.21,219.57 L118.86,217.39 L119.51,214.35 L120.16,210.74 L120.81,207.41 L121.46,204.91 L122.11,202.19 L122.76,198.44 L123.41,195.57 L124.06,192.53 L124.71,190.93 L125.36,188.54 L126.01,186.27 L126.66,184.29 L127.31,184.32 L127.96,182.89 L128.61,180.70 L129.26,177.88 L129.91,174.69 L130.56,173.94 L131.21,172.13 L131.86,171.34 L132.51,173.52 L133.16,172.65 L133.81,171.65 L134.46,170.87 L135.11,171.79 L135.76,169.20 L136.41,164.98 L137.06,161.22 L137.71,160.42 L138.36,159.85 L139.01,157.87 L139.66,153.84 L140.31,153.21 L140.96,155.38 L141.61,155.35 L142.26,156.23 L142.91,158.15 L143.56,156.91 L144.21,156.24 L144.86,155.50 L145.51,157.27 L146.16,157.10 L146.81,152.15 L147.46,153.03 L148.11,155.99 L148.76,154.87 L149.41,154.57 L150.06,155.86 L150.71,156.97 L151.36,153.26 L152.01,155.39 L152.66,153.32 L153.31,156.00 L153.96,156.61 L154.61,155.08 L155.26,154.90 L155.91,157.69 L156.56,156.87 L157.21,158.30 L157.86,157.56 L158.51,152.61 L159.16,154.56 L159.81,154.48 L160.46,154.39 L161.11,157.47 L161.76,153.98 L162.41,151.34 L163.06,155.98 L163.71,163.12 L164.36,162.87 L165.01,156.42 L165.66,154.01 L166.31,156.63 L166.96,155.31 L167.61,155.26 L168.26,156.96 L168.91,154.30 L169.56,153.53 L170.21,154.21 L170.86,155.35 L171.51,156.09 L172.16,154.94 L172.81,154.95 L173.46,150.40 L174.11,151.37 L174.76,159.06 L175.41,159.99 L176.06,155.87 L176.71,153.67 L177.36,152.37 L178.01,154.21 L178.66,157.73 L179.31,155.65 L179.96,154.16 L180.61,156.39 L181.26,153.61 L181.91,155.09 L182.56,153.27 L183.21,153.32 L183.86,153.14 L184.51,154.89 L185.16,157.00 L185.81,154.86 L186.46,155.09 L187.11,153.60 L187.76,153.38 L188.41,156.67 L189.06,157.51" stroke="#b2df8a" stroke-width="1.01"/>
<path d="M68.85,241.68 L69.50,241.68 L70.15,241.68 L70.80,241.68 L71.45,241.68 L72.10,241.67 L72.75,241.67 L73.40,241.67 L74.05,241.67 L74.70,241.66 L75.35,241.66 L76.00,241.66 L76.65,241.65 L77.30,241.65 L77.95,241.64 L78.60,241.64 L79.25,241.63 L79.90,241.63 L80.55,241.62 L81.20,241.61 L81.85,241.60 L82.50,241.60 L83.15,241.59 L83.80,241.58 L84.45,241.57 L85.10,241.56 L85.75,241.55 L86.40,241.53 L87.05,241.52 L87.70,241.51 L88.35,241.50 L89.00,241.48 L89.65,241.47 L90.30,241.45 L90.95,241.44 L91.60,241.42 L92.25,241.40 L92.90,241.39 L93.55,241.37 L94.20,241.35 L94.85,241.33 L95.50,241.31 L96.15,241.29 L96.80,241.27 L97.45,241.25 L98.10,241.22 L98.75,241.16 L99.40,241.03 L100.05,240.83 L100.70,240.57 L101.35,240.26 L102.00,239.89 L102.65,239.49 L103.30,239.05 L103.95,238.57 L104.60,238.07 L105.25,237.55 L105.90,237.02 L106.55,236.48 L107.20,235.94 L107.85,235.40 L108.50,234.87 L109.15,234.33 L109.80,233.74 L110.45,233.11 L111.10,232.44 L111.75,231.74 L112.40,231.01 L113.05,230.23 L113.70,229.43 L114.35,228.59 L115.00,227.74 L115.65,226.80 L116.30,225.72 L116.95,224.48 L117.60,222.87 L118.25,220.94 L118.90,218.67 L119.55,216.10 L120.20,213.15 L120.85,209.74 L121.50,206.07 L122.15,202.58 L122.80,198.73 L123.45,194.82 L124.10,191.13 L124.75,187.64 L125.40,184.37 L126.05,181.29 L126.70,178.79 L127.35,176.69 L128.00,175.12 L128.65,173.72 L129.30,172.13 L129.95,171.61 L130.60,170.67 L131.25,170.06 L131.90,169.80 L132.55,168.65 L133.20,167.99 L133.85,167.11 L134.50,166.33 L135.15,166.21 L135.80,165.93 L136.45,164.74 L137.10,163.88 L137.75,163.41 L138.40,163.19 L139.05,162.20 L139.70,160.66 L140.35,159.66 L141.00,158.83 L141.65,157.51 L142.30,155.97 L142.95,156.09 L143.60,153.95 L144.25,153.07 L144.90,153.50 L145.55,153.36 L146.20,153.14 L146.85,152.53 L147.50,153.04 L148.15,152.38 L148.80,152.59 L149.45,152.61 L150.10,152.30 L150.75,152.98 L151.40,152.53 L152.05,152.33 L152.70,152.25 L153.35,151.79 L154.00,151.83 L154.65,152.31 L155.30,152.36 L155.95,152.29 L156.60,151.96 L157.25,151.69 L157.90,151.92 L158.55,151.75 L159.20,152.06 L159.85,151.97 L160.50,151.68 L161.15,152.16 L161.80,151.44 L162.45,151.37 L163.10,152.11 L163.75,152.01 L164.40,152.34 L165.05,152.11 L165.70,152.23 L166.35,151.81 L167.00,151.72 L167.65,151.15 L168.30,150.84 L168.95,151.24 L169.60,151.22 L170.25,151.51 L170.90,151.69 L171.55,152.09 L172.20,152.06 L172.85,151.01 L173.50,150.63 L174.15,151.26 L174.80,151.18 L175.45,150.76 L176.10,151.58 L176.75,151.76 L177.40,151.93 L178.05,151.67 L178.70,150.92 L179.35,150.50 L180.00,151.51 L180.65,151.72 L181.30,151.47 L181.95,151.62 L182.60,151.81 L183.25,150.97 L183.90,150.82 L184.55,150.90 L185.20,151.18 L185.85,151.98 L186.50,151.51 L187.15,150.40 L187.80,151.01 L188.45,151.66 L189.10,151.02 L189.75,150.98 L190.40,150.84 L191.05,151.11 L191.70,151.24 L192.35,150.98 L193.00,151.03 L193.65,151.48 L194.30,152.41 L194.95,152.39 L195.60,151.71 L196.25,151.65 L196.90,150.82 L197.55,150.74 L198.20,151.04 L198.85,151.20" stroke="#33a02c" stroke-width="1.01" stroke-dasharray="3.33 1.44"/>
<path d="M58.50,241.77 L59.15,241.77 L59.80,241.77 L60.45,241.77 L61.10,241.77 L61.75,241.77 L62.40,241.76 L63.05,241.76 L63.70,241.75 L64.35,241.75 L65.00,241.74 L65.65,241.74 L66.30,241.73 L66.95,241.72 L67.60,241.71 L68.25,241.70 L68.90,241.69 L69.55,241.68 L70.20,241.67 L70.85,241.66 L71.50,241.65 L72.15,241.63 L72.80,241.62 L73.45,241.60 L74.10,241.59 L74.75,241.57 L75.40,241.56 L76.05,241.54 L76.70,241.52 L77.35,241.50 L78.00,241.48 L78.65,241.46 L79.30,241.44 L79.95,241.42 L80.60,241.39 L81.25,241.37 L81.90,241.34 L82.55,241.32 L83.20,241.29 L83.85,241.26 L84.50,241.24 L85.15,241.21 L85.80,241.18 L86.45,241.15 L87.10,241.12 L87.75,241.08 L88.40,241.05 L89.05,241.02 L89.70,240.98 L90.35,240.95 L91.00,240.91 L91.65,240.86 L92.30,240.79 L92.95,240.70 L93.60,240.59 L94.25,240.46 L94.90,240.31 L95.55,240.14 L96.20,239.94 L96.85,239.72 L97.50,239.49 L98.15,239.23 L98.80,238.95 L99.45,238.66 L100.10,238.34 L100.75,237.99 L101.40,237.63 L102.05,237.25 L102.70,236.85 L103.35,236.43 L104.00,235.95 L104.65,235.09 L105.30,233.91 L105.95,232.56 L106.60,231.19 L107.25,229.90 L107.90,228.89 L108.55,228.19 L109.20,227.68 L109.85,227.23 L110.50,226.77 L111.15,226.24 L111.80,225.64 L112.45,224.81 L113.10,223.77 L113.75,222.53 L114.40,221.21 L115.05,220.01 L115.70,218.66 L116.35,217.38 L117.00,216.22 L117.65,215.08 L118.30,213.75 L118.95,212.32 L119.60,210.72 L120.25,208.68 L120.90,205.95 L121.55,203.09 L122.20,200.20 L122.85,197.88 L123.50,195.46 L124.15,193.68 L124.80,191.45 L125.45,189.21 L126.10,187.46 L126.75,185.58 L127.40,183.91 L128.05,181.81 L128.70,180.77 L129.35,179.27 L130.00,177.08 L130.65,175.42 L131.30,174.01 L131.95,171.54 L132.60,169.42 L133.25,168.23 L133.90,166.86 L134.55,165.03 L135.20,163.29 L135.85,162.89 L136.50,161.21 L137.15,158.43 L137.80,156.42 L138.45,154.42 L139.10,155.03 L139.75,155.17 L140.40,154.30 L141.05,153.38 L141.70,153.76 L142.35,153.26 L143.00,152.84 L143.65,152.70 L144.30,152.65 L144.95,152.25 L145.60,151.41 L146.25,152.19 L146.90,152.78 L147.55,151.07 L148.20,152.11 L148.85,152.06 L149.50,152.84 L150.15,152.24 L150.80,152.31 L151.45,152.11 L152.10,151.73 L152.75,152.35 L153.40,153.00 L154.05,152.20 L154.70,151.70 L155.35,152.03 L156.00,152.58 L156.65,152.49 L157.30,152.70 L157.95,153.29 L158.60,152.49 L159.25,151.43 L159.90,152.40 L160.55,152.36 L161.20,152.20 L161.85,150.86 L162.50,151.19 L163.15,152.10 L163.80,152.06 L164.45,151.99 L165.10,150.78 L165.75,151.81 L166.40,152.17 L167.05,151.23 L167.70,151.72 L168.35,151.69 L169.00,152.04 L169.65,152.59 L170.30,152.14 L170.95,151.67 L171.60,152.34 L172.25,151.92 L172.90,150.88 L173.55,152.29 L174.20,152.53 L174.85,152.17 L175.50,151.27 L176.15,151.33 L176.80,151.55 L177.45,151.93 L178.10,152.95 L178.75,152.33 L179.40,152.23 L180.05,151.80 L180.70,152.31 L181.35,152.16 L182.00,150.40 L182.65,152.35 L183.30,151.49 L183.95,151.20 L184.60,151.38 L185.25,152.72 L185.90,153.99 L186.55,152.35 L187.20,151.80 L187.85,152.82 L188.50,153.31" stroke="#fb9a99" stroke-width="1.01" stroke-dasharray="0.90 1.48"/>
<path d="M68.84,241.78 L69.49,241.78 L70.14,241.78 L70.79,241.78 L71.44,241.78 L72.09,241.78 L72.74,241.77 L73.39,241.77 L74.04,241.77 L74.69,241.77 L75.34,241.76 L75.99,241.76 L76.64,241.75 L77.29,241.75 L77.94,241.74 L78.59,241.74 L79.24,241.73 L79.89,241.73 L80.54,241.72 L81.19,241.71 L81.84,241.71 L82.49,241.70 L83.14,241.69 L83.79,241.68 L84.44,241.67 L85.09,241.66 L85.74,241.65 L86.39,241.64 L87.04,241.63 L87.69,241.62 L88.34,241.60 L88.99,241.59 L89.64,241.58 L90.29,241.56 L90.94,241.55 L91.59,241.53 L92.24,241.52 L92.89,241.50 L93.54,241.48 L94.19,241.47 L94.84,241.45 L95.49,241.43 L96.14,241.41 L96.79,241.39 L97.44,241.37 L98.09,241.35 L98.74,241.32 L99.39,241.26 L100.04,241.19 L100.69,241.09 L101.34,240.97 L101.99,240.83 L102.64,240.67 L103.29,240.49 L103.94,240.29 L104.59,240.08 L105.24,239.84 L105.89,239.59 L106.54,239.32 L107.19,239.03 L107.84,238.73 L108.49,238.41 L109.14,238.01 L109.79,237.45 L110.44,236.72 L111.09,235.85 L111.74,234.86 L112.39,233.80 L113.04,232.67 L113.69,231.50 L114.34,230.28 L114.99,228.88 L115.64,227.28 L116.29,225.51 L116.94,223.51 L117.59,221.12 L118.24,218.49 L118.89,215.99 L119.54,213.70 L120.19,211.47 L120.84,209.03 L121.49,206.36 L122.14,203.22 L122.79,199.17 L123.44,194.46 L124.09,189.56 L124.74,185.14 L125.39,180.30 L126.04,175.65 L126.69,171.37 L127.34,167.93 L127.99,165.78 L128.64,164.30 L129.29,162.50 L129.94,160.51 L130.59,159.22 L131.24,158.45 L131.89,156.77 L132.54,154.98 L133.19,154.77 L133.84,154.71 L134.49,153.67 L135.14,152.99 L135.79,152.71 L136.44,151.95 L137.09,151.75 L137.74,151.71 L138.39,151.83 L139.04,150.87 L139.69,150.92 L140.34,151.50 L140.99,150.80 L141.64,150.98 L142.29,151.23 L142.94,151.70 L143.59,152.04 L144.24,151.61 L144.89,150.97 L145.54,150.84 L146.19,150.80 L146.84,150.90 L147.49,151.18 L148.14,151.81 L148.79,151.81 L149.44,151.24 L150.09,151.21 L150.74,151.67 L151.39,152.05 L152.04,151.87 L152.69,151.90 L153.34,151.54 L153.99,151.80 L154.64,151.38 L155.29,151.23 L155.94,151.06 L156.59,151.09 L157.24,152.20 L157.89,151.97 L158.54,150.75 L159.19,150.57 L159.84,150.78 L160.49,151.15 L161.14,151.13 L161.79,151.56 L162.44,151.93 L163.09,151.46 L163.74,151.28 L164.39,151.18 L165.04,150.95 L165.69,151.98 L166.34,151.28 L166.99,151.05 L167.64,151.77 L168.29,152.01 L168.94,151.96 L169.59,151.30 L170.24,150.70 L170.89,151.07 L171.54,151.24 L172.19,151.34 L172.84,150.99 L173.49,151.46 L174.14,151.74 L174.79,151.44 L175.44,151.01 L176.09,150.90 L176.74,151.24 L177.39,150.73 L178.04,150.73 L178.69,151.84 L179.34,151.57 L179.99,150.87 L180.64,151.17 L181.29,151.29 L181.94,151.27 L182.59,151.32 L183.24,151.18 L183.89,151.27 L184.54,151.24 L185.19,151.89 L185.84,151.58 L186.49,151.35 L187.14,151.34 L187.79,151.06 L188.44,151.42 L189.09,151.46 L189.74,151.33 L190.39,151.80 L191.04,152.09 L191.69,151.87 L192.34,151.68 L192.99,151.45 L193.64,151.08 L194.29,150.86 L194.94,150.75 L195.59,150.40 L196.24,150.87 L196.89,151.04 L197.54,150.46 L198.19,150.95 L198.84,151.40" stroke="#e31a1c" stroke-width="1.01" stroke-dasharray="5.76 1.44 0.90 1.44"/>
<path d="M74.60,241.22 L75.25,241.22 L75.90,241.22 L76.55,241.21 L77.20,241.21 L77.85,241.21 L78.50,241.21 L79.15,241.20 L79.80,241.20 L80.45,241.19 L81.10,241.18 L81.75,241.17 L82.40,241.16 L83.05,241.15 L83.70,241.14 L84.35,241.13 L85.00,241.11 L85.65,241.10 L86.30,241.08 L86.95,241.06 L87.60,241.04 L88.25,241.02 L88.90,240.99 L89.55,240.97 L90.20,240.94 L90.85,240.91 L91.50,240.88 L92.15,240.85 L92.80,240.81 L93.45,240.77 L94.10,240.73 L94.75,240.69 L95.40,240.65 L96.05,240.60 L96.70,240.55 L97.35,240.50 L98.00,240.45 L98.65,240.39 L99.30,240.34 L99.95,240.28 L100.60,240.21 L101.25,240.14 L101.90,240.07 L102.55,239.71 L103.20,238.86 L103.85,237.68 L104.50,236.32 L105.15,234.94 L105.80,233.41 L106.45,231.59 L107.10,229.57 L107.75,227.53 L108.40,225.38 L109.05,223.12 L109.70,220.84 L110.35,218.41 L111.00,215.85 L111.65,213.31 L112.30,211.08 L112.95,209.02 L113.60,207.08 L114.25,205.65 L114.90,205.41 L115.55,206.96 L116.20,209.69 L116.85,212.44 L117.50,213.77 L118.15,214.83 L118.80,215.74 L119.45,216.14 L120.10,215.05 L120.75,212.22 L121.40,208.25 L122.05,203.64 L122.70,199.25 L123.35,195.49 L124.00,192.32 L124.65,189.27 L125.30,186.21 L125.95,183.76 L126.60,181.32 L127.25,178.07 L127.90,175.60 L128.55,171.86 L129.20,167.59 L129.85,164.22 L130.50,160.41 L131.15,157.61 L131.80,156.92 L132.45,155.76 L133.10,154.15 L133.75,153.19 L134.40,153.47 L135.05,153.83 L135.70,153.08 L136.35,152.21 L137.00,151.38 L137.65,151.77 L138.30,151.61 L138.95,151.74 L139.60,152.17 L140.25,151.72 L140.90,152.02 L141.55,152.41 L142.20,151.75 L142.85,151.84 L143.50,152.10 L144.15,151.16 L144.80,151.08 L145.45,151.39 L146.10,152.00 L146.75,151.21 L147.40,150.72 L148.05,151.44 L148.70,151.93 L149.35,151.13 L150.00,150.95 L150.65,151.55 L151.30,150.77 L151.95,150.40 L152.60,151.68 L153.25,151.96 L153.90,152.32 L154.55,151.61 L155.20,151.01 L155.85,152.09 L156.50,152.55 L157.15,152.20 L157.80,151.58 L158.45,151.63 L159.10,152.01 L159.75,151.65 L160.40,152.04 L161.05,151.63 L161.70,151.57 L162.35,151.84 L163.00,152.31 L163.65,152.05 L164.30,152.24 L164.95,152.77 L165.60,152.04 L166.25,151.79 L166.90,151.87 L167.55,152.48 L168.20,152.53 L168.85,152.66 L169.50,153.01 L170.15,152.67 L170.80,152.48 L171.45,152.95 L172.10,153.47 L172.75,153.66 L173.40,153.84 L174.05,152.89 L174.70,153.41 L175.35,153.47 L176.00,153.93 L176.65,153.42 L177.30,153.13 L177.95,153.57 L178.60,154.20 L179.25,153.54 L179.90,154.26 L180.55,154.34 L181.20,154.07 L181.85,154.53 L182.50,154.75 L183.15,154.83 L183.80,154.58 L184.45,154.84 L185.10,155.25 L185.75,155.62 L186.40,155.34 L187.05,154.86 L187.70,154.92 L188.35,155.30 L189.00,155.15 L189.65,156.18 L190.30,156.40 L190.95,156.17 L191.60,156.70 L192.25,156.12 L192.90,156.32 L193.55,157.02 L194.20,156.51 L194.85,156.11 L195.50,157.23 L196.15,157.28 L196.80,157.45 L197.45,158.00 L198.10,158.08 L198.75,158.70 L199.40,159.19 L200.05,158.37 L200.70,159.59 L201.35,159.45 L202.00,159.11 L202.65,159.81 L203.30,160.22 L203.95,160.14 L204.60,160.81" stroke="#fdbf6f" stroke-width="1.01"/>
<path d="M57.19,241.58 L57.84,241.58 L58.49,241.58 L59.14,241.58 L59.79,241.57 L60.44,241.57 L61.09,241.57 L61.74,241.56 L62.39,241.56 L63.04,241.55 L63.69,241.55 L64.34,241.54 L64.99,241.53 L65.64,241.52 L66.29,241.51 L66.94,241.51 L67.59,241.49 L68.24,241.48 L68.89,241.47 L69.54,241.46 L70.19,241.44 L70.84,241.43 L71.49,241.42 L72.14,241.40 L72.79,241.38 L73.44,241.36 L74.09,241.35 L74.74,241.33 L75.39,241.31 L76.04,241.28 L76.69,241.26 L77.34,241.24 L77.99,241.22 L78.64,241.19 L79.29,241.17 L79.94,241.14 L80.59,241.11 L81.24,241.08 L81.89,241.05 L82.54,241.02 L83.19,240.99 L83.84,240.96 L84.49,240.92 L85.14,240.89 L85.79,240.85 L86.44,240.82 L87.09,240.78 L87.74,240.74 L88.39,240.70 L89.04,240.66 L89.69,240.62 L90.34,240.55 L90.99,240.44 L91.64,240.29 L92.29,240.10 L92.94,239.87 L93.59,239.61 L94.24,239.32 L94.89,239.00 L95.54,238.65 L96.19,238.28 L96.84,237.90 L97.49,237.50 L98.14,237.08 L98.79,236.66 L99.44,236.22 L100.09,235.78 L100.74,235.29 L101.39,234.73 L102.04,234.09 L102.69,233.36 L103.34,232.53 L103.99,231.60 L104.64,230.43 L105.29,228.83 L105.94,226.89 L106.59,224.45 L107.24,220.88 L107.89,218.02 L108.54,216.31 L109.19,216.01 L109.84,217.86 L110.49,218.21 L111.14,217.46 L111.79,216.22 L112.44,214.79 L113.09,213.42 L113.74,211.93 L114.39,210.18 L115.04,208.39 L115.69,206.65 L116.34,205.17 L116.99,204.05 L117.64,203.13 L118.29,202.38 L118.94,201.61 L119.59,200.86 L120.24,200.18 L120.89,199.37 L121.54,198.57 L122.19,197.96 L122.84,197.32 L123.49,196.40 L124.14,195.39 L124.79,194.23 L125.44,192.51 L126.09,190.35 L126.74,188.21 L127.39,186.03 L128.04,184.18 L128.69,182.39 L129.34,180.59 L129.99,178.95 L130.64,177.42 L131.29,175.96 L131.94,174.88 L132.59,173.77 L133.24,172.71 L133.89,171.54 L134.54,169.44 L135.19,166.88 L135.84,163.97 L136.49,161.31 L137.14,159.40 L137.79,158.46 L138.44,157.62 L139.09,156.87 L139.74,156.34 L140.39,156.00 L141.04,155.48 L141.69,155.20 L142.34,155.13 L142.99,154.54 L143.64,153.67 L144.29,153.40 L144.94,153.16 L145.59,152.84 L146.24,152.72 L146.89,152.33 L147.54,151.93 L148.19,151.77 L148.84,151.34 L149.49,151.39 L150.14,151.03 L150.79,150.75 L151.44,150.93 L152.09,151.14 L152.74,151.09 L153.39,151.37 L154.04,151.20 L154.69,150.94 L155.34,150.93 L155.99,151.13 L156.64,150.97 L157.29,151.15 L157.94,151.25 L158.59,150.92 L159.24,150.78 L159.89,150.97 L160.54,150.83 L161.19,150.90 L161.84,150.97 L162.49,150.62 L163.14,150.56 L163.79,150.56 L164.44,150.75 L165.09,151.04 L165.74,151.06 L166.39,151.10 L167.04,151.10 L167.69,150.92 L168.34,150.58 L168.99,150.68 L169.64,150.89 L170.29,150.82 L170.94,151.07 L171.59,150.97 L172.24,151.13 L172.89,151.08 L173.54,150.80 L174.19,150.84 L174.84,150.92 L175.49,150.97 L176.14,150.97 L176.79,150.87 L177.44,150.87 L178.09,150.86 L178.74,150.96 L179.39,150.70 L180.04,150.59 L180.69,150.49 L181.34,150.59 L181.99,150.81 L182.64,151.05 L183.29,151.07 L183.94,150.65 L184.59,150.40 L185.24,150.73 L185.89,151.25 L186.54,150.93 L187.19,150.92" stroke="#ff7f00" stroke-width="1.01"/>
<path d="M65.58,241.80 L66.23,241.80 L66.88,241.80 L67.53,241.80 L68.18,241.80 L68.83,241.80 L69.48,241.80 L70.13,241.80 L70.78,241.79 L71.43,241.79 L72.08,241.78 L72.73,241.78 L73.38,241.77 L74.03,241.77 L74.68,241.76 L75.33,241.76 L75.98,241.75 L76.63,241.74 L77.28,241.73 L77.93,241.72 L78.58,241.71 L79.23,241.70 L79.88,241.69 L80.53,241.68 L81.18,241.67 L81.83,241.66 L82.48,241.64 L83.13,241.63 L83.78,241.61 L84.43,241.60 L85.08,241.58 L85.73,241.57 L86.38,241.55 L87.03,241.53 L87.68,241.51 L88.33,241.49 L88.98,241.47 L89.63,241.45 L90.28,241.43 L90.93,241.40 L91.58,241.38 L92.23,241.34 L92.88,241.26 L93.53,241.15 L94.18,241.00 L94.83,240.83 L95.48,240.63 L96.13,240.40 L96.78,240.15 L97.43,239.87 L98.08,239.58 L98.73,239.26 L99.38,238.81 L100.03,238.15 L100.68,237.36 L101.33,236.49 L101.98,235.63 L102.63,234.85 L103.28,234.15 L103.93,233.48 L104.58,232.82 L105.23,232.16 L105.88,231.49 L106.53,230.82 L107.18,230.09 L107.83,229.33 L108.48,228.51 L109.13,227.60 L109.78,226.59 L110.43,225.51 L111.08,224.49 L111.73,223.52 L112.38,222.55 L113.03,221.61 L113.68,220.64 L114.33,219.57 L114.98,218.48 L115.63,217.21 L116.28,215.73 L116.93,213.98 L117.58,212.27 L118.23,210.45 L118.88,208.71 L119.53,206.81 L120.18,205.02 L120.83,203.18 L121.48,201.25 L122.13,199.46 L122.78,197.80 L123.43,196.07 L124.08,194.06 L124.73,192.17 L125.38,190.34 L126.03,188.39 L126.68,186.37 L127.33,184.26 L127.98,181.81 L128.63,179.84 L129.28,178.58 L129.93,177.04 L130.58,176.02 L131.23,175.17 L131.88,173.70 L132.53,171.91 L133.18,168.86 L133.83,165.75 L134.48,162.56 L135.13,160.27 L135.78,158.88 L136.43,158.10 L137.08,157.16 L137.73,155.37 L138.38,155.41 L139.03,154.99 L139.68,154.11 L140.33,153.48 L140.98,153.35 L141.63,152.80 L142.28,152.46 L142.93,152.31 L143.58,152.50 L144.23,152.07 L144.88,152.16 L145.53,152.04 L146.18,151.76 L146.83,152.38 L147.48,152.49 L148.13,151.97 L148.78,152.04 L149.43,152.02 L150.08,151.49 L150.73,151.12 L151.38,151.79 L152.03,151.82 L152.68,151.75 L153.33,151.44 L153.98,152.04 L154.63,152.36 L155.28,152.15 L155.93,151.47 L156.58,151.82 L157.23,152.46 L157.88,151.87 L158.53,151.29 L159.18,151.58 L159.83,152.23 L160.48,151.65 L161.13,151.45 L161.78,151.90 L162.43,151.87 L163.08,152.04 L163.73,152.04 L164.38,151.49 L165.03,151.71 L165.68,152.02 L166.33,151.28 L166.98,151.08 L167.63,151.24 L168.28,151.25 L168.93,151.41 L169.58,151.13 L170.23,151.37 L170.88,150.86 L171.53,151.73 L172.18,151.85 L172.83,151.81 L173.48,151.65 L174.13,151.71 L174.78,151.70 L175.43,151.37 L176.08,150.97 L176.73,151.12 L177.38,151.25 L178.03,151.11 L178.68,151.91 L179.33,151.93 L179.98,151.63 L180.63,151.42 L181.28,152.16 L181.93,151.58 L182.58,150.54 L183.23,150.45 L183.88,151.13 L184.53,151.85 L185.18,151.15 L185.83,151.00 L186.48,151.59 L187.13,151.95 L187.78,151.76 L188.43,152.15 L189.08,151.33 L189.73,150.40 L190.38,151.34 L191.03,152.11 L191.68,151.75 L192.33,151.25 L192.98,151.40 L193.63,151.22 L194.28,151.57 L194.93,151.32 L195.58,151.41" stroke="#cab2d6" stroke-width="1.01"/>
<path d="M88.13,241.50 L88.78,241.50 L89.43,241.50 L90.08,241.50 L90.73,241.50 L91.38,241.50 L92.03,241.50 L92.68,241.50 L93.33,241.50 L93.98,241.50 L94.63,241.50 L95.28,241.50 L95.93,241.50 L96.58,241.50 L97.23,241.50 L97.88,241.50 L98.53,241.50 L99.18,241.50 L99.83,241.50 L100.48,241.50 L101.13,241.50 L101.78,241.50 L102.43,241.50 L103.08,241.50 L103.73,241.50 L104.38,241.50 L105.03,241.50 L105.68,241.50 L106.33,241.50 L106.98,241.50 L107.63,241.50 L108.28,241.45 L108.93,241.29 L109.58,241.03 L110.23,240.69 L110.88,240.28 L111.53,239.81 L112.18,239.24 L112.83,238.12 L113.48,236.48 L114.13,234.49 L114.78,232.27 L115.43,229.87 L116.08,226.74 L116.73,222.84 L117.38,219.18 L118.03,216.32 L118.68,214.69 L119.33,213.76 L119.98,211.63 L120.63,209.04 L121.28,206.35 L121.93,203.54 L122.58,200.02 L123.23,196.16 L123.88,193.07 L124.53,186.39 L125.18,178.92 L125.83,175.65 L126.48,176.71 L127.13,178.05 L127.78,177.79 L128.43,177.28 L129.08,173.61 L129.73,166.16 L130.38,159.70 L131.03,159.82 L131.68,159.75 L132.33,158.79 L132.98,156.27 L133.63,154.40 L134.28,157.33 L134.93,154.98 L135.58,157.58 L136.23,157.44 L136.88,156.08 L137.53,153.09 L138.18,152.47 L138.83,151.32 L139.48,157.75 L140.13,156.42 L140.78,153.71 L141.43,154.55 L142.08,157.53 L142.73,157.36 L143.38,152.49 L144.03,154.12 L144.68,155.32 L145.33,155.90 L145.98,154.98 L146.63,156.46 L147.28,155.72 L147.93,154.87 L148.58,154.07 L149.23,156.82 L149.88,155.39 L150.53,153.83 L151.18,155.52 L151.83,156.15 L152.48,155.51 L153.13,155.01 L153.78,156.67 L154.43,153.53 L155.08,152.47 L155.73,156.17 L156.38,158.49 L157.03,158.02 L157.68,157.07 L158.33,159.64 L158.98,159.54 L159.63,158.52 L160.28,157.38 L160.93,156.26 L161.58,157.41 L162.23,154.59 L162.88,157.61 L163.53,155.77 L164.18,155.30 L164.83,155.62 L165.48,156.33 L166.13,160.20 L166.78,160.50 L167.43,158.49 L168.08,159.94 L168.73,156.90 L169.38,155.48 L170.03,157.66 L170.68,158.78 L171.33,158.94 L171.98,157.53 L172.63,158.58 L173.28,159.23 L173.93,157.45 L174.58,158.54 L175.23,157.08 L175.88,156.94 L176.53,154.79 L177.18,155.75 L177.83,157.21 L178.48,156.95 L179.13,155.30 L179.78,154.09 L180.43,155.38 L181.08,156.68 L181.73,155.37 L182.38,156.12 L183.03,159.35 L183.68,157.16 L184.33,157.53 L184.98,155.55 L185.63,158.15 L186.28,158.38 L186.93,158.99 L187.58,156.60 L188.23,154.64 L188.88,155.76 L189.53,159.68 L190.18,154.72 L190.83,150.40 L191.48,155.87 L192.13,156.92 L192.78,158.79 L193.43,160.18 L194.08,154.71 L194.73,158.34 L195.38,158.65 L196.03,156.10 L196.68,159.26 L197.33,158.58 L197.98,156.26 L198.63,157.18 L199.28,158.22 L199.93,158.69 L200.58,160.77 L201.23,158.96 L201.88,154.95 L202.53,155.05 L203.18,156.49 L203.83,157.23 L204.48,158.22 L205.13,158.49 L205.78,157.49 L206.43,155.24 L207.08,158.06 L207.73,156.88 L208.38,158.70 L209.03,158.09 L209.68,154.82 L210.33,158.77 L210.98,158.64 L211.63,158.12 L212.28,158.92 L212.93,158.31 L213.58,158.58 L214.23,156.63 L214.88,158.62 L215.53,158.82 L216.18,155.78 L216.83,158.18 L217.48,158.98 L218.13,156.63" stroke="#6a3d9a" stroke-width="1.01" stroke-dasharray="3.33 1.44"/>
<path d="M70.08,241.66 L70.73,241.66 L71.38,241.66 L72.03,241.65 L72.68,241.65 L73.33,241.65 L73.98,241.65 L74.63,241.64 L75.28,241.64 L75.93,241.63 L76.58,241.62 L77.23,241.62 L77.88,241.61 L78.53,241.60 L79.18,241.59 L79.83,241.58 L80.48,241.56 L81.13,241.55 L81.78,241.54 L82.43,241.52 L83.08,241.51 L83.73,241.49 L84.38,241.47 L85.03,241.45 L85.68,241.43 L86.33,241.41 L86.98,241.39 L87.63,241.37 L88.28,241.34 L88.93,241.32 L89.58,241.29 L90.23,241.26 L90.88,241.23 L91.53,241.20 L92.18,241.17 L92.83,241.14 L93.48,241.11 L94.13,241.07 L94.78,241.03 L95.43,241.00 L96.08,240.96 L96.73,240.91 L97.38,240.87 L98.03,240.83 L98.68,240.78 L99.33,240.74 L99.98,240.63 L100.63,240.41 L101.28,240.09 L101.93,239.69 L102.58,239.23 L103.23,238.70 L103.88,238.14 L104.53,237.55 L105.18,236.95 L105.83,236.35 L106.48,235.76 L107.13,235.21 L107.78,234.69 L108.43,234.20 L109.08,233.72 L109.73,233.20 L110.38,232.63 L111.03,231.99 L111.68,231.23 L112.33,230.36 L112.98,229.21 L113.63,227.24 L114.28,224.80 L114.93,222.41 L115.58,220.51 L116.23,218.97 L116.88,217.58 L117.53,215.92 L118.18,214.09 L118.83,212.27 L119.48,210.31 L120.13,208.29 L120.78,206.10 L121.43,203.80 L122.08,201.29 L122.73,198.64 L123.38,195.70 L124.03,191.78 L124.68,187.36 L125.33,183.64 L125.98,181.04 L126.63,178.62 L127.28,176.42 L127.93,175.07 L128.58,174.58 L129.23,173.64 L129.88,173.20 L130.53,172.58 L131.18,172.37 L131.83,171.99 L132.48,171.55 L133.13,171.22 L133.78,170.20 L134.43,169.89 L135.08,169.51 L135.73,168.48 L136.38,167.98 L137.03,167.36 L137.68,166.58 L138.33,164.86 L138.98,163.36 L139.63,161.91 L140.28,160.17 L140.93,157.99 L141.58,156.57 L142.23,155.67 L142.88,154.94 L143.53,154.51 L144.18,153.51 L144.83,152.80 L145.48,151.84 L146.13,150.93 L146.78,151.49 L147.43,151.38 L148.08,151.24 L148.73,151.60 L149.38,151.07 L150.03,151.16 L150.68,151.52 L151.33,151.57 L151.98,151.58 L152.63,151.38 L153.28,151.23 L153.93,150.66 L154.58,151.15 L155.23,151.62 L155.88,151.41 L156.53,150.45 L157.18,150.82 L157.83,151.13 L158.48,151.21 L159.13,151.33 L159.78,151.13 L160.43,150.68 L161.08,151.48 L161.73,151.86 L162.38,151.94 L163.03,152.00 L163.68,150.97 L164.33,150.77 L164.98,150.40 L165.63,150.78 L166.28,151.47 L166.93,151.00 L167.58,150.86 L168.23,151.14 L168.88,151.33 L169.53,150.97 L170.18,150.92 L170.83,150.89 L171.48,151.36 L172.13,151.47 L172.78,151.53 L173.43,151.56 L174.08,151.61 L174.73,151.33 L175.38,151.08 L176.03,150.95 L176.68,150.72 L177.33,150.87 L177.98,151.31 L178.63,151.58 L179.28,150.94 L179.93,151.17 L180.58,151.91 L181.23,151.83 L181.88,151.79 L182.53,151.69 L183.18,151.57 L183.83,151.55 L184.48,151.41 L185.13,151.72 L185.78,151.45 L186.43,151.64 L187.08,151.45 L187.73,151.00 L188.38,151.23 L189.03,151.21 L189.68,151.31 L190.33,151.00 L190.98,151.16 L191.63,151.67 L192.28,151.74 L192.93,150.96 L193.58,151.08 L194.23,151.23 L194.88,151.23 L195.53,151.26 L196.18,151.44 L196.83,151.65 L197.48,151.29 L198.13,151.33 L198.78,151.68 L199.43,151.32 L200.08,150.65" stroke="#ffff99" stroke-width="1.01"/>
<path d="M36.94,200.08 L37.59,238.24 L38.24,240.58 L38.89,240.90 L39.54,241.15 L40.19,241.32 L40.84,241.45 L41.49,241.54 L42.14,241.61 L42.79,241.68 L43.44,241.76 L44.09,241.86 L44.74,241.95 L45.39,242.04 L46.04,242.13 L46.69,242.21 L47.34,242.28 L47.99,242.33 L48.64,242.38 L49.29,242.40 L49.94,242.41 L50.59,242.41 L51.24,242.38 L51.89,242.35 L52.54,242.30 L53.19,242.24 L53.84,242.17 L54.49,242.09 L55.14,242.01 L55.79,241.92 L56.44,241.82 L57.09,241.73 L57.74,241.63 L58.39,241.53 L59.04,241.43 L59.69,241.33 L60.34,241.23 L60.99,241.12 L61.64,241.01 L62.29,240.90 L62.94,240.77 L63.59,240.64 L64.24,240.51 L64.89,240.36 L65.54,240.21 L66.19,240.06 L66.84,239.89 L67.49,239.72 L68.14,239.54 L68.79,239.35 L69.44,239.16 L70.09,238.94 L70.74,238.70 L71.39,238.44 L72.04,238.15 L72.69,237.84 L73.34,237.52 L73.99,237.19 L74.64,236.84 L75.29,236.50 L75.94,236.15 L76.59,235.79 L77.24,235.45 L77.89,235.11 L78.54,234.77 L79.19,234.40 L79.84,234.04 L80.49,233.66 L81.14,233.29 L81.79,232.90 L82.44,232.51 L83.09,232.15 L83.74,231.74 L84.39,231.34 L85.04,230.96 L85.69,230.58 L86.34,230.19 L86.99,229.79 L87.64,229.43 L88.29,229.02 L88.94,228.65 L89.59,228.27 L90.24,227.94 L90.89,227.66 L91.54,227.33 L92.19,226.98 L92.84,226.58 L93.49,226.05 L94.14,225.49 L94.79,224.85 L95.44,224.19 L96.09,223.49 L96.74,222.84 L97.39,222.24 L98.04,221.68 L98.69,221.11 L99.34,220.69 L99.99,220.19 L100.64,219.59 L101.29,219.11 L101.94,218.51 L102.59,217.83 L103.24,217.35 L103.89,216.75 L104.54,216.02 L105.19,215.31 L105.84,214.62 L106.49,213.85 L107.14,213.23 L107.79,212.64 L108.44,211.92 L109.09,211.28 L109.74,210.76 L110.39,210.15 L111.04,209.54 L111.69,209.18 L112.34,208.86 L112.99,208.42 L113.64,208.04 L114.29,207.71 L114.94,207.33 L115.59,206.92 L116.24,206.75 L116.89,206.29 L117.54,205.84 L118.19,205.49 L118.84,204.69 L119.49,203.89 L120.14,203.12 L120.79,201.86 L121.44,200.45 L122.09,199.22 L122.74,197.87 L123.39,196.22 L124.04,194.42 L124.69,192.81 L125.34,191.22 L125.99,189.50 L126.64,188.56 L127.29,187.40 L127.94,186.14 L128.59,185.24 L129.24,184.62 L129.89,183.55 L130.54,182.95 L131.19,183.27 L131.84,182.69 L132.49,182.11 L133.14,182.19 L133.79,182.36 L134.44,181.89 L135.09,181.92 L135.74,181.39 L136.39,181.52 L137.04,181.16 L137.69,180.27 L138.34,179.64 L138.99,178.58 L139.64,177.05 L140.29,176.36 L140.94,175.02 L141.59,174.61 L142.24,173.90 L142.89,172.51 L143.54,170.98 L144.19,169.41 L144.84,168.21 L145.49,167.75 L146.14,166.96 L146.79,165.99 L147.44,164.41 L148.09,163.82 L148.74,163.17 L149.39,160.90 L150.04,159.96 L150.69,159.54 L151.34,160.10 L151.99,159.09 L152.64,158.87 L153.29,158.85 L153.94,158.17 L154.59,157.37 L155.24,156.22 L155.89,155.57 L156.54,155.15 L157.19,155.85 L157.84,155.45 L158.49,154.15 L159.14,153.70 L159.79,153.00 L160.44,152.82 L161.09,153.01 L161.74,152.44 L162.39,152.71 L163.04,151.60 L163.69,151.22 L164.34,151.24 L164.99,151.23 L165.64,151.61 L166.29,150.70 L166.94,150.40" stroke="#b15928" stroke-width="1.01"/>
</g>
<rect x="25.8" y="145.8" width="214.7" height="101.6" fill="none" stroke="#8a8a8a" stroke-width="0.9"/>
<line x1="58.10" y1="247.4" x2="58.10" y2="249.0" stroke="#555555" stroke-width="0.7"/>
<line x1="90.60" y1="247.4" x2="90.60" y2="249.0" stroke="#555555" stroke-width="0.7"/>
<line x1="123.10" y1="247.4" x2="123.10" y2="249.0" stroke="#555555" stroke-width="0.7"/>
<line x1="155.60" y1="247.4" x2="155.60" y2="249.0" stroke="#555555" stroke-width="0.7"/>
<line x1="188.10" y1="247.4" x2="188.10" y2="249.0" stroke="#555555" stroke-width="0.7"/>
<line x1="220.60" y1="247.4" x2="220.60" y2="249.0" stroke="#555555" stroke-width="0.7"/>
<line x1="24.2" y1="243.50" x2="25.8" y2="243.50" stroke="#555555" stroke-width="0.7"/>
<line x1="24.2" y1="224.88" x2="25.8" y2="224.88" stroke="#555555" stroke-width="0.7"/>
<line x1="24.2" y1="206.26" x2="25.8" y2="206.26" stroke="#555555" stroke-width="0.7"/>
<line x1="24.2" y1="187.64" x2="25.8" y2="187.64" stroke="#555555" stroke-width="0.7"/>
<line x1="24.2" y1="169.02" x2="25.8" y2="169.02" stroke="#555555" stroke-width="0.7"/>
<line x1="24.2" y1="150.40" x2="25.8" y2="150.40" stroke="#555555" stroke-width="0.7"/>
<text x="58.10" y="255.40" font-size="6.89" text-anchor="middle" fill="#262626" stroke="#262626" stroke-width="0.15" textLength="13.72" lengthAdjust="spacingAndGlyphs">−10</text>
<text x="90.60" y="255.40" font-size="6.89" text-anchor="middle" fill="#262626" stroke="#262626" stroke-width="0.15" textLength="9.58" lengthAdjust="spacingAndGlyphs">−5</text>
<text x="123.10" y="255.40" font-size="6.89" text-anchor="middle" fill="#262626" stroke="#262626" stroke-width="0.15" textLength="4.14" lengthAdjust="spacingAndGlyphs">0</text>
<text x="155.60" y="255.40" font-size="6.89" text-anchor="middle" fill="#262626" stroke="#262626" stroke-width="0.15" textLength="4.14" lengthAdjust="spacingAndGlyphs">5</text>
<text x="188.10" y="255.40" font-size="6.89" text-anchor="middle" fill="#262626" stroke="#262626" stroke-width="0.15" textLength="8.27" lengthAdjust="spacingAndGlyphs">10</text>
<text x="220.60" y="255.40" font-size="6.89" text-anchor="middle" fill="#262626" stroke="#262626" stroke-width="0.15" textLength="8.27" lengthAdjust="spacingAndGlyphs">15</text>
<text x="22.90" y="245.90" font-size="6.89" text-anchor="end" fill="#262626" stroke="#262626" stroke-width="0.15" textLength="10.34" lengthAdjust="spacingAndGlyphs">0.0</text>
<text x="22.90" y="227.28" font-size="6.89" text-anchor="end" fill="#262626" stroke="#262626" stroke-width="0.15" textLength="10.34" lengthAdjust="spacingAndGlyphs">0.2</text>
<text x="22.90" y="208.66" font-size="6.89" text-anchor="end" fill="#262626" stroke="#262626" stroke-width="0.15" textLength="10.34" lengthAdjust="spacingAndGlyphs">0.4</text>
<text x="22.90" y="190.04" font-size="6.89" text-anchor="end" fill="#262626" stroke="#262626" stroke-width="0.15" textLength="10.34" lengthAdjust="spacingAndGlyphs">0.6</text>
<text x="22.90" y="171.42" font-size="6.89" text-anchor="end" fill="#262626" stroke="#262626" stroke-width="0.15" textLength="10.34" lengthAdjust="spacingAndGlyphs">0.8</text>
<text x="22.90" y="152.80" font-size="6.89" text-anchor="end" fill="#262626" stroke="#262626" stroke-width="0.15" textLength="10.34" lengthAdjust="spacingAndGlyphs">1.0</text>
<text x="133.20" y="262.90" font-size="6.90" text-anchor="middle" fill="#262626" stroke="#262626" stroke-width="0.05" textLength="127.27" lengthAdjust="spacingAndGlyphs">time since the half-maximum melt rate (yr)</text>
<text x="10.30" y="196.60" font-size="6.90" text-anchor="middle" fill="#262626" stroke="#262626" stroke-width="0.05" textLength="79.85" lengthAdjust="spacingAndGlyphs" transform="rotate(-90 10.30 196.60)">normalised mean melt rate</text>
<text x="29.20" y="143.20" font-size="8.65" text-anchor="start" font-weight="bold" fill="#262626" stroke="#262626" stroke-width="0.55" textLength="3.88" lengthAdjust="spacingAndGlyphs">c</text>
<text x="36.90" y="143.20" font-size="7.73" text-anchor="start" fill="#262626" stroke="#262626" stroke-width="0.14" textLength="158.74" lengthAdjust="spacingAndGlyphs">Ocean1 Normalised and Shifted Mean Melt Rate</text>
<rect x="272.6" y="145.8" width="215.5" height="101.6" fill="#fff"/>
<line x1="313.40" y1="145.8" x2="313.40" y2="247.4" stroke="#d6d6d6" stroke-width="0.8"/>
<line x1="354.30" y1="145.8" x2="354.30" y2="247.4" stroke="#d6d6d6" stroke-width="0.8"/>
<line x1="395.20" y1="145.8" x2="395.20" y2="247.4" stroke="#d6d6d6" stroke-width="0.8"/>
<line x1="436.10" y1="145.8" x2="436.10" y2="247.4" stroke="#d6d6d6" stroke-width="0.8"/>
<line x1="477.00" y1="145.8" x2="477.00" y2="247.4" stroke="#d6d6d6" stroke-width="0.8"/>
<line x1="272.6" y1="243.50" x2="488.1" y2="243.50" stroke="#d6d6d6" stroke-width="0.8"/>
<line x1="272.6" y1="224.88" x2="488.1" y2="224.88" stroke="#d6d6d6" stroke-width="0.8"/>
<line x1="272.6" y1="206.26" x2="488.1" y2="206.26" stroke="#d6d6d6" stroke-width="0.8"/>
<line x1="272.6" y1="187.64" x2="488.1" y2="187.64" stroke="#d6d6d6" stroke-width="0.8"/>
<line x1="272.6" y1="169.02" x2="488.1" y2="169.02" stroke="#d6d6d6" stroke-width="0.8"/>
<line x1="272.6" y1="150.40" x2="488.1" y2="150.40" stroke="#d6d6d6" stroke-width="0.8"/>
<clipPath id="cd"><rect x="272.6" y="145.8" width="215.5" height="101.6"/></clipPath>
<g clip-path="url(#cd)" fill="none" stroke-linejoin="round">
<path d="M303.16,150.40 L303.97,151.55 L304.79,153.14 L305.61,155.06 L306.43,157.26 L307.25,159.86 L308.06,162.86 L308.88,166.27 L309.70,170.08 L310.52,174.58 L311.34,180.96 L312.15,187.93 L312.97,194.27 L313.79,199.40 L314.61,203.96 L315.43,207.81 L316.24,211.06 L317.06,213.93 L317.88,216.41 L318.70,218.51 L319.52,220.22 L320.33,221.67 L321.15,222.96 L321.97,224.11 L322.79,225.15 L323.61,226.08 L324.42,226.91 L325.24,227.67 L326.06,228.35 L326.88,228.97 L327.70,229.53 L328.51,230.05 L329.33,230.54 L330.15,231.00 L330.97,231.43 L331.79,231.83 L332.60,232.21 L333.42,232.56 L334.24,232.90 L335.06,233.21 L335.88,233.51 L336.69,233.79 L337.51,234.06 L338.33,234.31 L339.15,234.55 L339.97,234.77 L340.78,234.99 L341.60,235.19 L342.42,235.38 L343.24,235.57 L344.06,235.74 L344.87,235.90 L345.69,236.04 L346.51,236.19 L347.33,236.42 L348.15,236.49 L348.96,236.47 L349.78,236.84 L350.60,236.84 L351.42,237.06 L352.24,237.19 L353.05,237.17 L353.87,237.18 L354.69,237.30 L355.51,237.43 L356.33,237.45 L357.14,237.95 L357.96,237.64 L358.78,237.80 L359.60,238.00 L360.42,238.05 L361.23,238.31 L362.05,237.99 L362.87,238.47 L363.69,238.71 L364.51,238.50 L365.32,238.72 L366.14,238.70 L366.96,238.41 L367.78,238.89 L368.60,238.92 L369.41,238.46 L370.23,239.45 L371.05,239.11 L371.87,238.98 L372.69,238.96 L373.50,238.81 L374.32,239.65 L375.14,239.39 L375.96,239.63 L376.78,239.78 L377.59,239.89 L378.41,240.11 L379.23,239.71 L380.05,239.65 L380.87,240.15 L381.68,239.74 L382.50,240.11 L383.32,240.26 L384.14,240.64 L384.96,239.84 L385.77,239.98 L386.59,240.26 L387.41,240.32 L388.23,240.54 L389.05,240.18 L389.86,240.35 L390.68,240.24 L391.50,240.35 L392.32,240.71 L393.14,240.76 L393.95,240.38 L394.77,240.82 L395.59,240.45 L396.41,240.33 L397.23,240.79 L398.04,240.41 L398.86,240.55 L399.68,240.46 L400.50,240.70 L401.32,240.57 L402.13,240.48 L402.95,240.17 L403.77,240.41 L404.59,240.46 L405.41,240.82 L406.22,240.50 L407.04,240.70 L407.86,240.58 L408.68,240.51 L409.50,240.36 L410.31,240.44 L411.13,240.52 L411.95,240.57 L412.77,240.27 L413.59,240.74 L414.40,240.55 L415.22,240.27 L416.04,240.60 L416.86,240.39 L417.68,240.37 L418.49,240.13 L419.31,240.32 L420.13,240.88 L420.95,240.56 L421.77,240.50 L422.58,240.39 L423.40,240.48 L424.22,240.15 L425.04,240.33 L425.86,240.80 L426.67,240.69 L427.49,240.96 L428.31,240.19 L429.13,240.59 L429.95,240.60 L430.76,240.88 L431.58,240.66 L432.40,240.49 L433.22,240.66 L434.04,240.66 L434.85,240.70 L435.67,240.15 L436.49,240.69 L437.31,240.86 L438.13,240.69 L438.94,240.65 L439.76,240.60 L440.58,240.64 L441.40,240.81 L442.22,240.63 L443.03,240.51 L443.85,240.86 L444.67,240.16 L445.49,240.22 L446.31,240.94 L447.12,240.66 L447.94,240.38 L448.76,240.30 L449.58,240.20 L450.40,240.94 L451.21,240.81 L452.03,240.69 L452.85,240.48 L453.67,240.80 L454.49,240.50 L455.30,240.50 L456.12,240.44 L456.94,240.84 L457.76,240.55 L458.58,240.57 L459.39,240.67 L460.21,240.31 L461.03,240.64 L461.85,240.27 L462.67,240.70 L463.48,240.21 L464.30,240.22 L465.12,240.74 L465.94,240.51 L466.76,240.51" stroke="#a6cee3" stroke-width="1.01" stroke-dasharray="3.33 1.44"/>
<path d="M308.09,150.40 L308.90,157.80 L309.72,161.76 L310.54,163.87 L311.36,164.95 L312.18,173.45 L312.99,189.52 L313.81,204.45 L314.63,218.85 L315.45,228.31 L316.27,234.19 L317.08,237.60 L317.90,238.74 L318.72,239.28 L319.54,239.64 L320.36,239.87 L321.17,240.01 L321.99,240.11 L322.81,240.20 L323.63,240.27 L324.45,240.33 L325.26,240.37 L326.08,240.39 L326.90,240.36 L327.72,240.07 L328.54,239.54 L329.35,238.84 L330.17,237.44 L330.99,235.52 L331.81,235.27 L332.63,236.18 L333.44,237.30 L334.26,238.15 L335.08,238.53 L335.90,238.79 L336.72,239.00 L337.53,239.18 L338.35,239.33 L339.17,239.45 L339.99,239.55 L340.81,239.62 L341.62,239.68 L342.44,239.73 L343.26,239.77 L344.08,239.80 L344.90,239.83 L345.71,239.86 L346.53,239.89 L347.35,239.93 L348.17,239.96 L348.99,240.01 L349.80,240.06 L350.62,240.12 L351.44,240.18 L352.26,240.23 L353.08,240.31 L353.89,240.39 L354.71,240.45 L355.53,240.52 L356.35,240.59 L357.17,240.65 L357.98,240.71 L358.80,240.83 L359.62,240.89 L360.44,240.99 L361.26,241.01 L362.07,241.07 L362.89,241.16 L363.71,241.23 L364.53,241.29 L365.35,241.36 L366.16,241.36 L366.98,241.38 L367.80,241.51 L368.62,241.48 L369.44,241.57 L370.25,241.64 L371.07,241.62 L371.89,241.66 L372.71,241.71 L373.53,241.76 L374.34,241.74 L375.16,241.84 L375.98,241.85 L376.80,241.88 L377.62,241.97 L378.43,242.03 L379.25,242.06 L380.07,242.05 L380.89,242.06 L381.71,242.16 L382.52,242.15 L383.34,242.11 L384.16,242.24 L384.98,242.20 L385.80,242.22 L386.61,242.24 L387.43,242.32 L388.25,242.29 L389.07,242.36 L389.89,242.30 L390.70,242.38 L391.52,242.36 L392.34,242.41 L393.16,242.39 L393.98,242.45 L394.79,242.41 L395.61,242.41 L396.43,242.44 L397.25,242.40 L398.07,242.44 L398.88,242.43 L399.70,242.44 L400.52,242.41 L401.34,242.48 L402.16,242.47 L402.97,242.47 L403.79,242.46 L404.61,242.47 L405.43,242.46 L406.25,242.48 L407.06,242.50 L407.88,242.49 L408.70,242.48 L409.52,242.55 L410.34,242.46 L411.15,242.51 L411.97,242.51 L412.79,242.50 L413.61,242.52 L414.43,242.55 L415.24,242.52 L416.06,242.49 L416.88,242.50 L417.70,242.49 L418.52,242.54 L419.33,242.53 L420.15,242.51 L420.97,242.50 L421.79,242.53 L422.61,242.56 L423.42,242.58 L424.24,242.51 L425.06,242.58 L425.88,242.54 L426.70,242.53 L427.51,242.47 L428.33,242.55 L429.15,242.56 L429.97,242.54 L430.79,242.55 L431.60,242.53 L432.42,242.54 L433.24,242.58 L434.06,242.61 L434.88,242.56 L435.69,242.58 L436.51,242.54 L437.33,242.60 L438.15,242.57 L438.97,242.59 L439.78,242.59 L440.60,242.54 L441.42,242.57 L442.24,242.58 L443.06,242.56 L443.87,242.60 L444.69,242.59 L445.51,242.60 L446.33,242.54 L447.15,242.58 L447.96,242.57 L448.78,242.56 L449.60,242.59 L450.42,242.59 L451.24,242.62 L452.05,242.58 L452.87,242.59 L453.69,242.60 L454.51,242.57 L455.33,242.63 L456.14,242.58 L456.96,242.62 L457.78,242.62 L458.60,242.60 L459.42,242.57 L460.23,242.62 L461.05,242.62 L461.87,242.62 L462.69,242.55 L463.51,242.59 L464.32,242.59 L465.14,242.55 L465.96,242.59 L466.78,242.64 L467.60,242.61 L468.41,242.63 L469.23,242.56 L470.05,242.63 L470.87,242.59 L471.69,242.61" stroke="#1f78b4" stroke-width="1.01"/>
<path d="M308.46,150.40 L309.27,151.45 L310.09,154.02 L310.91,157.33 L311.73,163.14 L312.55,180.06 L313.36,196.43 L314.18,208.48 L315.00,216.35 L315.82,221.29 L316.64,224.92 L317.45,227.59 L318.27,229.53 L319.09,231.07 L319.91,232.40 L320.73,233.52 L321.54,234.45 L322.36,235.20 L323.18,235.79 L324.00,236.23 L324.82,236.52 L325.63,236.72 L326.45,236.88 L327.27,237.02 L328.09,237.14 L328.91,237.25 L329.72,237.34 L330.54,237.43 L331.36,237.51 L332.18,237.59 L333.00,237.68 L333.81,237.77 L334.63,237.85 L335.45,237.92 L336.27,237.99 L337.09,238.06 L337.90,238.12 L338.72,238.18 L339.54,238.24 L340.36,238.30 L341.18,238.35 L341.99,238.41 L342.81,238.47 L343.63,238.53 L344.45,238.59 L345.27,238.65 L346.08,238.71 L346.90,238.78 L347.72,238.85 L348.54,238.92 L349.36,239.00 L350.17,239.08 L350.99,239.18 L351.81,239.29 L352.63,239.34 L353.45,239.47 L354.26,239.62 L355.08,239.70 L355.90,239.84 L356.72,239.76 L357.54,239.99 L358.35,240.07 L359.17,240.28 L359.99,240.37 L360.81,240.29 L361.63,240.50 L362.44,240.56 L363.26,240.48 L364.08,240.54 L364.90,240.78 L365.72,240.89 L366.53,241.00 L367.35,241.13 L368.17,240.94 L368.99,241.38 L369.81,241.33 L370.62,241.61 L371.44,241.61 L372.26,241.50 L373.08,241.57 L373.90,241.65 L374.71,241.80 L375.53,241.90 L376.35,241.95 L377.17,241.99 L377.99,241.88 L378.80,241.89 L379.62,242.06 L380.44,242.21 L381.26,242.29 L382.08,242.19 L382.89,242.28 L383.71,242.46 L384.53,242.17 L385.35,242.34 L386.17,242.40 L386.98,242.47 L387.80,242.49 L388.62,242.35 L389.44,242.53 L390.26,242.47 L391.07,242.44 L391.89,242.35 L392.71,242.48 L393.53,242.55 L394.35,242.60 L395.16,242.51 L395.98,242.52 L396.80,242.64 L397.62,242.58 L398.44,242.65 L399.25,242.76 L400.07,242.73 L400.89,242.62 L401.71,242.59 L402.53,242.66 L403.34,242.73 L404.16,242.77 L404.98,242.70 L405.80,242.73 L406.62,242.85 L407.43,242.73 L408.25,242.82 L409.07,242.75 L409.89,242.77 L410.71,242.76 L411.52,242.75 L412.34,242.78 L413.16,242.89 L413.98,242.90 L414.80,242.79 L415.61,242.84 L416.43,242.95 L417.25,242.98 L418.07,242.84 L418.89,242.77 L419.70,242.86 L420.52,242.93 L421.34,242.91 L422.16,243.05 L422.98,242.98 L423.79,242.90 L424.61,242.92 L425.43,243.05 L426.25,242.92 L427.07,242.96 L427.88,242.95 L428.70,243.01 L429.52,243.01 L430.34,243.06 L431.16,243.01 L431.97,242.99 L432.79,243.07 L433.61,243.03 L434.43,243.07 L435.25,243.02 L436.06,243.03 L436.88,243.15 L437.70,243.06 L438.52,243.05 L439.34,243.11 L440.15,243.10 L440.97,243.11 L441.79,243.14 L442.61,243.12 L443.43,243.07 L444.24,243.11 L445.06,243.08 L445.88,243.11 L446.70,243.10 L447.52,243.14 L448.33,243.13 L449.15,243.10 L449.97,243.12 L450.79,243.16 L451.61,243.19 L452.42,243.20 L453.24,243.18 L454.06,243.18 L454.88,243.24 L455.70,243.19 L456.51,243.19 L457.33,243.20 L458.15,243.22 L458.97,243.15 L459.79,243.20 L460.60,243.25 L461.42,243.24 L462.24,243.21 L463.06,243.22 L463.88,243.24 L464.69,243.24 L465.51,243.25 L466.33,243.26 L467.15,243.27 L467.97,243.25 L468.78,243.31 L469.60,243.28 L470.42,243.24 L471.24,243.29 L472.06,243.30" stroke="#b2df8a" stroke-width="1.01"/>
<path d="M282.97,150.40 L283.78,161.12 L284.60,169.06 L285.42,172.77 L286.24,172.85 L287.06,172.69 L287.87,172.44 L288.69,172.12 L289.51,171.76 L290.33,171.03 L291.15,169.90 L291.96,168.55 L292.78,167.18 L293.60,166.00 L294.42,165.22 L295.24,165.06 L296.05,165.26 L296.87,165.67 L297.69,166.26 L298.51,166.98 L299.33,167.78 L300.14,168.63 L300.96,169.50 L301.78,170.55 L302.60,171.83 L303.42,173.30 L304.23,174.90 L305.05,176.61 L305.87,178.40 L306.69,180.22 L307.51,182.06 L308.32,183.87 L309.14,185.83 L309.96,188.01 L310.78,190.28 L311.60,192.53 L312.41,194.66 L313.23,196.59 L314.05,198.32 L314.87,199.93 L315.69,201.42 L316.50,202.82 L317.32,204.14 L318.14,205.40 L318.96,206.60 L319.78,207.74 L320.59,208.84 L321.41,209.90 L322.23,210.93 L323.05,211.92 L323.87,212.88 L324.68,213.79 L325.50,214.70 L326.32,215.49 L327.14,216.36 L327.96,217.15 L328.77,218.06 L329.59,219.02 L330.41,219.23 L331.23,220.61 L332.05,220.48 L332.86,220.65 L333.68,221.56 L334.50,221.78 L335.32,224.07 L336.14,224.05 L336.95,225.22 L337.77,225.77 L338.59,226.88 L339.41,227.18 L340.23,226.51 L341.04,227.12 L341.86,227.29 L342.68,227.81 L343.50,228.49 L344.32,229.93 L345.13,229.95 L345.95,229.82 L346.77,229.88 L347.59,231.34 L348.41,231.80 L349.22,232.13 L350.04,231.14 L350.86,232.20 L351.68,233.11 L352.50,233.72 L353.31,233.28 L354.13,234.88 L354.95,234.33 L355.77,234.84 L356.59,235.14 L357.40,234.96 L358.22,235.12 L359.04,233.76 L359.86,235.87 L360.68,235.82 L361.49,236.85 L362.31,237.46 L363.13,236.39 L363.95,236.23 L364.77,237.82 L365.58,237.65 L366.40,237.36 L367.22,237.98 L368.04,239.03 L368.86,238.00 L369.67,238.59 L370.49,238.45 L371.31,239.15 L372.13,238.69 L372.95,238.78 L373.76,239.45 L374.58,239.20 L375.40,239.63 L376.22,239.68 L377.04,239.88 L377.85,239.84 L378.67,239.98 L379.49,239.57 L380.31,240.02 L381.13,240.30 L381.94,239.76 L382.76,240.04 L383.58,240.00 L384.40,240.31 L385.22,240.20 L386.03,240.44 L386.85,240.67 L387.67,240.50 L388.49,240.55 L389.31,240.60 L390.12,240.50 L390.94,241.04 L391.76,240.71 L392.58,240.96 L393.40,240.91 L394.21,240.82 L395.03,240.93 L395.85,241.10 L396.67,240.89 L397.49,241.07 L398.30,240.94 L399.12,240.92 L399.94,241.23 L400.76,241.38 L401.58,241.24 L402.39,241.15 L403.21,241.27 L404.03,241.52 L404.85,241.62 L405.67,241.55 L406.48,241.58 L407.30,241.38 L408.12,241.49 L408.94,241.40 L409.76,241.57 L410.57,241.34 L411.39,241.61 L412.21,241.56 L413.03,241.71 L413.85,241.63 L414.66,241.57 L415.48,241.64 L416.30,241.60 L417.12,241.85 L417.94,241.75 L418.75,241.61 L419.57,241.82 L420.39,241.89 L421.21,241.92 L422.03,241.97 L422.84,241.92 L423.66,241.80 L424.48,241.93 L425.30,242.00 L426.12,242.10 L426.93,242.15 L427.75,241.79 L428.57,242.12 L429.39,242.08 L430.21,242.16 L431.02,242.11 L431.84,242.19 L432.66,242.16 L433.48,242.04 L434.30,242.27 L435.11,242.17 L435.93,242.25 L436.75,242.19 L437.57,242.33 L438.39,242.26 L439.20,242.39 L440.02,242.47 L440.84,242.44 L441.66,242.43 L442.48,242.46 L443.29,242.42 L444.11,242.32 L444.93,242.51 L445.75,242.40 L446.57,242.44" stroke="#33a02c" stroke-width="1.01" stroke-dasharray="3.33 1.44"/>
<path d="M290.01,150.40 L290.83,160.61 L291.65,167.37 L292.46,170.24 L293.28,171.80 L294.10,172.41 L294.92,171.44 L295.74,169.85 L296.55,169.48 L297.37,169.82 L298.19,170.48 L299.01,171.37 L299.83,172.42 L300.64,173.56 L301.46,174.70 L302.28,175.79 L303.10,176.87 L303.92,178.03 L304.73,179.26 L305.55,180.56 L306.37,181.92 L307.19,183.35 L308.01,184.84 L308.82,186.37 L309.64,188.03 L310.46,189.86 L311.28,191.79 L312.10,193.77 L312.91,195.77 L313.73,197.75 L314.55,199.90 L315.37,202.12 L316.19,204.30 L317.00,206.33 L317.82,208.14 L318.64,209.65 L319.46,210.94 L320.28,212.13 L321.09,213.23 L321.91,214.26 L322.73,215.22 L323.55,216.11 L324.37,216.96 L325.18,217.75 L326.00,218.50 L326.82,219.21 L327.64,219.89 L328.46,220.54 L329.27,221.16 L330.09,221.76 L330.91,222.34 L331.73,222.90 L332.55,223.43 L333.36,224.06 L334.18,224.50 L335.00,224.91 L335.82,225.34 L336.64,225.85 L337.45,226.55 L338.27,226.93 L339.09,227.43 L339.91,227.60 L340.73,228.33 L341.54,228.76 L342.36,229.26 L343.18,229.31 L344.00,229.62 L344.82,230.16 L345.63,230.53 L346.45,230.74 L347.27,230.72 L348.09,231.60 L348.91,231.60 L349.72,231.82 L350.54,232.04 L351.36,232.08 L352.18,232.42 L353.00,232.79 L353.81,232.70 L354.63,232.99 L355.45,233.42 L356.27,233.62 L357.09,234.18 L357.90,234.01 L358.72,234.42 L359.54,234.67 L360.36,234.59 L361.18,235.13 L361.99,235.04 L362.81,235.06 L363.63,234.93 L364.45,235.23 L365.27,235.13 L366.08,234.90 L366.90,235.23 L367.72,235.87 L368.54,236.13 L369.36,236.01 L370.17,236.10 L370.99,236.47 L371.81,236.50 L372.63,236.58 L373.45,236.41 L374.26,235.99 L375.08,236.01 L375.90,236.77 L376.72,236.73 L377.54,237.02 L378.35,237.16 L379.17,236.89 L379.99,236.95 L380.81,237.18 L381.63,236.98 L382.44,237.27 L383.26,237.04 L384.08,237.46 L384.90,237.24 L385.72,237.54 L386.53,237.54 L387.35,237.51 L388.17,237.97 L388.99,237.92 L389.81,237.85 L390.62,237.96 L391.44,237.92 L392.26,238.18 L393.08,238.33 L393.90,238.17 L394.71,238.16 L395.53,238.41 L396.35,238.10 L397.17,238.26 L397.99,238.28 L398.80,238.35 L399.62,238.68 L400.44,238.21 L401.26,238.76 L402.08,238.62 L402.89,238.61 L403.71,238.72 L404.53,238.79 L405.35,238.99 L406.17,238.97 L406.98,238.95 L407.80,238.79 L408.62,239.13 L409.44,238.97 L410.26,239.05 L411.07,239.14 L411.89,239.27 L412.71,239.24 L413.53,239.50 L414.35,239.28 L415.16,239.28 L415.98,239.43 L416.80,239.32 L417.62,239.38 L418.44,239.55 L419.25,239.37 L420.07,239.59 L420.89,239.20 L421.71,239.71 L422.53,239.70 L423.34,239.71 L424.16,239.62 L424.98,239.52 L425.80,239.69 L426.62,239.77 L427.43,239.49 L428.25,239.63 L429.07,239.82 L429.89,239.82 L430.71,240.02 L431.52,239.84 L432.34,239.65 L433.16,240.03 L433.98,240.07 L434.80,239.90 L435.61,240.22 L436.43,239.78 L437.25,240.15 L438.07,240.07 L438.89,240.01 L439.70,239.86 L440.52,239.97 L441.34,240.25 L442.16,240.24 L442.98,240.03 L443.79,240.30 L444.61,240.10 L445.43,240.17 L446.25,239.99 L447.07,239.95 L447.88,240.38 L448.70,240.05 L449.52,240.03 L450.34,240.20 L451.16,240.18 L451.97,240.25 L452.79,240.16 L453.61,240.07" stroke="#fb9a99" stroke-width="1.01" stroke-dasharray="0.90 1.48"/>
<path d="M304.07,150.40 L304.89,150.40 L305.71,150.40 L306.52,150.40 L307.34,150.40 L308.16,153.28 L308.98,159.64 L309.80,166.35 L310.61,172.90 L311.43,179.98 L312.25,186.92 L313.07,193.33 L313.89,202.23 L314.70,214.35 L315.52,227.73 L316.34,228.45 L317.16,228.82 L317.98,228.93 L318.79,228.60 L319.61,227.85 L320.43,227.07 L321.25,226.70 L322.07,228.03 L322.88,230.15 L323.70,231.02 L324.52,231.15 L325.34,231.24 L326.16,231.30 L326.97,231.35 L327.79,231.41 L328.61,231.50 L329.43,231.61 L330.25,231.74 L331.06,231.88 L331.88,232.04 L332.70,232.20 L333.52,232.37 L334.34,232.54 L335.15,232.72 L335.97,232.91 L336.79,233.10 L337.61,233.29 L338.43,233.48 L339.24,233.67 L340.06,233.86 L340.88,234.05 L341.70,234.23 L342.52,234.41 L343.33,234.59 L344.15,234.76 L344.97,234.93 L345.79,235.09 L346.61,235.25 L347.42,235.44 L348.24,235.56 L349.06,235.78 L349.88,236.06 L350.70,236.10 L351.51,236.41 L352.33,236.48 L353.15,236.54 L353.97,236.78 L354.79,237.09 L355.60,237.24 L356.42,237.35 L357.24,237.40 L358.06,237.73 L358.88,237.73 L359.69,237.95 L360.51,238.13 L361.33,238.28 L362.15,238.24 L362.97,238.67 L363.78,238.77 L364.60,238.69 L365.42,238.80 L366.24,239.14 L367.06,239.21 L367.87,239.34 L368.69,239.26 L369.51,239.48 L370.33,239.35 L371.15,239.50 L371.96,239.63 L372.78,239.71 L373.60,239.74 L374.42,239.77 L375.24,239.92 L376.05,239.95 L376.87,239.93 L377.69,240.08 L378.51,239.99 L379.33,240.17 L380.14,240.28 L380.96,240.21 L381.78,240.08 L382.60,240.13 L383.42,240.51 L384.23,240.35 L385.05,240.47 L385.87,240.48 L386.69,240.52 L387.51,240.54 L388.32,240.61 L389.14,240.61 L389.96,240.60 L390.78,240.77 L391.60,240.80 L392.41,240.82 L393.23,240.85 L394.05,240.72 L394.87,240.91 L395.69,240.84 L396.50,240.86 L397.32,240.83 L398.14,240.92 L398.96,240.85 L399.78,240.98 L400.59,240.98 L401.41,240.96 L402.23,241.17 L403.05,241.04 L403.87,240.97 L404.68,241.11 L405.50,241.17 L406.32,241.01 L407.14,241.18 L407.96,241.11 L408.77,241.41 L409.59,241.25 L410.41,241.32 L411.23,241.27 L412.05,241.23 L412.86,241.35 L413.68,241.38 L414.50,241.57 L415.32,241.34 L416.14,241.32 L416.95,241.42 L417.77,241.48 L418.59,241.44 L419.41,241.41 L420.23,241.46 L421.04,241.37 L421.86,241.57 L422.68,241.64 L423.50,241.53 L424.32,241.49 L425.13,241.62 L425.95,241.61 L426.77,241.66 L427.59,241.71 L428.41,241.70 L429.22,241.79 L430.04,241.66 L430.86,241.66 L431.68,241.64 L432.50,241.76 L433.31,241.76 L434.13,241.83 L434.95,241.83 L435.77,241.70 L436.59,241.59 L437.40,241.84 L438.22,241.81 L439.04,241.74 L439.86,241.84 L440.68,241.78 L441.49,241.84 L442.31,241.85 L443.13,241.79 L443.95,241.86 L444.77,241.92 L445.58,241.81 L446.40,241.87 L447.22,241.91 L448.04,241.93 L448.86,241.85 L449.67,241.93 L450.49,241.89 L451.31,241.85 L452.13,241.92 L452.95,241.85 L453.76,241.99 L454.58,241.89 L455.40,241.90 L456.22,241.83 L457.04,241.93 L457.85,241.89 L458.67,241.95 L459.49,242.00 L460.31,241.99 L461.13,241.99 L461.94,241.91 L462.76,241.99 L463.58,241.95 L464.40,241.91 L465.22,241.89 L466.03,241.91 L466.85,241.88 L467.67,242.02" stroke="#e31a1c" stroke-width="1.01" stroke-dasharray="5.76 1.44 0.90 1.44"/>
<path d="M310.95,150.40 L311.76,154.76 L312.58,165.60 L313.40,196.95 L314.22,211.46 L315.04,219.75 L315.85,225.18 L316.67,228.88 L317.49,231.15 L318.31,232.51 L319.13,233.48 L319.94,234.25 L320.76,234.95 L321.58,235.61 L322.40,236.20 L323.22,236.72 L324.03,237.19 L324.85,237.61 L325.67,237.99 L326.49,238.35 L327.31,238.69 L328.12,239.01 L328.94,239.30 L329.76,239.55 L330.58,239.77 L331.40,239.94 L332.21,240.08 L333.03,240.19 L333.85,240.29 L334.67,240.38 L335.49,240.46 L336.30,240.54 L337.12,240.61 L337.94,240.68 L338.76,240.74 L339.58,240.79 L340.39,240.85 L341.21,240.90 L342.03,240.94 L342.85,240.99 L343.67,241.03 L344.48,241.07 L345.30,241.11 L346.12,241.15 L346.94,241.19 L347.76,241.23 L348.57,241.27 L349.39,241.31 L350.21,241.35 L351.03,241.39 L351.85,241.43 L352.66,241.48 L353.48,241.52 L354.30,241.55 L355.12,241.59 L355.94,241.63 L356.75,241.67 L357.57,241.71 L358.39,241.72 L359.21,241.78 L360.03,241.81 L360.84,241.82 L361.66,241.89 L362.48,241.92 L363.30,241.92 L364.12,241.96 L364.93,242.01 L365.75,242.02 L366.57,242.02 L367.39,242.08 L368.21,242.09 L369.02,242.12 L369.84,242.16 L370.66,242.14 L371.48,242.17 L372.30,242.19 L373.11,242.23 L373.93,242.25 L374.75,242.26 L375.57,242.28 L376.39,242.31 L377.20,242.33 L378.02,242.31 L378.84,242.38 L379.66,242.38 L380.48,242.39 L381.29,242.41 L382.11,242.44 L382.93,242.44 L383.75,242.42 L384.57,242.46 L385.38,242.48 L386.20,242.43 L387.02,242.52 L387.84,242.47 L388.66,242.50 L389.47,242.55 L390.29,242.53 L391.11,242.54 L391.93,242.52 L392.75,242.53 L393.56,242.57 L394.38,242.60 L395.20,242.62 L396.02,242.60 L396.84,242.63 L397.65,242.61 L398.47,242.62 L399.29,242.62 L400.11,242.62 L400.93,242.64 L401.74,242.64 L402.56,242.66 L403.38,242.65 L404.20,242.66 L405.02,242.65 L405.83,242.67 L406.65,242.71 L407.47,242.73 L408.29,242.70 L409.11,242.70 L409.92,242.74 L410.74,242.71 L411.56,242.74 L412.38,242.75 L413.20,242.75 L414.01,242.79 L414.83,242.80 L415.65,242.78 L416.47,242.80 L417.29,242.79 L418.10,242.80 L418.92,242.84 L419.74,242.82 L420.56,242.81 L421.38,242.86 L422.19,242.83 L423.01,242.85 L423.83,242.87 L424.65,242.83 L425.47,242.83 L426.28,242.86 L427.10,242.87 L427.92,242.85 L428.74,242.85 L429.56,242.88 L430.37,242.87 L431.19,242.88 L432.01,242.90 L432.83,242.89 L433.65,242.91 L434.46,242.90 L435.28,242.91 L436.10,242.92 L436.92,242.93 L437.74,242.92 L438.55,242.91 L439.37,242.92 L440.19,242.95 L441.01,242.93 L441.83,242.95 L442.64,242.96 L443.46,242.95 L444.28,242.94 L445.10,242.95 L445.92,242.95 L446.73,242.95 L447.55,242.96 L448.37,242.97 L449.19,242.96 L450.01,242.98 L450.82,242.97 L451.64,242.97 L452.46,242.99 L453.28,243.00 L454.10,242.99 L454.91,243.00 L455.73,243.00 L456.55,243.00 L457.37,243.01 L458.19,243.02 L459.00,243.00 L459.82,243.00 L460.64,243.00 L461.46,243.01 L462.28,242.99 L463.09,243.01 L463.91,243.02 L464.73,243.01 L465.55,243.02 L466.37,243.01 L467.18,243.02 L468.00,243.02 L468.82,243.03 L469.64,243.03 L470.46,243.02 L471.27,243.02 L472.09,243.04 L472.91,243.04 L473.73,243.05 L474.55,243.03" stroke="#fdbf6f" stroke-width="1.01"/>
<path d="M300.06,150.40 L300.88,150.92 L301.69,151.59 L302.51,152.33 L303.33,153.20 L304.15,154.39 L304.97,156.51 L305.78,160.95 L306.60,165.58 L307.42,169.95 L308.24,174.27 L309.06,178.44 L309.87,182.45 L310.69,186.21 L311.51,189.76 L312.33,193.10 L313.15,196.12 L313.96,198.79 L314.78,201.23 L315.60,203.42 L316.42,205.31 L317.24,206.94 L318.05,208.40 L318.87,209.73 L319.69,210.96 L320.51,212.10 L321.33,213.18 L322.14,214.22 L322.96,215.23 L323.78,216.23 L324.60,217.24 L325.42,218.27 L326.23,219.30 L327.05,220.31 L327.87,221.29 L328.69,222.22 L329.51,223.07 L330.32,223.85 L331.14,224.53 L331.96,225.12 L332.78,225.62 L333.60,226.08 L334.41,226.49 L335.23,226.87 L336.05,227.23 L336.87,227.56 L337.69,227.89 L338.50,228.20 L339.32,228.52 L340.14,228.85 L340.96,229.18 L341.78,229.53 L342.59,229.87 L343.41,230.22 L344.23,230.52 L345.05,230.86 L345.87,231.17 L346.68,231.58 L347.50,231.82 L348.32,232.25 L349.14,232.52 L349.96,232.73 L350.77,233.03 L351.59,233.33 L352.41,233.54 L353.23,233.90 L354.05,234.28 L354.86,234.54 L355.68,234.85 L356.50,235.00 L357.32,235.33 L358.14,235.55 L358.95,235.81 L359.77,236.09 L360.59,235.87 L361.41,236.23 L362.23,236.72 L363.04,236.64 L363.86,236.91 L364.68,237.24 L365.50,237.19 L366.32,237.29 L367.13,237.38 L367.95,237.45 L368.77,237.79 L369.59,237.81 L370.41,237.83 L371.22,237.94 L372.04,238.05 L372.86,238.16 L373.68,238.10 L374.50,238.46 L375.31,238.56 L376.13,238.25 L376.95,238.47 L377.77,238.46 L378.59,238.62 L379.40,238.75 L380.22,238.82 L381.04,238.82 L381.86,238.94 L382.68,238.96 L383.49,239.02 L384.31,238.98 L385.13,239.04 L385.95,239.01 L386.77,239.30 L387.58,239.28 L388.40,239.24 L389.22,239.35 L390.04,239.65 L390.86,239.45 L391.67,239.53 L392.49,239.62 L393.31,239.66 L394.13,239.73 L394.95,239.61 L395.76,239.70 L396.58,239.78 L397.40,239.75 L398.22,239.81 L399.04,239.99 L399.85,240.05 L400.67,240.08 L401.49,239.98 L402.31,240.08 L403.13,240.02 L403.94,240.11 L404.76,240.20 L405.58,240.32 L406.40,240.28 L407.22,240.13 L408.03,240.37 L408.85,240.42 L409.67,240.40 L410.49,240.32 L411.31,240.45 L412.12,240.55 L412.94,240.55 L413.76,240.55 L414.58,240.56 L415.40,240.53 L416.21,240.45 L417.03,240.56 L417.85,240.63 L418.67,240.70 L419.49,240.77 L420.30,240.71 L421.12,240.69 L421.94,240.74 L422.76,240.82 L423.58,240.80 L424.39,240.87 L425.21,240.89 L426.03,240.91 L426.85,240.91 L427.67,240.94 L428.48,240.90 L429.30,240.98 L430.12,241.00 L430.94,240.95 L431.76,240.99 L432.57,240.98 L433.39,241.10 L434.21,241.00 L435.03,241.09 L435.85,241.16 L436.66,241.13 L437.48,241.20 L438.30,241.20 L439.12,241.18 L439.94,241.12 L440.75,241.25 L441.57,241.18 L442.39,241.22 L443.21,241.14 L444.03,241.22 L444.84,241.21 L445.66,241.18 L446.48,241.31 L447.30,241.28 L448.12,241.35 L448.93,241.32 L449.75,241.27 L450.57,241.30 L451.39,241.28 L452.21,241.33 L453.02,241.35 L453.84,241.33 L454.66,241.37 L455.48,241.38 L456.30,241.41 L457.11,241.34 L457.93,241.32 L458.75,241.40 L459.57,241.37 L460.39,241.46 L461.20,241.41 L462.02,241.35 L462.84,241.41 L463.66,241.33" stroke="#ff7f00" stroke-width="1.01"/>
<path d="M290.89,150.40 L291.71,158.93 L292.53,164.41 L293.35,165.22 L294.17,165.22 L294.98,165.22 L295.80,165.22 L296.62,165.30 L297.44,165.60 L298.26,166.09 L299.07,166.73 L299.89,167.48 L300.71,168.31 L301.53,169.17 L302.35,170.05 L303.16,171.11 L303.98,172.38 L304.80,173.83 L305.62,175.42 L306.44,177.12 L307.25,178.90 L308.07,180.94 L308.89,183.33 L309.71,185.93 L310.53,188.59 L311.34,191.20 L312.16,193.67 L312.98,195.93 L313.80,197.92 L314.62,199.80 L315.43,201.58 L316.25,203.27 L317.07,204.88 L317.89,206.42 L318.71,207.89 L319.52,209.30 L320.34,210.66 L321.16,211.98 L321.98,213.26 L322.80,214.49 L323.61,215.68 L324.43,216.81 L325.25,217.88 L326.07,218.91 L326.89,219.87 L327.70,220.78 L328.52,221.64 L329.34,222.44 L330.16,223.18 L330.98,223.87 L331.79,224.50 L332.61,225.10 L333.43,225.67 L334.25,226.25 L335.07,226.78 L335.88,227.44 L336.70,227.77 L337.52,228.15 L338.34,228.67 L339.16,229.12 L339.97,229.58 L340.79,230.07 L341.61,230.36 L342.43,230.78 L343.25,231.16 L344.06,231.48 L344.88,231.90 L345.70,232.15 L346.52,232.40 L347.34,232.65 L348.15,233.04 L348.97,233.23 L349.79,233.57 L350.61,234.11 L351.43,234.32 L352.24,234.33 L353.06,234.67 L353.88,234.66 L354.70,235.11 L355.52,235.18 L356.33,235.38 L357.15,235.58 L357.97,235.72 L358.79,235.79 L359.61,235.92 L360.42,236.15 L361.24,236.18 L362.06,236.25 L362.88,236.48 L363.70,236.66 L364.51,236.76 L365.33,236.83 L366.15,236.93 L366.97,236.94 L367.79,236.64 L368.60,236.97 L369.42,237.22 L370.24,237.23 L371.06,237.32 L371.88,237.31 L372.69,237.38 L373.51,237.78 L374.33,237.44 L375.15,237.92 L375.97,237.88 L376.78,238.07 L377.60,238.25 L378.42,238.33 L379.24,237.95 L380.06,238.09 L380.87,238.45 L381.69,238.53 L382.51,238.30 L383.33,238.65 L384.15,238.55 L384.96,238.44 L385.78,238.65 L386.60,238.63 L387.42,238.83 L388.24,239.09 L389.05,239.05 L389.87,239.21 L390.69,239.05 L391.51,239.27 L392.33,239.18 L393.14,239.30 L393.96,239.37 L394.78,239.30 L395.60,239.45 L396.42,239.53 L397.23,239.41 L398.05,239.55 L398.87,239.72 L399.69,239.53 L400.51,239.80 L401.32,239.70 L402.14,239.72 L402.96,239.83 L403.78,239.92 L404.60,239.91 L405.41,239.95 L406.23,240.05 L407.05,239.93 L407.87,240.08 L408.69,240.13 L409.50,240.00 L410.32,240.20 L411.14,240.29 L411.96,240.21 L412.78,240.24 L413.59,240.27 L414.41,240.14 L415.23,240.37 L416.05,240.26 L416.87,240.32 L417.68,240.31 L418.50,240.44 L419.32,240.48 L420.14,240.50 L420.96,240.49 L421.77,240.47 L422.59,240.45 L423.41,240.69 L424.23,240.53 L425.05,240.60 L425.86,240.64 L426.68,240.73 L427.50,240.66 L428.32,240.81 L429.14,240.64 L429.95,240.79 L430.77,240.76 L431.59,240.78 L432.41,240.75 L433.23,240.88 L434.04,240.76 L434.86,240.80 L435.68,240.75 L436.50,240.83 L437.32,240.87 L438.13,240.99 L438.95,240.91 L439.77,240.80 L440.59,240.93 L441.41,240.95 L442.22,240.93 L443.04,240.88 L443.86,241.04 L444.68,240.84 L445.50,240.92 L446.31,240.92 L447.13,240.97 L447.95,240.86 L448.77,241.00 L449.59,240.93 L450.40,240.98 L451.22,241.06 L452.04,241.00 L452.86,240.95 L453.68,241.01 L454.49,241.01" stroke="#cab2d6" stroke-width="1.01"/>
<path d="M302.13,150.40 L302.95,164.51 L303.76,164.51 L304.58,164.51 L305.40,164.51 L306.22,164.51 L307.04,165.71 L307.85,171.09 L308.67,176.15 L309.49,181.46 L310.31,186.31 L311.13,190.21 L311.94,192.91 L312.76,195.06 L313.58,197.48 L314.40,200.35 L315.22,203.40 L316.03,206.47 L316.85,209.43 L317.67,212.19 L318.49,214.66 L319.31,216.82 L320.12,218.64 L320.94,220.24 L321.76,221.72 L322.58,223.08 L323.40,224.33 L324.21,225.48 L325.03,226.54 L325.85,227.52 L326.67,228.43 L327.49,229.28 L328.30,230.06 L329.12,230.79 L329.94,231.47 L330.76,232.10 L331.58,232.69 L332.39,233.24 L333.21,233.74 L334.03,234.19 L334.85,234.61 L335.67,235.01 L336.48,235.37 L337.30,235.72 L338.12,236.06 L338.94,236.38 L339.76,236.70 L340.57,237.01 L341.39,237.31 L342.21,237.62 L343.03,237.92 L343.85,238.25 L344.66,238.54 L345.48,238.82 L346.30,239.11 L347.12,239.46 L347.94,239.63 L348.75,239.96 L349.57,240.10 L350.39,240.36 L351.21,240.47 L352.03,240.65 L352.84,240.83 L353.66,240.91 L354.48,241.11 L355.30,241.20 L356.12,241.30 L356.93,241.43 L357.75,241.41 L358.57,241.50 L359.39,241.63 L360.21,241.77 L361.02,241.75 L361.84,241.82 L362.66,241.86 L363.48,241.96 L364.30,242.03 L365.11,241.98 L365.93,242.16 L366.75,242.19 L367.57,242.33 L368.39,242.29 L369.20,242.34 L370.02,242.37 L370.84,242.35 L371.66,242.46 L372.48,242.43 L373.29,242.51 L374.11,242.54 L374.93,242.65 L375.75,242.54 L376.57,242.55 L377.38,242.66 L378.20,242.65 L379.02,242.73 L379.84,242.67 L380.66,242.72 L381.47,242.65 L382.29,242.69 L383.11,242.66 L383.93,242.75 L384.75,242.80 L385.56,242.73 L386.38,242.76 L387.20,242.64 L388.02,242.74 L388.84,242.68 L389.65,242.74 L390.47,242.79 L391.29,242.85 L392.11,242.80 L392.93,242.76 L393.74,242.80 L394.56,242.79 L395.38,242.80 L396.20,242.88 L397.02,242.81 L397.83,242.86 L398.65,242.83 L399.47,242.77 L400.29,242.93 L401.11,242.86 L401.92,242.84 L402.74,242.81 L403.56,242.86 L404.38,242.90 L405.20,242.84 L406.01,242.85 L406.83,242.95 L407.65,242.88 L408.47,242.96 L409.29,243.00 L410.10,242.94 L410.92,242.94 L411.74,242.99 L412.56,242.84 L413.38,242.97 L414.19,242.91 L415.01,242.90 L415.83,242.85 L416.65,242.96 L417.47,242.89 L418.28,243.00 L419.10,242.96 L419.92,242.98 L420.74,243.01 L421.56,242.97 L422.37,242.92 L423.19,242.91 L424.01,242.98 L424.83,243.04 L425.65,243.04 L426.46,243.00 L427.28,243.00 L428.10,243.01 L428.92,243.04 L429.74,243.07 L430.55,243.03 L431.37,243.05 L432.19,243.01 L433.01,243.08 L433.83,243.04 L434.64,243.03 L435.46,243.02 L436.28,243.03 L437.10,243.12 L437.92,243.13 L438.73,243.10 L439.55,243.13 L440.37,243.17 L441.19,243.08 L442.01,243.11 L442.82,243.10 L443.64,243.13 L444.46,243.11 L445.28,243.14 L446.10,243.15 L446.91,243.11 L447.73,243.19 L448.55,243.15 L449.37,243.20 L450.19,243.14 L451.00,243.19 L451.82,243.21 L452.64,243.23 L453.46,243.20 L454.28,243.16 L455.09,243.19 L455.91,243.24 L456.73,243.25 L457.55,243.16 L458.37,243.23 L459.18,243.25 L460.00,243.23 L460.82,243.22 L461.64,243.21 L462.46,243.25 L463.27,243.26 L464.09,243.24 L464.91,243.27 L465.73,243.25" stroke="#6a3d9a" stroke-width="1.01" stroke-dasharray="3.33 1.44"/>
<path d="M309.74,150.40 L310.56,152.77 L311.38,158.97 L312.20,167.50 L313.02,186.11 L313.83,209.25 L314.65,221.74 L315.47,226.55 L316.29,229.25 L317.11,231.03 L317.92,232.33 L318.74,233.29 L319.56,234.00 L320.38,234.57 L321.20,235.05 L322.01,235.46 L322.83,235.81 L323.65,236.12 L324.47,236.39 L325.29,236.63 L326.10,236.85 L326.92,237.05 L327.74,237.23 L328.56,237.38 L329.38,237.53 L330.19,237.67 L331.01,237.79 L331.83,237.92 L332.65,238.03 L333.47,238.15 L334.28,238.28 L335.10,238.40 L335.92,238.51 L336.74,238.63 L337.56,238.74 L338.37,238.84 L339.19,238.95 L340.01,239.05 L340.83,239.15 L341.65,239.24 L342.46,239.34 L343.28,239.43 L344.10,239.52 L344.92,239.61 L345.74,239.69 L346.55,239.78 L347.37,239.86 L348.19,239.94 L349.01,240.02 L349.83,240.10 L350.64,240.18 L351.46,240.25 L352.28,240.33 L353.10,240.40 L353.92,240.46 L354.73,240.56 L355.55,240.62 L356.37,240.71 L357.19,240.77 L358.01,240.85 L358.82,240.90 L359.64,240.96 L360.46,241.01 L361.28,241.13 L362.10,241.15 L362.91,241.23 L363.73,241.29 L364.55,241.34 L365.37,241.38 L366.19,241.44 L367.00,241.49 L367.82,241.49 L368.64,241.59 L369.46,241.63 L370.28,241.71 L371.09,241.70 L371.91,241.78 L372.73,241.81 L373.55,241.86 L374.37,241.88 L375.18,241.94 L376.00,241.98 L376.82,242.02 L377.64,242.02 L378.46,242.04 L379.27,242.04 L380.09,242.04 L380.91,242.05 L381.73,242.15 L382.55,242.17 L383.36,242.15 L384.18,242.21 L385.00,242.17 L385.82,242.19 L386.64,242.27 L387.45,242.23 L388.27,242.23 L389.09,242.27 L389.91,242.31 L390.73,242.32 L391.54,242.32 L392.36,242.37 L393.18,242.35 L394.00,242.38 L394.82,242.41 L395.63,242.43 L396.45,242.41 L397.27,242.46 L398.09,242.44 L398.91,242.50 L399.72,242.48 L400.54,242.48 L401.36,242.49 L402.18,242.49 L403.00,242.51 L403.81,242.52 L404.63,242.55 L405.45,242.58 L406.27,242.59 L407.09,242.60 L407.90,242.59 L408.72,242.58 L409.54,242.61 L410.36,242.62 L411.18,242.62 L411.99,242.65 L412.81,242.65 L413.63,242.66 L414.45,242.67 L415.27,242.69 L416.08,242.71 L416.90,242.71 L417.72,242.72 L418.54,242.68 L419.36,242.70 L420.17,242.74 L420.99,242.76 L421.81,242.75 L422.63,242.78 L423.45,242.74 L424.26,242.77 L425.08,242.79 L425.90,242.77 L426.72,242.77 L427.54,242.80 L428.35,242.79 L429.17,242.84 L429.99,242.83 L430.81,242.84 L431.63,242.86 L432.44,242.82 L433.26,242.81 L434.08,242.87 L434.90,242.86 L435.72,242.84 L436.53,242.87 L437.35,242.87 L438.17,242.89 L438.99,242.87 L439.81,242.90 L440.62,242.88 L441.44,242.89 L442.26,242.89 L443.08,242.91 L443.90,242.91 L444.71,242.90 L445.53,242.93 L446.35,242.93 L447.17,242.95 L447.99,242.93 L448.80,242.93 L449.62,242.92 L450.44,242.95 L451.26,242.96 L452.08,242.92 L452.89,242.93 L453.71,242.96 L454.53,242.95 L455.35,242.97 L456.17,242.95 L456.98,242.94 L457.80,242.95 L458.62,242.97 L459.44,242.96 L460.26,242.97 L461.07,242.96 L461.89,242.97 L462.71,242.96 L463.53,242.95 L464.35,242.97 L465.16,242.97 L465.98,242.97 L466.80,242.96 L467.62,242.98 L468.44,242.98 L469.25,242.98 L470.07,242.96 L470.89,242.98 L471.71,242.97 L472.53,242.98 L473.34,242.99" stroke="#ffff99" stroke-width="1.01"/>
<path d="M312.75,150.40 L313.57,209.20 L314.39,209.75 L315.21,209.97 L316.02,210.24 L316.84,210.95 L317.66,212.47 L318.48,213.71 L319.30,214.31 L320.11,214.76 L320.93,215.12 L321.75,215.41 L322.57,215.69 L323.39,215.98 L324.20,216.31 L325.02,216.73 L325.84,217.27 L326.66,218.04 L327.48,218.99 L328.29,220.05 L329.11,221.14 L329.93,222.22 L330.75,223.24 L331.57,224.15 L332.38,224.93 L333.20,225.54 L334.02,226.04 L334.84,226.47 L335.66,226.85 L336.47,227.20 L337.29,227.53 L338.11,227.84 L338.93,228.14 L339.75,228.45 L340.56,228.76 L341.38,229.10 L342.20,229.46 L343.02,229.85 L343.84,230.26 L344.65,230.69 L345.47,231.14 L346.29,231.58 L347.11,232.02 L347.93,232.46 L348.74,232.88 L349.56,233.28 L350.38,233.66 L351.20,234.02 L352.02,234.36 L352.83,234.66 L353.65,234.94 L354.47,235.19 L355.29,235.43 L356.11,235.66 L356.92,235.83 L357.74,236.05 L358.56,236.24 L359.38,236.47 L360.20,236.66 L361.01,236.85 L361.83,236.94 L362.65,237.15 L363.47,237.27 L364.29,237.54 L365.10,237.54 L365.92,237.76 L366.74,237.99 L367.56,238.04 L368.38,238.07 L369.19,238.12 L370.01,238.48 L370.83,238.51 L371.65,238.52 L372.47,238.72 L373.28,238.74 L374.10,238.87 L374.92,238.88 L375.74,239.07 L376.56,239.07 L377.37,239.18 L378.19,239.18 L379.01,239.26 L379.83,239.25 L380.65,239.37 L381.46,239.31 L382.28,239.63 L383.10,239.59 L383.92,239.56 L384.74,239.67 L385.55,239.94 L386.37,239.75 L387.19,239.87 L388.01,239.67 L388.83,239.93 L389.64,239.92 L390.46,240.09 L391.28,240.01 L392.10,240.32 L392.92,240.23 L393.73,240.23 L394.55,240.36 L395.37,240.21 L396.19,240.33 L397.01,240.25 L397.82,240.51 L398.64,240.51 L399.46,240.44 L400.28,240.56 L401.10,240.51 L401.91,240.56 L402.73,240.69 L403.55,240.67 L404.37,240.68 L405.19,240.73 L406.00,240.80 L406.82,240.85 L407.64,240.87 L408.46,240.83 L409.28,240.79 L410.09,241.03 L410.91,241.04 L411.73,241.02 L412.55,240.96 L413.37,241.12 L414.18,240.97 L415.00,241.01 L415.82,241.29 L416.64,241.15 L417.46,241.19 L418.27,241.27 L419.09,241.37 L419.91,241.29 L420.73,241.35 L421.55,241.29 L422.36,241.35 L423.18,241.45 L424.00,241.33 L424.82,241.36 L425.64,241.40 L426.45,241.49 L427.27,241.48 L428.09,241.54 L428.91,241.59 L429.73,241.67 L430.54,241.60 L431.36,241.71 L432.18,241.62 L433.00,241.73 L433.82,241.68 L434.63,241.72 L435.45,241.78 L436.27,241.79 L437.09,241.79 L437.91,241.73 L438.72,241.79 L439.54,241.83 L440.36,241.81 L441.18,241.90 L442.00,241.93 L442.81,241.93 L443.63,241.87 L444.45,241.94 L445.27,241.94 L446.09,241.95 L446.90,241.99 L447.72,241.94 L448.54,241.98 L449.36,242.05 L450.18,242.07 L450.99,242.05 L451.81,242.09 L452.63,242.07 L453.45,242.06 L454.27,242.10 L455.08,242.11 L455.90,242.14 L456.72,242.16 L457.54,242.18 L458.36,242.12 L459.17,242.20 L459.99,242.18 L460.81,242.19 L461.63,242.19 L462.45,242.23 L463.26,242.27 L464.08,242.17 L464.90,242.28 L465.72,242.24 L466.54,242.30 L467.35,242.26 L468.17,242.32 L468.99,242.25 L469.81,242.29 L470.63,242.36 L471.44,242.27 L472.26,242.38 L473.08,242.35 L473.90,242.32 L474.72,242.36 L475.53,242.33 L476.35,242.37" stroke="#b15928" stroke-width="1.01"/>
</g>
<rect x="272.6" y="145.8" width="215.5" height="101.6" fill="none" stroke="#8a8a8a" stroke-width="0.9"/>
<line x1="313.40" y1="247.4" x2="313.40" y2="249.0" stroke="#555555" stroke-width="0.7"/>
<line x1="354.30" y1="247.4" x2="354.30" y2="249.0" stroke="#555555" stroke-width="0.7"/>
<line x1="395.20" y1="247.4" x2="395.20" y2="249.0" stroke="#555555" stroke-width="0.7"/>
<line x1="436.10" y1="247.4" x2="436.10" y2="249.0" stroke="#555555" stroke-width="0.7"/>
<line x1="477.00" y1="247.4" x2="477.00" y2="249.0" stroke="#555555" stroke-width="0.7"/>
<line x1="271.0" y1="243.50" x2="272.6" y2="243.50" stroke="#555555" stroke-width="0.7"/>
<line x1="271.0" y1="224.88" x2="272.6" y2="224.88" stroke="#555555" stroke-width="0.7"/>
<line x1="271.0" y1="206.26" x2="272.6" y2="206.26" stroke="#555555" stroke-width="0.7"/>
<line x1="271.0" y1="187.64" x2="272.6" y2="187.64" stroke="#555555" stroke-width="0.7"/>
<line x1="271.0" y1="169.02" x2="272.6" y2="169.02" stroke="#555555" stroke-width="0.7"/>
<line x1="271.0" y1="150.40" x2="272.6" y2="150.40" stroke="#555555" stroke-width="0.7"/>
<text x="313.40" y="255.40" font-size="6.89" text-anchor="middle" fill="#262626" stroke="#262626" stroke-width="0.15" textLength="4.14" lengthAdjust="spacingAndGlyphs">0</text>
<text x="354.30" y="255.40" font-size="6.89" text-anchor="middle" fill="#262626" stroke="#262626" stroke-width="0.15" textLength="4.14" lengthAdjust="spacingAndGlyphs">5</text>
<text x="395.20" y="255.40" font-size="6.89" text-anchor="middle" fill="#262626" stroke="#262626" stroke-width="0.15" textLength="8.27" lengthAdjust="spacingAndGlyphs">10</text>
<text x="436.10" y="255.40" font-size="6.89" text-anchor="middle" fill="#262626" stroke="#262626" stroke-width="0.15" textLength="8.27" lengthAdjust="spacingAndGlyphs">15</text>
<text x="477.00" y="255.40" font-size="6.89" text-anchor="middle" fill="#262626" stroke="#262626" stroke-width="0.15" textLength="8.27" lengthAdjust="spacingAndGlyphs">20</text>
<text x="269.80" y="245.90" font-size="6.89" text-anchor="end" fill="#262626" stroke="#262626" stroke-width="0.15" textLength="10.34" lengthAdjust="spacingAndGlyphs">0.0</text>
<text x="269.80" y="227.28" font-size="6.89" text-anchor="end" fill="#262626" stroke="#262626" stroke-width="0.15" textLength="10.34" lengthAdjust="spacingAndGlyphs">0.2</text>
<text x="269.80" y="208.66" font-size="6.89" text-anchor="end" fill="#262626" stroke="#262626" stroke-width="0.15" textLength="10.34" lengthAdjust="spacingAndGlyphs">0.4</text>
<text x="269.80" y="190.04" font-size="6.89" text-anchor="end" fill="#262626" stroke="#262626" stroke-width="0.15" textLength="10.34" lengthAdjust="spacingAndGlyphs">0.6</text>
<text x="269.80" y="171.42" font-size="6.89" text-anchor="end" fill="#262626" stroke="#262626" stroke-width="0.15" textLength="10.34" lengthAdjust="spacingAndGlyphs">0.8</text>
<text x="269.80" y="152.80" font-size="6.89" text-anchor="end" fill="#262626" stroke="#262626" stroke-width="0.15" textLength="10.34" lengthAdjust="spacingAndGlyphs">1.0</text>
<text x="380.40" y="262.90" font-size="6.90" text-anchor="middle" fill="#262626" stroke="#262626" stroke-width="0.05" textLength="127.27" lengthAdjust="spacingAndGlyphs">time since the half-maximum melt rate (yr)</text>
<text x="257.10" y="196.60" font-size="6.90" text-anchor="middle" fill="#262626" stroke="#262626" stroke-width="0.05" textLength="79.85" lengthAdjust="spacingAndGlyphs" transform="rotate(-90 257.10 196.60)">normalised mean melt rate</text>
<text x="276.80" y="143.20" font-size="8.65" text-anchor="start" font-weight="bold" fill="#262626" stroke="#262626" stroke-width="0.55" textLength="4.69" lengthAdjust="spacingAndGlyphs">d</text>
<text x="284.10" y="143.20" font-size="7.73" text-anchor="start" fill="#262626" stroke="#262626" stroke-width="0.14" textLength="158.74" lengthAdjust="spacingAndGlyphs">Ocean2 Normalised and Shifted Mean Melt Rate</text>
<rect x="337.6" y="149.1" width="147.9" height="48.4" rx="1.2" fill="#fff" fill-opacity="0.8" stroke="#d8d8d8" stroke-width="0.7"/>
<line x1="339.3" y1="153.20" x2="350.5" y2="153.20" stroke="#a6cee3" stroke-width="1.1" stroke-dasharray="3.33 1.44"/>
<text x="354.60" y="155.40" font-size="6.10" text-anchor="start" fill="#262626" stroke="#262626" stroke-width="0.03" textLength="16.29" lengthAdjust="spacingAndGlyphs">COCO</text>
<line x1="339.3" y1="161.20" x2="350.5" y2="161.20" stroke="#1f78b4" stroke-width="1.1"/>
<text x="354.60" y="163.40" font-size="6.10" text-anchor="start" fill="#262626" stroke="#262626" stroke-width="0.03" textLength="19.78" lengthAdjust="spacingAndGlyphs">FVCOM</text>
<line x1="339.3" y1="169.20" x2="350.5" y2="169.20" stroke="#b2df8a" stroke-width="1.1"/>
<text x="354.60" y="171.40" font-size="6.10" text-anchor="start" fill="#262626" stroke="#262626" stroke-width="0.03" textLength="34.51" lengthAdjust="spacingAndGlyphs">MITgcm-BAS</text>
<line x1="339.3" y1="177.20" x2="350.5" y2="177.20" stroke="#33a02c" stroke-width="1.1" stroke-dasharray="3.33 1.44"/>
<text x="354.60" y="179.40" font-size="6.10" text-anchor="start" fill="#262626" stroke="#262626" stroke-width="0.03" textLength="59.01" lengthAdjust="spacingAndGlyphs">MITgcm-BAS-Coupled</text>
<line x1="339.3" y1="185.20" x2="350.5" y2="185.20" stroke="#fb9a99" stroke-width="1.1" stroke-dasharray="0.90 1.48"/>
<text x="354.60" y="187.40" font-size="6.10" text-anchor="start" fill="#262626" stroke="#262626" stroke-width="0.03" textLength="31.49" lengthAdjust="spacingAndGlyphs">MITgcm-JPL</text>
<line x1="339.3" y1="193.20" x2="350.5" y2="193.20" stroke="#e31a1c" stroke-width="1.1" stroke-dasharray="5.76 1.44 0.90 1.44"/>
<text x="354.60" y="195.40" font-size="6.10" text-anchor="start" fill="#262626" stroke="#262626" stroke-width="0.03" textLength="57.20" lengthAdjust="spacingAndGlyphs">MOM6-SIGMA-ZSTAR</text>
<line x1="423.0" y1="153.20" x2="434.2" y2="153.20" stroke="#fdbf6f" stroke-width="1.1"/>
<text x="437.90" y="155.40" font-size="6.10" text-anchor="start" fill="#262626" stroke="#262626" stroke-width="0.03" textLength="36.68" lengthAdjust="spacingAndGlyphs">MOM6-LAYER</text>
<line x1="423.0" y1="161.20" x2="434.2" y2="161.20" stroke="#ff7f00" stroke-width="1.1"/>
<text x="437.90" y="163.40" font-size="6.10" text-anchor="start" fill="#262626" stroke="#262626" stroke-width="0.03" textLength="34.79" lengthAdjust="spacingAndGlyphs">MPAS-Ocean</text>
<line x1="423.0" y1="169.20" x2="434.2" y2="169.20" stroke="#cab2d6" stroke-width="1.1"/>
<text x="437.90" y="171.40" font-size="6.10" text-anchor="start" fill="#262626" stroke="#262626" stroke-width="0.03" textLength="33.82" lengthAdjust="spacingAndGlyphs">NEMO-CNRS</text>
<line x1="423.0" y1="177.20" x2="434.2" y2="177.20" stroke="#6a3d9a" stroke-width="1.1" stroke-dasharray="3.33 1.44"/>
<text x="437.90" y="179.40" font-size="6.10" text-anchor="start" fill="#262626" stroke="#262626" stroke-width="0.03" textLength="45.75" lengthAdjust="spacingAndGlyphs">NEMO-UKESM1is</text>
<line x1="423.0" y1="185.20" x2="434.2" y2="185.20" stroke="#ffff99" stroke-width="1.1"/>
<text x="437.90" y="187.40" font-size="6.10" text-anchor="start" fill="#262626" stroke="#262626" stroke-width="0.03" textLength="17.66" lengthAdjust="spacingAndGlyphs">POP2x</text>
<line x1="423.0" y1="193.20" x2="434.2" y2="193.20" stroke="#b15928" stroke-width="1.1"/>
<text x="437.90" y="195.40" font-size="6.10" text-anchor="start" fill="#262626" stroke="#262626" stroke-width="0.03" textLength="16.34" lengthAdjust="spacingAndGlyphs">ROMS</text>
</svg></body></html>
